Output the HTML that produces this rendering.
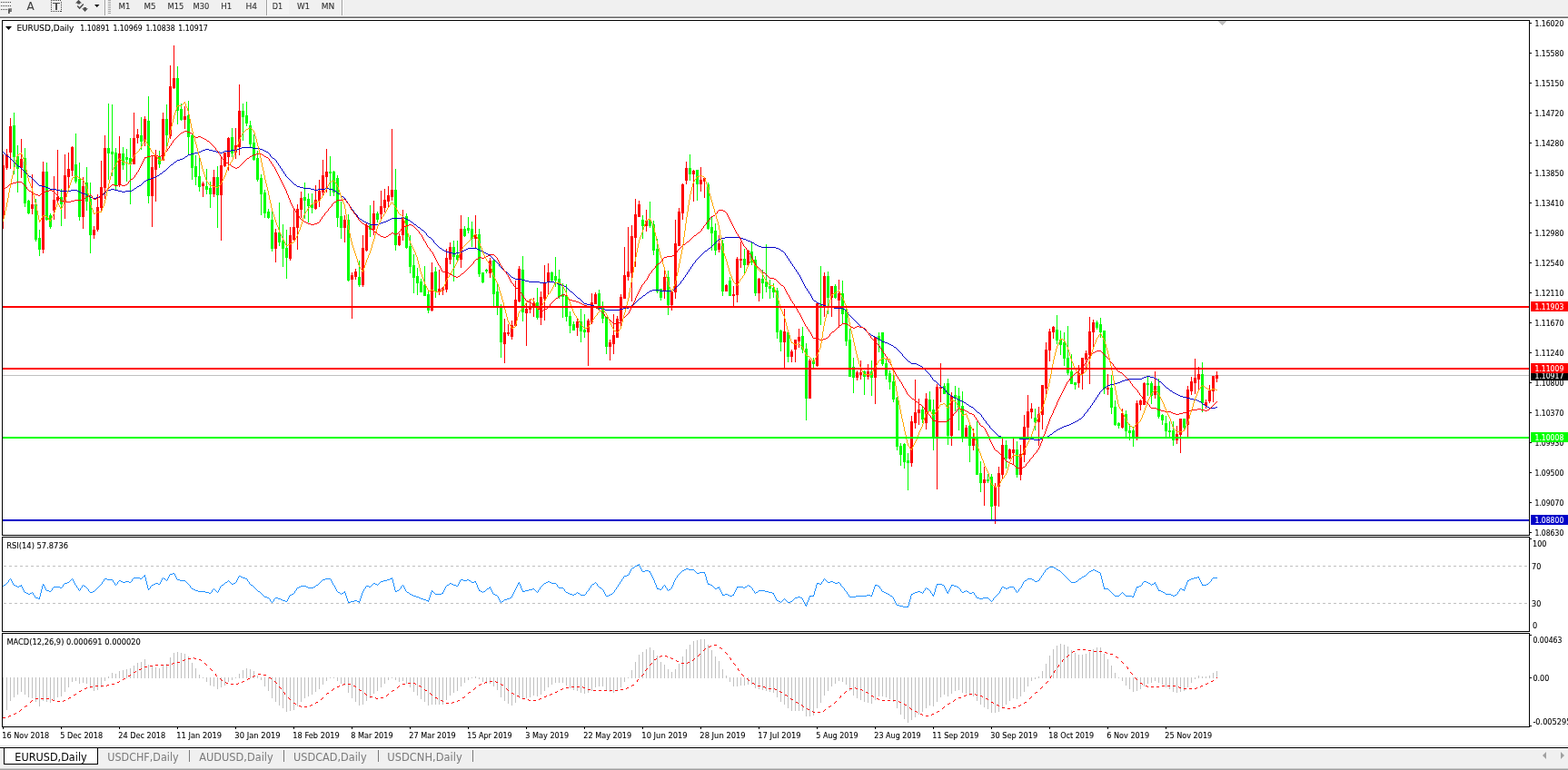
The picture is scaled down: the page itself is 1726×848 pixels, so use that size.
<!DOCTYPE html>
<html><head><meta charset="utf-8"><title>EURUSD,Daily</title>
<style>html,body{margin:0;padding:0;background:#fff;}body{width:1726px;height:848px;overflow:hidden;}
svg{display:block;font-family:"DejaVu Sans","Liberation Sans",sans-serif;}</style></head>
<body><svg width="1726" height="848" viewBox="0 0 1726 848">
<rect x="0" y="0" width="1726" height="17" fill="#f0f0f0"/>
<rect x="0" y="17" width="1726" height="1" fill="#f8f8f8"/>
<rect x="0" y="18" width="1726" height="1" fill="#a0a0a0"/>
<rect x="0" y="19" width="1726" height="1" fill="#6a6a6a"/>
<rect x="1" y="2" width="1" height="1" fill="#404040"/>
<rect x="3" y="2" width="1" height="1" fill="#404040"/>
<rect x="5" y="2" width="1" height="1" fill="#404040"/>
<rect x="7" y="2" width="1" height="1" fill="#404040"/>
<rect x="9" y="2" width="1" height="1" fill="#404040"/>
<rect x="11" y="2" width="1" height="1" fill="#404040"/>
<rect x="1" y="6" width="1" height="1" fill="#404040"/>
<rect x="3" y="6" width="1" height="1" fill="#404040"/>
<rect x="5" y="6" width="1" height="1" fill="#404040"/>
<rect x="7" y="6" width="1" height="1" fill="#404040"/>
<rect x="9" y="6" width="1" height="1" fill="#404040"/>
<rect x="11" y="6" width="1" height="1" fill="#404040"/>
<rect x="1" y="10" width="1" height="1" fill="#404040"/>
<rect x="3" y="10" width="1" height="1" fill="#404040"/>
<rect x="5" y="10" width="1" height="1" fill="#404040"/>
<rect x="7" y="10" width="1" height="1" fill="#404040"/>
<text x="8.6" y="15.2" font-size="7.5" fill="#404040" stroke="#404040" stroke-width="0.1" font-weight="bold">F</text>
<text x="29.6" y="11" font-size="12" fill="#404040" stroke="#404040" stroke-width="0.1" font-weight="normal">A</text>
<rect x="56" y="0" width="1" height="1" fill="#404040"/>
<rect x="56" y="12" width="1" height="1" fill="#404040"/>
<rect x="58" y="0" width="1" height="1" fill="#404040"/>
<rect x="58" y="12" width="1" height="1" fill="#404040"/>
<rect x="60" y="0" width="1" height="1" fill="#404040"/>
<rect x="60" y="12" width="1" height="1" fill="#404040"/>
<rect x="62" y="0" width="1" height="1" fill="#404040"/>
<rect x="62" y="12" width="1" height="1" fill="#404040"/>
<rect x="64" y="0" width="1" height="1" fill="#404040"/>
<rect x="64" y="12" width="1" height="1" fill="#404040"/>
<rect x="66" y="0" width="1" height="1" fill="#404040"/>
<rect x="66" y="12" width="1" height="1" fill="#404040"/>
<rect x="56" y="2" width="1" height="1" fill="#404040"/>
<rect x="67" y="2" width="1" height="1" fill="#404040"/>
<rect x="56" y="4" width="1" height="1" fill="#404040"/>
<rect x="67" y="4" width="1" height="1" fill="#404040"/>
<rect x="56" y="6" width="1" height="1" fill="#404040"/>
<rect x="67" y="6" width="1" height="1" fill="#404040"/>
<rect x="56" y="8" width="1" height="1" fill="#404040"/>
<rect x="67" y="8" width="1" height="1" fill="#404040"/>
<rect x="56" y="10" width="1" height="1" fill="#404040"/>
<rect x="67" y="10" width="1" height="1" fill="#404040"/>
<rect x="56" y="12" width="1" height="1" fill="#404040"/>
<rect x="67" y="12" width="1" height="1" fill="#404040"/>
<rect x="58" y="3" width="8" height="1" fill="#505050"/>
<rect x="61" y="3" width="2" height="8" fill="#505050"/>
<path d="M83,3.6 L86.5,-0.2 L90,3.6 L88.1,3.6 L88.1,4.6 L85.3,4.6 L85.3,3.6 Z" fill="#505050"/>
<path d="M90.2,9.2 L92.2,9.2 L92.2,8.1 L94.9,8.1 L94.9,9.2 L96.9,9.2 L93.55,12.9 Z" fill="#505050"/>
<path d="M85.2,6.6 L87.6,9.1 L91.8,4.4" stroke="#505050" stroke-width="1.5" fill="none"/>
<path d="M104,5 L109.5,5 L106.75,8 Z" fill="#000"/>
<rect x="115" y="0" width="1" height="17" fill="#a0a0a0"/>
<rect x="116" y="0" width="1" height="17" fill="#ffffff"/>
<rect x="119" y="0" width="3" height="1" fill="#a8a8a8"/>
<rect x="119" y="2" width="3" height="1" fill="#a8a8a8"/>
<rect x="119" y="4" width="3" height="1" fill="#a8a8a8"/>
<rect x="119" y="6" width="3" height="1" fill="#a8a8a8"/>
<rect x="119" y="8" width="3" height="1" fill="#a8a8a8"/>
<rect x="119" y="10" width="3" height="1" fill="#a8a8a8"/>
<rect x="119" y="12" width="3" height="1" fill="#a8a8a8"/>
<rect x="119" y="14" width="3" height="1" fill="#a8a8a8"/>
<rect x="293" y="0" width="1" height="17" fill="#a0a0a0"/>
<rect x="294" y="0" width="1" height="17" fill="#ffffff"/>
<rect x="295" y="0" width="23" height="16" fill="#f4f4f4"/>
<rect x="376" y="0" width="1" height="17" fill="#a0a0a0"/>
<rect x="377" y="0" width="1" height="17" fill="#ffffff"/>
<text x="130.5" y="10" font-size="9" fill="#333" stroke="#333" stroke-width="0.1" textLength="13" lengthAdjust="spacingAndGlyphs">M1</text>
<text x="158.5" y="10" font-size="9" fill="#333" stroke="#333" stroke-width="0.1" textLength="13" lengthAdjust="spacingAndGlyphs">M5</text>
<text x="184.5" y="10" font-size="9" fill="#333" stroke="#333" stroke-width="0.1" textLength="17.8" lengthAdjust="spacingAndGlyphs">M15</text>
<text x="212.5" y="10" font-size="9" fill="#333" stroke="#333" stroke-width="0.1" textLength="17.8" lengthAdjust="spacingAndGlyphs">M30</text>
<text x="243.3" y="10" font-size="9" fill="#333" stroke="#333" stroke-width="0.1" textLength="12" lengthAdjust="spacingAndGlyphs">H1</text>
<text x="270.5" y="10" font-size="9" fill="#333" stroke="#333" stroke-width="0.1" textLength="12.6" lengthAdjust="spacingAndGlyphs">H4</text>
<text x="299.7" y="10" font-size="9" fill="#333" stroke="#333" stroke-width="0.1" textLength="11.4" lengthAdjust="spacingAndGlyphs">D1</text>
<text x="326.9" y="10" font-size="9" fill="#333" stroke="#333" stroke-width="0.1" textLength="14.2" lengthAdjust="spacingAndGlyphs">W1</text>
<text x="353.7" y="10" font-size="9" fill="#333" stroke="#333" stroke-width="0.1" textLength="14.6" lengthAdjust="spacingAndGlyphs">MN</text>
<rect x="0" y="20" width="1726" height="802" fill="#ffffff"/>
<rect x="2.5" y="22.5" width="1681" height="567" fill="none" stroke="#000" stroke-width="1"/>
<rect x="2.5" y="591.5" width="1681" height="104" fill="none" stroke="#000" stroke-width="1"/>
<rect x="2.5" y="697.5" width="1681" height="103" fill="none" stroke="#000" stroke-width="1"/>
<rect x="1684" y="25" width="2" height="1" fill="#000"/>
<text x="1689.5" y="29" font-size="9" fill="#000" stroke="#000" stroke-width="0.1" textLength="31.8" lengthAdjust="spacingAndGlyphs">1.16020</text>
<rect x="1684" y="58" width="2" height="1" fill="#000"/>
<text x="1689.5" y="62" font-size="9" fill="#000" stroke="#000" stroke-width="0.1" textLength="31.8" lengthAdjust="spacingAndGlyphs">1.15580</text>
<rect x="1684" y="91" width="2" height="1" fill="#000"/>
<text x="1689.5" y="95" font-size="9" fill="#000" stroke="#000" stroke-width="0.1" textLength="31.8" lengthAdjust="spacingAndGlyphs">1.15150</text>
<rect x="1684" y="124" width="2" height="1" fill="#000"/>
<text x="1689.5" y="128" font-size="9" fill="#000" stroke="#000" stroke-width="0.1" textLength="31.8" lengthAdjust="spacingAndGlyphs">1.14720</text>
<rect x="1684" y="157" width="2" height="1" fill="#000"/>
<text x="1689.5" y="161" font-size="9" fill="#000" stroke="#000" stroke-width="0.1" textLength="31.8" lengthAdjust="spacingAndGlyphs">1.14280</text>
<rect x="1684" y="190" width="2" height="1" fill="#000"/>
<text x="1689.5" y="194" font-size="9" fill="#000" stroke="#000" stroke-width="0.1" textLength="31.8" lengthAdjust="spacingAndGlyphs">1.13850</text>
<rect x="1684" y="223" width="2" height="1" fill="#000"/>
<text x="1689.5" y="227" font-size="9" fill="#000" stroke="#000" stroke-width="0.1" textLength="31.8" lengthAdjust="spacingAndGlyphs">1.13410</text>
<rect x="1684" y="256" width="2" height="1" fill="#000"/>
<text x="1689.5" y="260" font-size="9" fill="#000" stroke="#000" stroke-width="0.1" textLength="31.8" lengthAdjust="spacingAndGlyphs">1.12980</text>
<rect x="1684" y="289" width="2" height="1" fill="#000"/>
<text x="1689.5" y="293" font-size="9" fill="#000" stroke="#000" stroke-width="0.1" textLength="31.8" lengthAdjust="spacingAndGlyphs">1.12540</text>
<rect x="1684" y="322" width="2" height="1" fill="#000"/>
<text x="1689.5" y="326" font-size="9" fill="#000" stroke="#000" stroke-width="0.1" textLength="31.8" lengthAdjust="spacingAndGlyphs">1.12110</text>
<rect x="1684" y="355" width="2" height="1" fill="#000"/>
<text x="1689.5" y="359" font-size="9" fill="#000" stroke="#000" stroke-width="0.1" textLength="31.8" lengthAdjust="spacingAndGlyphs">1.11670</text>
<rect x="1684" y="388" width="2" height="1" fill="#000"/>
<text x="1689.5" y="392" font-size="9" fill="#000" stroke="#000" stroke-width="0.1" textLength="31.8" lengthAdjust="spacingAndGlyphs">1.11240</text>
<rect x="1684" y="421" width="2" height="1" fill="#000"/>
<text x="1689.5" y="425" font-size="9" fill="#000" stroke="#000" stroke-width="0.1" textLength="31.8" lengthAdjust="spacingAndGlyphs">1.10800</text>
<rect x="1684" y="454" width="2" height="1" fill="#000"/>
<text x="1689.5" y="458" font-size="9" fill="#000" stroke="#000" stroke-width="0.1" textLength="31.8" lengthAdjust="spacingAndGlyphs">1.10370</text>
<rect x="1684" y="487" width="2" height="1" fill="#000"/>
<text x="1689.5" y="491" font-size="9" fill="#000" stroke="#000" stroke-width="0.1" textLength="31.8" lengthAdjust="spacingAndGlyphs">1.09930</text>
<rect x="1684" y="520" width="2" height="1" fill="#000"/>
<text x="1689.5" y="524" font-size="9" fill="#000" stroke="#000" stroke-width="0.1" textLength="31.8" lengthAdjust="spacingAndGlyphs">1.09500</text>
<rect x="1684" y="553" width="2" height="1" fill="#000"/>
<text x="1689.5" y="557" font-size="9" fill="#000" stroke="#000" stroke-width="0.1" textLength="31.8" lengthAdjust="spacingAndGlyphs">1.09070</text>
<rect x="1684" y="586" width="2" height="1" fill="#000"/>
<text x="1689.5" y="590" font-size="9" fill="#000" stroke="#000" stroke-width="0.1" textLength="31.8" lengthAdjust="spacingAndGlyphs">1.08630</text>
<rect x="0" y="822" width="1726" height="26" fill="#f0f0f0"/>
<rect x="0" y="821" width="1726" height="1" fill="#e0e0e0"/>
<rect x="0" y="823" width="1726" height="1" fill="#000"/>
<rect x="0" y="846" width="1726" height="1" fill="#c8c8c8"/>
<rect x="0" y="847" width="1726" height="1" fill="#a0a0a0"/>
<defs><clipPath id="cm"><rect x="3" y="23" width="1680" height="566"/></clipPath><clipPath id="cr"><rect x="3" y="592" width="1680" height="103"/></clipPath><clipPath id="cd"><rect x="3" y="698" width="1680" height="102"/></clipPath></defs>
<g clip-path="url(#cm)" shape-rendering="crispEdges">
<rect x="3" y="413" width="1680" height="1" fill="#c0c0c0"/>
<rect x="3" y="170" width="1" height="82" fill="#ff0000"/>
<rect x="2" y="182" width="3" height="57" fill="#ff0000"/>
<rect x="7" y="164" width="1" height="23" fill="#ff0000"/>
<rect x="6" y="170" width="3" height="15" fill="#ff0000"/>
<rect x="11" y="130" width="1" height="56" fill="#ff0000"/>
<rect x="10" y="139" width="3" height="29" fill="#ff0000"/>
<rect x="15" y="124" width="1" height="68" fill="#00ff00"/>
<rect x="14" y="138" width="3" height="35" fill="#00ff00"/>
<rect x="19" y="160" width="1" height="52" fill="#00ff00"/>
<rect x="18" y="172" width="3" height="14" fill="#00ff00"/>
<rect x="23" y="153" width="1" height="43" fill="#ff0000"/>
<rect x="22" y="175" width="3" height="10" fill="#ff0000"/>
<rect x="27" y="163" width="1" height="65" fill="#00ff00"/>
<rect x="26" y="174" width="3" height="50" fill="#00ff00"/>
<rect x="31" y="220" width="1" height="16" fill="#00ff00"/>
<rect x="30" y="221" width="3" height="14" fill="#00ff00"/>
<rect x="35" y="192" width="1" height="44" fill="#ff0000"/>
<rect x="34" y="225" width="3" height="5" fill="#ff0000"/>
<rect x="39" y="219" width="1" height="47" fill="#00ff00"/>
<rect x="38" y="225" width="3" height="39" fill="#00ff00"/>
<rect x="43" y="253" width="1" height="29" fill="#00ff00"/>
<rect x="42" y="262" width="3" height="13" fill="#00ff00"/>
<rect x="47" y="178" width="1" height="101" fill="#ff0000"/>
<rect x="46" y="189" width="3" height="86" fill="#ff0000"/>
<rect x="51" y="179" width="1" height="64" fill="#00ff00"/>
<rect x="50" y="189" width="3" height="53" fill="#00ff00"/>
<rect x="55" y="235" width="1" height="17" fill="#00ff00"/>
<rect x="54" y="237" width="3" height="13" fill="#00ff00"/>
<rect x="59" y="194" width="1" height="48" fill="#ff0000"/>
<rect x="58" y="220" width="3" height="12" fill="#ff0000"/>
<rect x="63" y="165" width="1" height="58" fill="#ff0000"/>
<rect x="62" y="217" width="3" height="4" fill="#ff0000"/>
<rect x="67" y="208" width="1" height="41" fill="#00ff00"/>
<rect x="66" y="217" width="3" height="8" fill="#00ff00"/>
<rect x="71" y="170" width="1" height="71" fill="#ff0000"/>
<rect x="70" y="193" width="3" height="30" fill="#ff0000"/>
<rect x="75" y="168" width="1" height="41" fill="#ff0000"/>
<rect x="74" y="186" width="3" height="9" fill="#ff0000"/>
<rect x="79" y="161" width="1" height="33" fill="#ff0000"/>
<rect x="78" y="162" width="3" height="26" fill="#ff0000"/>
<rect x="83" y="147" width="1" height="55" fill="#00ff00"/>
<rect x="82" y="181" width="3" height="19" fill="#00ff00"/>
<rect x="87" y="179" width="1" height="64" fill="#00ff00"/>
<rect x="86" y="197" width="3" height="42" fill="#00ff00"/>
<rect x="91" y="195" width="1" height="57" fill="#ff0000"/>
<rect x="90" y="205" width="3" height="34" fill="#ff0000"/>
<rect x="95" y="184" width="1" height="48" fill="#00ff00"/>
<rect x="94" y="201" width="3" height="21" fill="#00ff00"/>
<rect x="99" y="201" width="1" height="78" fill="#00ff00"/>
<rect x="98" y="219" width="3" height="40" fill="#00ff00"/>
<rect x="103" y="249" width="1" height="14" fill="#ff0000"/>
<rect x="102" y="253" width="3" height="6" fill="#ff0000"/>
<rect x="107" y="214" width="1" height="41" fill="#ff0000"/>
<rect x="106" y="228" width="3" height="25" fill="#ff0000"/>
<rect x="111" y="177" width="1" height="56" fill="#ff0000"/>
<rect x="110" y="206" width="3" height="23" fill="#ff0000"/>
<rect x="115" y="149" width="1" height="70" fill="#ff0000"/>
<rect x="114" y="163" width="3" height="44" fill="#ff0000"/>
<rect x="119" y="114" width="1" height="84" fill="#00ff00"/>
<rect x="118" y="163" width="3" height="6" fill="#00ff00"/>
<rect x="123" y="115" width="1" height="79" fill="#00ff00"/>
<rect x="122" y="167" width="3" height="3" fill="#00ff00"/>
<rect x="127" y="163" width="1" height="47" fill="#00ff00"/>
<rect x="126" y="168" width="3" height="36" fill="#00ff00"/>
<rect x="131" y="150" width="1" height="56" fill="#ff0000"/>
<rect x="130" y="169" width="3" height="35" fill="#ff0000"/>
<rect x="135" y="162" width="1" height="25" fill="#00ff00"/>
<rect x="134" y="169" width="3" height="13" fill="#00ff00"/>
<rect x="139" y="164" width="1" height="36" fill="#00ff00"/>
<rect x="138" y="173" width="3" height="3" fill="#00ff00"/>
<rect x="143" y="152" width="1" height="73" fill="#00ff00"/>
<rect x="142" y="174" width="3" height="7" fill="#00ff00"/>
<rect x="147" y="124" width="1" height="57" fill="#ff0000"/>
<rect x="146" y="152" width="3" height="29" fill="#ff0000"/>
<rect x="151" y="142" width="1" height="16" fill="#ff0000"/>
<rect x="150" y="148" width="3" height="4" fill="#ff0000"/>
<rect x="155" y="129" width="1" height="36" fill="#00ff00"/>
<rect x="154" y="149" width="3" height="7" fill="#00ff00"/>
<rect x="159" y="128" width="1" height="33" fill="#ff0000"/>
<rect x="158" y="131" width="3" height="24" fill="#ff0000"/>
<rect x="163" y="106" width="1" height="118" fill="#00ff00"/>
<rect x="162" y="133" width="3" height="83" fill="#00ff00"/>
<rect x="167" y="172" width="1" height="78" fill="#ff0000"/>
<rect x="166" y="184" width="3" height="32" fill="#ff0000"/>
<rect x="171" y="165" width="1" height="57" fill="#ff0000"/>
<rect x="170" y="171" width="3" height="16" fill="#ff0000"/>
<rect x="175" y="166" width="1" height="19" fill="#00ff00"/>
<rect x="174" y="172" width="3" height="9" fill="#00ff00"/>
<rect x="179" y="124" width="1" height="53" fill="#ff0000"/>
<rect x="178" y="131" width="3" height="46" fill="#ff0000"/>
<rect x="183" y="115" width="1" height="47" fill="#00ff00"/>
<rect x="182" y="131" width="3" height="18" fill="#00ff00"/>
<rect x="187" y="72" width="1" height="81" fill="#ff0000"/>
<rect x="186" y="95" width="3" height="55" fill="#ff0000"/>
<rect x="191" y="50" width="1" height="48" fill="#ff0000"/>
<rect x="190" y="86" width="3" height="11" fill="#ff0000"/>
<rect x="195" y="73" width="1" height="64" fill="#00ff00"/>
<rect x="194" y="86" width="3" height="36" fill="#00ff00"/>
<rect x="199" y="114" width="1" height="19" fill="#00ff00"/>
<rect x="198" y="120" width="3" height="12" fill="#00ff00"/>
<rect x="203" y="117" width="1" height="25" fill="#ff0000"/>
<rect x="202" y="128" width="3" height="4" fill="#ff0000"/>
<rect x="207" y="111" width="1" height="60" fill="#00ff00"/>
<rect x="206" y="127" width="3" height="24" fill="#00ff00"/>
<rect x="211" y="148" width="1" height="50" fill="#00ff00"/>
<rect x="210" y="149" width="3" height="36" fill="#00ff00"/>
<rect x="215" y="171" width="1" height="33" fill="#00ff00"/>
<rect x="214" y="183" width="3" height="12" fill="#00ff00"/>
<rect x="219" y="174" width="1" height="37" fill="#00ff00"/>
<rect x="218" y="194" width="3" height="12" fill="#00ff00"/>
<rect x="223" y="200" width="1" height="17" fill="#ff0000"/>
<rect x="222" y="202" width="3" height="3" fill="#ff0000"/>
<rect x="227" y="186" width="1" height="28" fill="#00ff00"/>
<rect x="226" y="205" width="3" height="4" fill="#00ff00"/>
<rect x="231" y="200" width="1" height="29" fill="#00ff00"/>
<rect x="230" y="207" width="3" height="7" fill="#00ff00"/>
<rect x="235" y="187" width="1" height="30" fill="#ff0000"/>
<rect x="234" y="195" width="3" height="19" fill="#ff0000"/>
<rect x="239" y="183" width="1" height="68" fill="#00ff00"/>
<rect x="238" y="195" width="3" height="20" fill="#00ff00"/>
<rect x="243" y="173" width="1" height="92" fill="#ff0000"/>
<rect x="242" y="182" width="3" height="33" fill="#ff0000"/>
<rect x="247" y="168" width="1" height="16" fill="#ff0000"/>
<rect x="246" y="168" width="3" height="15" fill="#ff0000"/>
<rect x="251" y="151" width="1" height="37" fill="#ff0000"/>
<rect x="250" y="152" width="3" height="21" fill="#ff0000"/>
<rect x="255" y="141" width="1" height="32" fill="#00ff00"/>
<rect x="254" y="151" width="3" height="18" fill="#00ff00"/>
<rect x="259" y="141" width="1" height="34" fill="#ff0000"/>
<rect x="258" y="160" width="3" height="8" fill="#ff0000"/>
<rect x="263" y="93" width="1" height="78" fill="#ff0000"/>
<rect x="262" y="122" width="3" height="40" fill="#ff0000"/>
<rect x="267" y="114" width="1" height="41" fill="#00ff00"/>
<rect x="266" y="122" width="3" height="7" fill="#00ff00"/>
<rect x="271" y="112" width="1" height="27" fill="#00ff00"/>
<rect x="270" y="127" width="3" height="9" fill="#00ff00"/>
<rect x="275" y="133" width="1" height="29" fill="#00ff00"/>
<rect x="274" y="138" width="3" height="21" fill="#00ff00"/>
<rect x="279" y="148" width="1" height="29" fill="#00ff00"/>
<rect x="278" y="157" width="3" height="19" fill="#00ff00"/>
<rect x="283" y="166" width="1" height="34" fill="#00ff00"/>
<rect x="282" y="174" width="3" height="24" fill="#00ff00"/>
<rect x="287" y="192" width="1" height="45" fill="#00ff00"/>
<rect x="286" y="196" width="3" height="18" fill="#00ff00"/>
<rect x="291" y="209" width="1" height="31" fill="#00ff00"/>
<rect x="290" y="212" width="3" height="23" fill="#00ff00"/>
<rect x="295" y="230" width="1" height="11" fill="#00ff00"/>
<rect x="294" y="233" width="3" height="7" fill="#00ff00"/>
<rect x="299" y="233" width="1" height="44" fill="#00ff00"/>
<rect x="298" y="242" width="3" height="32" fill="#00ff00"/>
<rect x="303" y="252" width="1" height="37" fill="#ff0000"/>
<rect x="302" y="256" width="3" height="18" fill="#ff0000"/>
<rect x="307" y="223" width="1" height="48" fill="#00ff00"/>
<rect x="306" y="256" width="3" height="11" fill="#00ff00"/>
<rect x="311" y="247" width="1" height="47" fill="#00ff00"/>
<rect x="310" y="265" width="3" height="9" fill="#00ff00"/>
<rect x="315" y="253" width="1" height="54" fill="#00ff00"/>
<rect x="314" y="273" width="3" height="11" fill="#00ff00"/>
<rect x="319" y="250" width="1" height="37" fill="#ff0000"/>
<rect x="318" y="259" width="3" height="26" fill="#ff0000"/>
<rect x="323" y="230" width="1" height="35" fill="#ff0000"/>
<rect x="322" y="250" width="3" height="14" fill="#ff0000"/>
<rect x="327" y="225" width="1" height="50" fill="#ff0000"/>
<rect x="326" y="230" width="3" height="21" fill="#ff0000"/>
<rect x="331" y="211" width="1" height="29" fill="#ff0000"/>
<rect x="330" y="218" width="3" height="13" fill="#ff0000"/>
<rect x="335" y="201" width="1" height="40" fill="#00ff00"/>
<rect x="334" y="217" width="3" height="4" fill="#00ff00"/>
<rect x="339" y="213" width="1" height="32" fill="#00ff00"/>
<rect x="338" y="219" width="3" height="8" fill="#00ff00"/>
<rect x="343" y="213" width="1" height="22" fill="#00ff00"/>
<rect x="342" y="225" width="3" height="4" fill="#00ff00"/>
<rect x="347" y="204" width="1" height="27" fill="#ff0000"/>
<rect x="346" y="220" width="3" height="10" fill="#ff0000"/>
<rect x="351" y="198" width="1" height="30" fill="#ff0000"/>
<rect x="350" y="210" width="3" height="11" fill="#ff0000"/>
<rect x="355" y="176" width="1" height="40" fill="#ff0000"/>
<rect x="354" y="193" width="3" height="19" fill="#ff0000"/>
<rect x="359" y="164" width="1" height="48" fill="#ff0000"/>
<rect x="358" y="189" width="3" height="6" fill="#ff0000"/>
<rect x="363" y="172" width="1" height="44" fill="#00ff00"/>
<rect x="362" y="189" width="3" height="2" fill="#00ff00"/>
<rect x="367" y="188" width="1" height="28" fill="#00ff00"/>
<rect x="366" y="189" width="3" height="23" fill="#00ff00"/>
<rect x="371" y="193" width="1" height="57" fill="#00ff00"/>
<rect x="370" y="196" width="3" height="44" fill="#00ff00"/>
<rect x="375" y="222" width="1" height="41" fill="#00ff00"/>
<rect x="374" y="238" width="3" height="13" fill="#00ff00"/>
<rect x="379" y="237" width="1" height="30" fill="#ff0000"/>
<rect x="378" y="242" width="3" height="9" fill="#ff0000"/>
<rect x="383" y="236" width="1" height="74" fill="#00ff00"/>
<rect x="382" y="242" width="3" height="67" fill="#00ff00"/>
<rect x="387" y="300" width="1" height="51" fill="#ff0000"/>
<rect x="386" y="303" width="3" height="5" fill="#ff0000"/>
<rect x="391" y="296" width="1" height="12" fill="#ff0000"/>
<rect x="390" y="299" width="3" height="6" fill="#ff0000"/>
<rect x="395" y="287" width="1" height="29" fill="#00ff00"/>
<rect x="394" y="305" width="3" height="9" fill="#00ff00"/>
<rect x="399" y="259" width="1" height="57" fill="#ff0000"/>
<rect x="398" y="273" width="3" height="41" fill="#ff0000"/>
<rect x="403" y="245" width="1" height="32" fill="#ff0000"/>
<rect x="402" y="248" width="3" height="28" fill="#ff0000"/>
<rect x="407" y="226" width="1" height="35" fill="#00ff00"/>
<rect x="406" y="248" width="3" height="5" fill="#00ff00"/>
<rect x="411" y="221" width="1" height="38" fill="#ff0000"/>
<rect x="410" y="235" width="3" height="18" fill="#ff0000"/>
<rect x="415" y="233" width="1" height="12" fill="#00ff00"/>
<rect x="414" y="235" width="3" height="7" fill="#00ff00"/>
<rect x="419" y="210" width="1" height="31" fill="#ff0000"/>
<rect x="418" y="227" width="3" height="9" fill="#ff0000"/>
<rect x="423" y="208" width="1" height="26" fill="#ff0000"/>
<rect x="422" y="220" width="3" height="9" fill="#ff0000"/>
<rect x="427" y="205" width="1" height="23" fill="#ff0000"/>
<rect x="426" y="215" width="3" height="7" fill="#ff0000"/>
<rect x="431" y="142" width="1" height="79" fill="#ff0000"/>
<rect x="430" y="209" width="3" height="8" fill="#ff0000"/>
<rect x="435" y="186" width="1" height="90" fill="#00ff00"/>
<rect x="434" y="209" width="3" height="61" fill="#00ff00"/>
<rect x="439" y="257" width="1" height="14" fill="#ff0000"/>
<rect x="438" y="260" width="3" height="10" fill="#ff0000"/>
<rect x="443" y="231" width="1" height="34" fill="#ff0000"/>
<rect x="442" y="240" width="3" height="19" fill="#ff0000"/>
<rect x="447" y="235" width="1" height="39" fill="#00ff00"/>
<rect x="446" y="238" width="3" height="35" fill="#00ff00"/>
<rect x="451" y="259" width="1" height="42" fill="#00ff00"/>
<rect x="450" y="271" width="3" height="23" fill="#00ff00"/>
<rect x="455" y="280" width="1" height="43" fill="#00ff00"/>
<rect x="454" y="292" width="3" height="14" fill="#00ff00"/>
<rect x="459" y="295" width="1" height="30" fill="#00ff00"/>
<rect x="458" y="304" width="3" height="8" fill="#00ff00"/>
<rect x="463" y="307" width="1" height="15" fill="#00ff00"/>
<rect x="462" y="310" width="3" height="12" fill="#00ff00"/>
<rect x="467" y="293" width="1" height="33" fill="#00ff00"/>
<rect x="466" y="314" width="3" height="12" fill="#00ff00"/>
<rect x="471" y="321" width="1" height="24" fill="#00ff00"/>
<rect x="470" y="324" width="3" height="18" fill="#00ff00"/>
<rect x="475" y="289" width="1" height="54" fill="#ff0000"/>
<rect x="474" y="300" width="3" height="42" fill="#ff0000"/>
<rect x="479" y="294" width="1" height="34" fill="#00ff00"/>
<rect x="478" y="299" width="3" height="22" fill="#00ff00"/>
<rect x="483" y="297" width="1" height="28" fill="#ff0000"/>
<rect x="482" y="318" width="3" height="3" fill="#ff0000"/>
<rect x="487" y="316" width="1" height="9" fill="#ff0000"/>
<rect x="486" y="317" width="3" height="3" fill="#ff0000"/>
<rect x="491" y="274" width="1" height="48" fill="#ff0000"/>
<rect x="490" y="284" width="3" height="35" fill="#ff0000"/>
<rect x="495" y="267" width="1" height="24" fill="#ff0000"/>
<rect x="494" y="272" width="3" height="14" fill="#ff0000"/>
<rect x="499" y="265" width="1" height="45" fill="#00ff00"/>
<rect x="498" y="272" width="3" height="11" fill="#00ff00"/>
<rect x="503" y="265" width="1" height="23" fill="#00ff00"/>
<rect x="502" y="281" width="3" height="5" fill="#00ff00"/>
<rect x="507" y="237" width="1" height="58" fill="#ff0000"/>
<rect x="506" y="252" width="3" height="34" fill="#ff0000"/>
<rect x="511" y="249" width="1" height="12" fill="#00ff00"/>
<rect x="510" y="252" width="3" height="8" fill="#00ff00"/>
<rect x="515" y="239" width="1" height="18" fill="#00ff00"/>
<rect x="514" y="251" width="3" height="3" fill="#00ff00"/>
<rect x="519" y="244" width="1" height="28" fill="#00ff00"/>
<rect x="518" y="252" width="3" height="11" fill="#00ff00"/>
<rect x="523" y="237" width="1" height="36" fill="#ff0000"/>
<rect x="522" y="258" width="3" height="5" fill="#ff0000"/>
<rect x="527" y="252" width="1" height="53" fill="#00ff00"/>
<rect x="526" y="258" width="3" height="44" fill="#00ff00"/>
<rect x="531" y="300" width="1" height="12" fill="#00ff00"/>
<rect x="530" y="300" width="3" height="11" fill="#00ff00"/>
<rect x="535" y="296" width="1" height="5" fill="#00ff00"/>
<rect x="534" y="297" width="3" height="2" fill="#00ff00"/>
<rect x="539" y="284" width="1" height="22" fill="#ff0000"/>
<rect x="538" y="287" width="3" height="14" fill="#ff0000"/>
<rect x="543" y="285" width="1" height="53" fill="#00ff00"/>
<rect x="542" y="287" width="3" height="37" fill="#00ff00"/>
<rect x="547" y="312" width="1" height="35" fill="#00ff00"/>
<rect x="546" y="321" width="3" height="17" fill="#00ff00"/>
<rect x="551" y="335" width="1" height="59" fill="#00ff00"/>
<rect x="550" y="337" width="3" height="40" fill="#00ff00"/>
<rect x="555" y="351" width="1" height="49" fill="#ff0000"/>
<rect x="554" y="366" width="3" height="13" fill="#ff0000"/>
<rect x="559" y="357" width="1" height="13" fill="#ff0000"/>
<rect x="558" y="366" width="3" height="2" fill="#ff0000"/>
<rect x="563" y="353" width="1" height="21" fill="#ff0000"/>
<rect x="562" y="358" width="3" height="13" fill="#ff0000"/>
<rect x="567" y="309" width="1" height="51" fill="#ff0000"/>
<rect x="566" y="330" width="3" height="29" fill="#ff0000"/>
<rect x="571" y="293" width="1" height="40" fill="#ff0000"/>
<rect x="570" y="296" width="3" height="36" fill="#ff0000"/>
<rect x="575" y="282" width="1" height="72" fill="#00ff00"/>
<rect x="574" y="297" width="3" height="47" fill="#00ff00"/>
<rect x="579" y="333" width="1" height="48" fill="#ff0000"/>
<rect x="578" y="340" width="3" height="5" fill="#ff0000"/>
<rect x="583" y="330" width="1" height="15" fill="#ff0000"/>
<rect x="582" y="337" width="3" height="4" fill="#ff0000"/>
<rect x="587" y="328" width="1" height="21" fill="#ff0000"/>
<rect x="586" y="334" width="3" height="5" fill="#ff0000"/>
<rect x="591" y="317" width="1" height="35" fill="#00ff00"/>
<rect x="590" y="333" width="3" height="17" fill="#00ff00"/>
<rect x="595" y="321" width="1" height="37" fill="#ff0000"/>
<rect x="594" y="327" width="3" height="23" fill="#ff0000"/>
<rect x="599" y="292" width="1" height="61" fill="#ff0000"/>
<rect x="598" y="311" width="3" height="18" fill="#ff0000"/>
<rect x="603" y="290" width="1" height="34" fill="#ff0000"/>
<rect x="602" y="300" width="3" height="11" fill="#ff0000"/>
<rect x="607" y="299" width="1" height="12" fill="#00ff00"/>
<rect x="606" y="300" width="3" height="9" fill="#00ff00"/>
<rect x="611" y="283" width="1" height="33" fill="#00ff00"/>
<rect x="610" y="304" width="3" height="5" fill="#00ff00"/>
<rect x="615" y="297" width="1" height="32" fill="#00ff00"/>
<rect x="614" y="307" width="3" height="20" fill="#00ff00"/>
<rect x="619" y="312" width="1" height="38" fill="#00ff00"/>
<rect x="618" y="324" width="3" height="3" fill="#00ff00"/>
<rect x="623" y="313" width="1" height="41" fill="#00ff00"/>
<rect x="622" y="325" width="3" height="24" fill="#00ff00"/>
<rect x="627" y="343" width="1" height="24" fill="#00ff00"/>
<rect x="626" y="348" width="3" height="11" fill="#00ff00"/>
<rect x="631" y="354" width="1" height="10" fill="#00ff00"/>
<rect x="630" y="357" width="3" height="7" fill="#00ff00"/>
<rect x="635" y="351" width="1" height="19" fill="#ff0000"/>
<rect x="634" y="354" width="3" height="7" fill="#ff0000"/>
<rect x="639" y="340" width="1" height="37" fill="#00ff00"/>
<rect x="638" y="354" width="3" height="11" fill="#00ff00"/>
<rect x="643" y="346" width="1" height="26" fill="#00ff00"/>
<rect x="642" y="363" width="3" height="3" fill="#00ff00"/>
<rect x="647" y="351" width="1" height="52" fill="#ff0000"/>
<rect x="646" y="353" width="3" height="13" fill="#ff0000"/>
<rect x="651" y="323" width="1" height="34" fill="#ff0000"/>
<rect x="650" y="333" width="3" height="22" fill="#ff0000"/>
<rect x="655" y="322" width="1" height="13" fill="#ff0000"/>
<rect x="654" y="324" width="3" height="11" fill="#ff0000"/>
<rect x="659" y="319" width="1" height="22" fill="#00ff00"/>
<rect x="658" y="323" width="3" height="17" fill="#00ff00"/>
<rect x="663" y="332" width="1" height="24" fill="#00ff00"/>
<rect x="662" y="339" width="3" height="12" fill="#00ff00"/>
<rect x="667" y="349" width="1" height="41" fill="#00ff00"/>
<rect x="666" y="349" width="3" height="33" fill="#00ff00"/>
<rect x="671" y="374" width="1" height="23" fill="#ff0000"/>
<rect x="670" y="377" width="3" height="5" fill="#ff0000"/>
<rect x="675" y="346" width="1" height="44" fill="#ff0000"/>
<rect x="674" y="369" width="3" height="10" fill="#ff0000"/>
<rect x="679" y="348" width="1" height="24" fill="#ff0000"/>
<rect x="678" y="351" width="3" height="21" fill="#ff0000"/>
<rect x="683" y="324" width="1" height="37" fill="#ff0000"/>
<rect x="682" y="327" width="3" height="27" fill="#ff0000"/>
<rect x="687" y="272" width="1" height="57" fill="#ff0000"/>
<rect x="686" y="303" width="3" height="26" fill="#ff0000"/>
<rect x="691" y="250" width="1" height="59" fill="#ff0000"/>
<rect x="690" y="299" width="3" height="6" fill="#ff0000"/>
<rect x="695" y="248" width="1" height="84" fill="#ff0000"/>
<rect x="694" y="260" width="3" height="41" fill="#ff0000"/>
<rect x="699" y="219" width="1" height="75" fill="#ff0000"/>
<rect x="698" y="236" width="3" height="26" fill="#ff0000"/>
<rect x="703" y="221" width="1" height="18" fill="#ff0000"/>
<rect x="702" y="225" width="3" height="14" fill="#ff0000"/>
<rect x="707" y="237" width="1" height="26" fill="#00ff00"/>
<rect x="706" y="242" width="3" height="7" fill="#00ff00"/>
<rect x="711" y="231" width="1" height="24" fill="#ff0000"/>
<rect x="710" y="243" width="3" height="6" fill="#ff0000"/>
<rect x="715" y="222" width="1" height="29" fill="#00ff00"/>
<rect x="714" y="242" width="3" height="7" fill="#00ff00"/>
<rect x="719" y="243" width="1" height="38" fill="#00ff00"/>
<rect x="718" y="247" width="3" height="29" fill="#00ff00"/>
<rect x="723" y="263" width="1" height="60" fill="#00ff00"/>
<rect x="722" y="274" width="3" height="47" fill="#00ff00"/>
<rect x="727" y="318" width="1" height="13" fill="#00ff00"/>
<rect x="726" y="318" width="3" height="10" fill="#00ff00"/>
<rect x="731" y="297" width="1" height="32" fill="#ff0000"/>
<rect x="730" y="305" width="3" height="16" fill="#ff0000"/>
<rect x="735" y="298" width="1" height="49" fill="#00ff00"/>
<rect x="734" y="305" width="3" height="31" fill="#00ff00"/>
<rect x="739" y="320" width="1" height="22" fill="#ff0000"/>
<rect x="738" y="321" width="3" height="15" fill="#ff0000"/>
<rect x="743" y="242" width="1" height="87" fill="#ff0000"/>
<rect x="742" y="268" width="3" height="54" fill="#ff0000"/>
<rect x="747" y="229" width="1" height="42" fill="#ff0000"/>
<rect x="746" y="233" width="3" height="38" fill="#ff0000"/>
<rect x="751" y="202" width="1" height="40" fill="#ff0000"/>
<rect x="750" y="203" width="3" height="32" fill="#ff0000"/>
<rect x="755" y="178" width="1" height="25" fill="#ff0000"/>
<rect x="754" y="185" width="3" height="14" fill="#ff0000"/>
<rect x="759" y="170" width="1" height="29" fill="#00ff00"/>
<rect x="758" y="185" width="3" height="7" fill="#00ff00"/>
<rect x="763" y="187" width="1" height="35" fill="#ff0000"/>
<rect x="762" y="188" width="3" height="4" fill="#ff0000"/>
<rect x="767" y="187" width="1" height="34" fill="#00ff00"/>
<rect x="766" y="187" width="3" height="16" fill="#00ff00"/>
<rect x="771" y="184" width="1" height="27" fill="#ff0000"/>
<rect x="770" y="198" width="3" height="5" fill="#ff0000"/>
<rect x="775" y="196" width="1" height="22" fill="#ff0000"/>
<rect x="774" y="196" width="3" height="4" fill="#ff0000"/>
<rect x="779" y="201" width="1" height="52" fill="#00ff00"/>
<rect x="778" y="203" width="3" height="49" fill="#00ff00"/>
<rect x="783" y="239" width="1" height="37" fill="#00ff00"/>
<rect x="782" y="250" width="3" height="7" fill="#00ff00"/>
<rect x="787" y="246" width="1" height="35" fill="#00ff00"/>
<rect x="786" y="254" width="3" height="22" fill="#00ff00"/>
<rect x="791" y="259" width="1" height="19" fill="#ff0000"/>
<rect x="790" y="268" width="3" height="7" fill="#ff0000"/>
<rect x="795" y="264" width="1" height="62" fill="#00ff00"/>
<rect x="794" y="268" width="3" height="53" fill="#00ff00"/>
<rect x="799" y="313" width="1" height="8" fill="#ff0000"/>
<rect x="798" y="314" width="3" height="7" fill="#ff0000"/>
<rect x="803" y="305" width="1" height="21" fill="#00ff00"/>
<rect x="802" y="309" width="3" height="17" fill="#00ff00"/>
<rect x="807" y="315" width="1" height="23" fill="#ff0000"/>
<rect x="806" y="324" width="3" height="2" fill="#ff0000"/>
<rect x="811" y="283" width="1" height="50" fill="#ff0000"/>
<rect x="810" y="285" width="3" height="40" fill="#ff0000"/>
<rect x="815" y="266" width="1" height="29" fill="#ff0000"/>
<rect x="814" y="285" width="3" height="2" fill="#ff0000"/>
<rect x="819" y="274" width="1" height="28" fill="#00ff00"/>
<rect x="818" y="285" width="3" height="7" fill="#00ff00"/>
<rect x="823" y="275" width="1" height="18" fill="#ff0000"/>
<rect x="822" y="276" width="3" height="16" fill="#ff0000"/>
<rect x="827" y="267" width="1" height="25" fill="#00ff00"/>
<rect x="826" y="277" width="3" height="12" fill="#00ff00"/>
<rect x="831" y="282" width="1" height="44" fill="#00ff00"/>
<rect x="830" y="286" width="3" height="37" fill="#00ff00"/>
<rect x="835" y="306" width="1" height="26" fill="#ff0000"/>
<rect x="834" y="307" width="3" height="16" fill="#ff0000"/>
<rect x="839" y="297" width="1" height="32" fill="#00ff00"/>
<rect x="838" y="307" width="3" height="5" fill="#00ff00"/>
<rect x="843" y="269" width="1" height="53" fill="#00ff00"/>
<rect x="842" y="310" width="3" height="6" fill="#00ff00"/>
<rect x="847" y="308" width="1" height="21" fill="#00ff00"/>
<rect x="846" y="315" width="3" height="3" fill="#00ff00"/>
<rect x="851" y="312" width="1" height="16" fill="#00ff00"/>
<rect x="850" y="317" width="3" height="5" fill="#00ff00"/>
<rect x="855" y="317" width="1" height="56" fill="#00ff00"/>
<rect x="854" y="320" width="3" height="46" fill="#00ff00"/>
<rect x="859" y="363" width="1" height="24" fill="#00ff00"/>
<rect x="858" y="364" width="3" height="13" fill="#00ff00"/>
<rect x="863" y="340" width="1" height="66" fill="#ff0000"/>
<rect x="862" y="365" width="3" height="12" fill="#ff0000"/>
<rect x="867" y="366" width="1" height="33" fill="#00ff00"/>
<rect x="866" y="366" width="3" height="27" fill="#00ff00"/>
<rect x="871" y="385" width="1" height="14" fill="#ff0000"/>
<rect x="870" y="387" width="3" height="6" fill="#ff0000"/>
<rect x="875" y="374" width="1" height="25" fill="#ff0000"/>
<rect x="874" y="374" width="3" height="11" fill="#ff0000"/>
<rect x="879" y="362" width="1" height="21" fill="#ff0000"/>
<rect x="878" y="371" width="3" height="5" fill="#ff0000"/>
<rect x="883" y="360" width="1" height="29" fill="#00ff00"/>
<rect x="882" y="370" width="3" height="15" fill="#00ff00"/>
<rect x="887" y="378" width="1" height="85" fill="#00ff00"/>
<rect x="886" y="384" width="3" height="55" fill="#00ff00"/>
<rect x="891" y="395" width="1" height="44" fill="#ff0000"/>
<rect x="890" y="397" width="3" height="42" fill="#ff0000"/>
<rect x="895" y="394" width="1" height="12" fill="#00ff00"/>
<rect x="894" y="397" width="3" height="4" fill="#00ff00"/>
<rect x="899" y="333" width="1" height="71" fill="#ff0000"/>
<rect x="898" y="334" width="3" height="69" fill="#ff0000"/>
<rect x="903" y="293" width="1" height="65" fill="#00ff00"/>
<rect x="902" y="336" width="3" height="3" fill="#00ff00"/>
<rect x="907" y="300" width="1" height="49" fill="#ff0000"/>
<rect x="906" y="304" width="3" height="32" fill="#ff0000"/>
<rect x="911" y="299" width="1" height="47" fill="#00ff00"/>
<rect x="910" y="304" width="3" height="24" fill="#00ff00"/>
<rect x="915" y="315" width="1" height="34" fill="#ff0000"/>
<rect x="914" y="315" width="3" height="13" fill="#ff0000"/>
<rect x="919" y="313" width="1" height="16" fill="#00ff00"/>
<rect x="918" y="315" width="3" height="13" fill="#00ff00"/>
<rect x="923" y="308" width="1" height="53" fill="#ff0000"/>
<rect x="922" y="323" width="3" height="8" fill="#ff0000"/>
<rect x="927" y="309" width="1" height="48" fill="#00ff00"/>
<rect x="926" y="323" width="3" height="23" fill="#00ff00"/>
<rect x="931" y="340" width="1" height="41" fill="#00ff00"/>
<rect x="930" y="341" width="3" height="35" fill="#00ff00"/>
<rect x="935" y="362" width="1" height="53" fill="#00ff00"/>
<rect x="934" y="374" width="3" height="41" fill="#00ff00"/>
<rect x="939" y="394" width="1" height="39" fill="#00ff00"/>
<rect x="938" y="404" width="3" height="12" fill="#00ff00"/>
<rect x="943" y="408" width="1" height="11" fill="#ff0000"/>
<rect x="942" y="410" width="3" height="6" fill="#ff0000"/>
<rect x="947" y="397" width="1" height="21" fill="#ff0000"/>
<rect x="946" y="410" width="3" height="3" fill="#ff0000"/>
<rect x="951" y="408" width="1" height="27" fill="#00ff00"/>
<rect x="950" y="409" width="3" height="6" fill="#00ff00"/>
<rect x="955" y="401" width="1" height="17" fill="#ff0000"/>
<rect x="954" y="409" width="3" height="6" fill="#ff0000"/>
<rect x="959" y="397" width="1" height="39" fill="#00ff00"/>
<rect x="958" y="409" width="3" height="7" fill="#00ff00"/>
<rect x="963" y="371" width="1" height="74" fill="#ff0000"/>
<rect x="962" y="371" width="3" height="45" fill="#ff0000"/>
<rect x="967" y="366" width="1" height="22" fill="#00ff00"/>
<rect x="966" y="370" width="3" height="5" fill="#00ff00"/>
<rect x="971" y="366" width="1" height="37" fill="#00ff00"/>
<rect x="970" y="366" width="3" height="35" fill="#00ff00"/>
<rect x="975" y="395" width="1" height="23" fill="#00ff00"/>
<rect x="974" y="400" width="3" height="14" fill="#00ff00"/>
<rect x="979" y="408" width="1" height="21" fill="#00ff00"/>
<rect x="978" y="411" width="3" height="10" fill="#00ff00"/>
<rect x="983" y="409" width="1" height="34" fill="#00ff00"/>
<rect x="982" y="420" width="3" height="20" fill="#00ff00"/>
<rect x="987" y="437" width="1" height="59" fill="#00ff00"/>
<rect x="986" y="438" width="3" height="54" fill="#00ff00"/>
<rect x="991" y="488" width="1" height="25" fill="#00ff00"/>
<rect x="990" y="491" width="3" height="10" fill="#00ff00"/>
<rect x="995" y="488" width="1" height="28" fill="#00ff00"/>
<rect x="994" y="489" width="3" height="20" fill="#00ff00"/>
<rect x="999" y="499" width="1" height="41" fill="#00ff00"/>
<rect x="998" y="507" width="3" height="3" fill="#00ff00"/>
<rect x="1003" y="458" width="1" height="56" fill="#ff0000"/>
<rect x="1002" y="464" width="3" height="46" fill="#ff0000"/>
<rect x="1007" y="418" width="1" height="54" fill="#ff0000"/>
<rect x="1006" y="454" width="3" height="12" fill="#ff0000"/>
<rect x="1011" y="439" width="1" height="29" fill="#ff0000"/>
<rect x="1010" y="451" width="3" height="4" fill="#ff0000"/>
<rect x="1015" y="447" width="1" height="19" fill="#00ff00"/>
<rect x="1014" y="451" width="3" height="11" fill="#00ff00"/>
<rect x="1019" y="433" width="1" height="40" fill="#ff0000"/>
<rect x="1018" y="439" width="3" height="27" fill="#ff0000"/>
<rect x="1023" y="431" width="1" height="22" fill="#00ff00"/>
<rect x="1022" y="440" width="3" height="13" fill="#00ff00"/>
<rect x="1027" y="440" width="1" height="56" fill="#00ff00"/>
<rect x="1026" y="451" width="3" height="32" fill="#00ff00"/>
<rect x="1031" y="423" width="1" height="116" fill="#ff0000"/>
<rect x="1030" y="426" width="3" height="56" fill="#ff0000"/>
<rect x="1035" y="400" width="1" height="43" fill="#ff0000"/>
<rect x="1034" y="426" width="3" height="2" fill="#ff0000"/>
<rect x="1039" y="422" width="1" height="12" fill="#00ff00"/>
<rect x="1038" y="425" width="3" height="9" fill="#00ff00"/>
<rect x="1043" y="417" width="1" height="73" fill="#00ff00"/>
<rect x="1042" y="422" width="3" height="58" fill="#00ff00"/>
<rect x="1047" y="432" width="1" height="59" fill="#ff0000"/>
<rect x="1046" y="436" width="3" height="44" fill="#ff0000"/>
<rect x="1051" y="425" width="1" height="28" fill="#00ff00"/>
<rect x="1050" y="435" width="3" height="4" fill="#00ff00"/>
<rect x="1055" y="427" width="1" height="47" fill="#00ff00"/>
<rect x="1054" y="436" width="3" height="13" fill="#00ff00"/>
<rect x="1059" y="431" width="1" height="56" fill="#00ff00"/>
<rect x="1058" y="447" width="3" height="36" fill="#00ff00"/>
<rect x="1063" y="468" width="1" height="15" fill="#ff0000"/>
<rect x="1062" y="471" width="3" height="11" fill="#ff0000"/>
<rect x="1067" y="467" width="1" height="42" fill="#00ff00"/>
<rect x="1066" y="469" width="3" height="22" fill="#00ff00"/>
<rect x="1071" y="472" width="1" height="24" fill="#ff0000"/>
<rect x="1070" y="483" width="3" height="8" fill="#ff0000"/>
<rect x="1075" y="464" width="1" height="59" fill="#00ff00"/>
<rect x="1074" y="482" width="3" height="41" fill="#00ff00"/>
<rect x="1079" y="508" width="1" height="34" fill="#00ff00"/>
<rect x="1078" y="521" width="3" height="11" fill="#00ff00"/>
<rect x="1083" y="514" width="1" height="43" fill="#ff0000"/>
<rect x="1082" y="528" width="3" height="4" fill="#ff0000"/>
<rect x="1087" y="522" width="1" height="10" fill="#00ff00"/>
<rect x="1086" y="528" width="3" height="2" fill="#00ff00"/>
<rect x="1091" y="522" width="1" height="50" fill="#00ff00"/>
<rect x="1090" y="525" width="3" height="33" fill="#00ff00"/>
<rect x="1095" y="532" width="1" height="45" fill="#ff0000"/>
<rect x="1094" y="536" width="3" height="21" fill="#ff0000"/>
<rect x="1099" y="514" width="1" height="44" fill="#ff0000"/>
<rect x="1098" y="521" width="3" height="15" fill="#ff0000"/>
<rect x="1103" y="483" width="1" height="44" fill="#ff0000"/>
<rect x="1102" y="490" width="3" height="33" fill="#ff0000"/>
<rect x="1107" y="485" width="1" height="31" fill="#00ff00"/>
<rect x="1106" y="490" width="3" height="15" fill="#00ff00"/>
<rect x="1111" y="494" width="1" height="12" fill="#ff0000"/>
<rect x="1110" y="495" width="3" height="10" fill="#ff0000"/>
<rect x="1115" y="483" width="1" height="29" fill="#ff0000"/>
<rect x="1114" y="495" width="3" height="4" fill="#ff0000"/>
<rect x="1119" y="486" width="1" height="40" fill="#00ff00"/>
<rect x="1118" y="495" width="3" height="28" fill="#00ff00"/>
<rect x="1123" y="490" width="1" height="39" fill="#ff0000"/>
<rect x="1122" y="500" width="3" height="23" fill="#ff0000"/>
<rect x="1127" y="457" width="1" height="52" fill="#ff0000"/>
<rect x="1126" y="470" width="3" height="31" fill="#ff0000"/>
<rect x="1131" y="435" width="1" height="47" fill="#ff0000"/>
<rect x="1130" y="453" width="3" height="18" fill="#ff0000"/>
<rect x="1135" y="444" width="1" height="17" fill="#ff0000"/>
<rect x="1134" y="450" width="3" height="4" fill="#ff0000"/>
<rect x="1139" y="450" width="1" height="24" fill="#00ff00"/>
<rect x="1138" y="460" width="3" height="5" fill="#00ff00"/>
<rect x="1143" y="448" width="1" height="43" fill="#ff0000"/>
<rect x="1142" y="456" width="3" height="9" fill="#ff0000"/>
<rect x="1147" y="424" width="1" height="49" fill="#ff0000"/>
<rect x="1146" y="424" width="3" height="33" fill="#ff0000"/>
<rect x="1151" y="377" width="1" height="57" fill="#ff0000"/>
<rect x="1150" y="385" width="3" height="43" fill="#ff0000"/>
<rect x="1155" y="362" width="1" height="36" fill="#ff0000"/>
<rect x="1154" y="365" width="3" height="21" fill="#ff0000"/>
<rect x="1159" y="359" width="1" height="14" fill="#ff0000"/>
<rect x="1158" y="360" width="3" height="6" fill="#ff0000"/>
<rect x="1163" y="347" width="1" height="32" fill="#00ff00"/>
<rect x="1162" y="363" width="3" height="12" fill="#00ff00"/>
<rect x="1167" y="364" width="1" height="27" fill="#00ff00"/>
<rect x="1166" y="374" width="3" height="6" fill="#00ff00"/>
<rect x="1171" y="366" width="1" height="37" fill="#00ff00"/>
<rect x="1170" y="377" width="3" height="18" fill="#00ff00"/>
<rect x="1175" y="359" width="1" height="54" fill="#00ff00"/>
<rect x="1174" y="394" width="3" height="17" fill="#00ff00"/>
<rect x="1179" y="390" width="1" height="33" fill="#00ff00"/>
<rect x="1178" y="409" width="3" height="14" fill="#00ff00"/>
<rect x="1183" y="421" width="1" height="8" fill="#00ff00"/>
<rect x="1182" y="421" width="3" height="3" fill="#00ff00"/>
<rect x="1187" y="402" width="1" height="25" fill="#ff0000"/>
<rect x="1186" y="411" width="3" height="11" fill="#ff0000"/>
<rect x="1191" y="394" width="1" height="35" fill="#ff0000"/>
<rect x="1190" y="394" width="3" height="18" fill="#ff0000"/>
<rect x="1195" y="386" width="1" height="19" fill="#ff0000"/>
<rect x="1194" y="389" width="3" height="7" fill="#ff0000"/>
<rect x="1199" y="349" width="1" height="74" fill="#ff0000"/>
<rect x="1198" y="365" width="3" height="26" fill="#ff0000"/>
<rect x="1203" y="352" width="1" height="30" fill="#ff0000"/>
<rect x="1202" y="355" width="3" height="11" fill="#ff0000"/>
<rect x="1207" y="353" width="1" height="10" fill="#00ff00"/>
<rect x="1206" y="355" width="3" height="6" fill="#00ff00"/>
<rect x="1211" y="350" width="1" height="22" fill="#00ff00"/>
<rect x="1210" y="357" width="3" height="9" fill="#00ff00"/>
<rect x="1215" y="364" width="1" height="70" fill="#00ff00"/>
<rect x="1214" y="364" width="3" height="64" fill="#00ff00"/>
<rect x="1219" y="412" width="1" height="23" fill="#ff0000"/>
<rect x="1218" y="427" width="3" height="2" fill="#ff0000"/>
<rect x="1223" y="413" width="1" height="43" fill="#00ff00"/>
<rect x="1222" y="427" width="3" height="22" fill="#00ff00"/>
<rect x="1227" y="441" width="1" height="28" fill="#00ff00"/>
<rect x="1226" y="448" width="3" height="20" fill="#00ff00"/>
<rect x="1231" y="465" width="1" height="7" fill="#00ff00"/>
<rect x="1230" y="466" width="3" height="3" fill="#00ff00"/>
<rect x="1235" y="450" width="1" height="22" fill="#ff0000"/>
<rect x="1234" y="455" width="3" height="16" fill="#ff0000"/>
<rect x="1239" y="452" width="1" height="30" fill="#00ff00"/>
<rect x="1238" y="456" width="3" height="19" fill="#00ff00"/>
<rect x="1243" y="467" width="1" height="18" fill="#00ff00"/>
<rect x="1242" y="474" width="3" height="3" fill="#00ff00"/>
<rect x="1247" y="470" width="1" height="22" fill="#00ff00"/>
<rect x="1246" y="474" width="3" height="8" fill="#00ff00"/>
<rect x="1251" y="441" width="1" height="44" fill="#ff0000"/>
<rect x="1250" y="444" width="3" height="38" fill="#ff0000"/>
<rect x="1255" y="440" width="1" height="12" fill="#ff0000"/>
<rect x="1254" y="441" width="3" height="5" fill="#ff0000"/>
<rect x="1259" y="421" width="1" height="25" fill="#ff0000"/>
<rect x="1258" y="422" width="3" height="24" fill="#ff0000"/>
<rect x="1263" y="414" width="1" height="22" fill="#00ff00"/>
<rect x="1262" y="422" width="3" height="2" fill="#00ff00"/>
<rect x="1267" y="420" width="1" height="25" fill="#00ff00"/>
<rect x="1266" y="422" width="3" height="14" fill="#00ff00"/>
<rect x="1271" y="409" width="1" height="30" fill="#ff0000"/>
<rect x="1270" y="425" width="3" height="10" fill="#ff0000"/>
<rect x="1275" y="417" width="1" height="44" fill="#00ff00"/>
<rect x="1274" y="425" width="3" height="34" fill="#00ff00"/>
<rect x="1279" y="456" width="1" height="12" fill="#00ff00"/>
<rect x="1278" y="457" width="3" height="6" fill="#00ff00"/>
<rect x="1283" y="458" width="1" height="24" fill="#00ff00"/>
<rect x="1282" y="466" width="3" height="9" fill="#00ff00"/>
<rect x="1287" y="464" width="1" height="17" fill="#00ff00"/>
<rect x="1286" y="474" width="3" height="2" fill="#00ff00"/>
<rect x="1291" y="464" width="1" height="27" fill="#00ff00"/>
<rect x="1290" y="474" width="3" height="11" fill="#00ff00"/>
<rect x="1295" y="469" width="1" height="20" fill="#ff0000"/>
<rect x="1294" y="478" width="3" height="7" fill="#ff0000"/>
<rect x="1299" y="461" width="1" height="38" fill="#ff0000"/>
<rect x="1298" y="461" width="3" height="18" fill="#ff0000"/>
<rect x="1303" y="461" width="1" height="12" fill="#00ff00"/>
<rect x="1302" y="461" width="3" height="10" fill="#00ff00"/>
<rect x="1307" y="425" width="1" height="57" fill="#ff0000"/>
<rect x="1306" y="429" width="3" height="39" fill="#ff0000"/>
<rect x="1311" y="415" width="1" height="20" fill="#ff0000"/>
<rect x="1310" y="420" width="3" height="11" fill="#ff0000"/>
<rect x="1315" y="395" width="1" height="39" fill="#ff0000"/>
<rect x="1314" y="416" width="3" height="6" fill="#ff0000"/>
<rect x="1319" y="404" width="1" height="27" fill="#ff0000"/>
<rect x="1318" y="412" width="3" height="6" fill="#ff0000"/>
<rect x="1323" y="399" width="1" height="55" fill="#00ff00"/>
<rect x="1322" y="412" width="3" height="32" fill="#00ff00"/>
<rect x="1327" y="440" width="1" height="10" fill="#ff0000"/>
<rect x="1326" y="443" width="3" height="4" fill="#ff0000"/>
<rect x="1331" y="424" width="1" height="20" fill="#ff0000"/>
<rect x="1330" y="430" width="3" height="12" fill="#ff0000"/>
<rect x="1335" y="414" width="1" height="29" fill="#ff0000"/>
<rect x="1334" y="414" width="3" height="17" fill="#ff0000"/>
<rect x="1339" y="409" width="1" height="12" fill="#ff0000"/>
<rect x="1338" y="413" width="3" height="4" fill="#ff0000"/>
<path d="M297.5 170V172M304.5 177V179M306.5 180V182M308.5 183V185M310.5 186V188M312.5 189V191M314.5 192V194M380.5 219V221M382.5 222V224M384.5 225V227M386.5 228V230M389.5 232V234M393.5 237V239M469.5 257V259M477.5 265V267M549.5 291V293M749.5 310V312M752.5 306V308M754.5 303V305M756.5 300V302M758.5 297V299M760.5 294V296M762.5 291V293M765.5 287V289M864.5 279V281M866.5 282V284M868.5 285V287M870.5 288V290M872.5 291V293M874.5 294V296M876.5 297V299M878.5 300V302M880.5 303V305M881.5 305V307M882.5 307V309M883.5 309V311M884.5 311V313M885.5 313V315M886.5 315V317M888.5 318V320M890.5 321V323M892.5 324V326M893.5 326V328M894.5 328V330M933.5 344V346M993.5 390V392M1024.5 413V415M1026.5 416V418M1041.5 430V432M1080.5 457V459M1082.5 460V462M1085.5 464V466M1089.5 469V471M1193.5 456V458M1197.5 451V453M1200.5 447V449M1202.5 444V446M1204.5 441V443M1206.5 438V440M1208.5 435V437M1210.5 432V434M266 162.5H278M263 163.5H266M278 163.5H286M226 164.5H230M261 164.5H263M286 164.5H289M223 165.5H226M230 165.5H234M254 165.5H261M289 165.5H291M221 166.5H223M234 166.5H238M247 166.5H254M291 166.5H293M3 167.5H4M218 167.5H221M238 167.5H242M245 167.5H247M293 167.5H295M4 168.5H5M214 168.5H218M242 168.5H245M295 168.5H296M5 169.5H6M210 169.5H214M296 169.5H297M6 170.5H7M207 170.5H210M7 171.5H8M206 171.5H207M8 172.5H10M204 172.5H206M298 172.5H299M10 173.5H11M203 173.5H204M299 173.5H300M11 174.5H12M201 174.5H203M300 174.5H302M12 175.5H13M198 175.5H201M302 175.5H303M13 176.5H14M195 176.5H198M303 176.5H304M14 177.5H15M194 177.5H195M15 178.5H16M192 178.5H194M16 179.5H17M191 179.5H192M305 179.5H306M17 180.5H18M190 180.5H191M18 181.5H19M188 181.5H190M19 182.5H20M187 182.5H188M307 182.5H308M20 183.5H22M186 183.5H187M22 184.5H23M185 184.5H186M23 185.5H24M184 185.5H185M309 185.5H310M24 186.5H25M183 186.5H184M25 187.5H26M182 187.5H183M26 188.5H27M180 188.5H182M311 188.5H312M27 189.5H28M179 189.5H180M28 190.5H29M178 190.5H179M29 191.5H30M176 191.5H178M313 191.5H314M30 192.5H31M175 192.5H176M31 193.5H32M173 193.5H175M32 194.5H34M171 194.5H173M315 194.5H316M34 195.5H35M169 195.5H171M316 195.5H317M35 196.5H36M166 196.5H169M317 196.5H318M36 197.5H37M163 197.5H166M318 197.5H319M37 198.5H38M161 198.5H163M319 198.5H320M38 199.5H39M159 199.5H161M320 199.5H321M39 200.5H40M158 200.5H159M321 200.5H322M40 201.5H41M157 201.5H158M322 201.5H323M41 202.5H42M156 202.5H157M323 202.5H324M42 203.5H43M155 203.5H156M324 203.5H326M43 204.5H46M153 204.5H155M326 204.5H327M46 205.5H50M151 205.5H153M327 205.5H330M50 206.5H53M150 206.5H151M330 206.5H334M53 207.5H55M148 207.5H150M334 207.5H342M358 207.5H362M55 208.5H62M122 208.5H126M147 208.5H148M342 208.5H346M350 208.5H358M362 208.5H366M62 209.5H66M78 209.5H85M119 209.5H122M126 209.5H130M145 209.5H147M346 209.5H350M366 209.5H368M66 210.5H78M85 210.5H87M118 210.5H119M130 210.5H134M138 210.5H145M368 210.5H370M87 211.5H89M116 211.5H118M134 211.5H138M370 211.5H371M89 212.5H91M115 212.5H116M371 212.5H372M91 213.5H94M114 213.5H115M372 213.5H374M94 214.5H96M112 214.5H114M374 214.5H375M96 215.5H98M111 215.5H112M375 215.5H376M98 216.5H99M109 216.5H111M376 216.5H378M99 217.5H102M106 217.5H109M378 217.5H379M102 218.5H106M379 218.5H380M381 221.5H382M383 224.5H384M385 227.5H386M387 230.5H388M388 231.5H389M390 234.5H391M391 235.5H392M392 236.5H393M394 239.5H395M442 239.5H445M395 240.5H396M431 240.5H442M445 240.5H447M396 241.5H398M429 241.5H431M447 241.5H449M398 242.5H399M427 242.5H429M449 242.5H451M399 243.5H401M425 243.5H427M451 243.5H452M401 244.5H403M422 244.5H425M452 244.5H454M403 245.5H405M419 245.5H422M454 245.5H455M405 246.5H407M417 246.5H419M455 246.5H456M407 247.5H417M456 247.5H458M458 248.5H459M459 249.5H460M460 250.5H462M462 251.5H463M463 252.5H464M464 253.5H466M466 254.5H467M467 255.5H468M468 256.5H469M470 259.5H471M471 260.5H472M472 261.5H474M798 261.5H814M474 262.5H475M794 262.5H798M814 262.5H818M475 263.5H476M791 263.5H794M818 263.5H821M476 264.5H477M790 264.5H791M821 264.5H823M789 265.5H790M823 265.5H826M788 266.5H789M826 266.5H828M478 267.5H479M787 267.5H788M828 267.5H830M479 268.5H480M786 268.5H787M830 268.5H831M480 269.5H481M785 269.5H786M831 269.5H833M481 270.5H482M784 270.5H785M833 270.5H835M482 271.5H483M783 271.5H784M835 271.5H838M483 272.5H484M782 272.5H783M838 272.5H854M484 273.5H486M515 273.5H525M780 273.5H782M854 273.5H857M486 274.5H487M513 274.5H515M525 274.5H527M779 274.5H780M857 274.5H859M487 275.5H489M511 275.5H513M527 275.5H529M778 275.5H779M859 275.5H860M489 276.5H491M509 276.5H511M529 276.5H531M776 276.5H778M860 276.5H862M491 277.5H494M506 277.5H509M531 277.5H533M775 277.5H776M862 277.5H863M494 278.5H498M502 278.5H506M533 278.5H535M774 278.5H775M863 278.5H864M498 279.5H502M535 279.5H537M773 279.5H774M537 280.5H539M772 280.5H773M539 281.5H540M771 281.5H772M865 281.5H866M540 282.5H541M770 282.5H771M541 283.5H542M769 283.5H770M542 284.5H543M768 284.5H769M867 284.5H868M543 285.5H544M767 285.5H768M544 286.5H545M766 286.5H767M545 287.5H546M869 287.5H870M546 288.5H547M547 289.5H548M764 289.5H765M548 290.5H549M763 290.5H764M871 290.5H872M550 293.5H551M761 293.5H762M873 293.5H874M551 294.5H552M552 295.5H553M553 296.5H554M759 296.5H760M875 296.5H876M554 297.5H555M555 298.5H556M556 299.5H558M757 299.5H758M877 299.5H878M558 300.5H559M559 301.5H560M560 302.5H561M755 302.5H756M879 302.5H880M561 303.5H562M562 304.5H563M563 305.5H565M753 305.5H754M565 306.5H567M567 307.5H574M574 308.5H578M751 308.5H752M578 309.5H582M750 309.5H751M582 310.5H594M602 310.5H610M594 311.5H602M610 311.5H613M613 312.5H615M748 312.5H749M615 313.5H618M747 313.5H748M618 314.5H621M746 314.5H747M621 315.5H623M745 315.5H746M623 316.5H624M744 316.5H745M624 317.5H625M743 317.5H744M887 317.5H888M625 318.5H626M742 318.5H743M626 319.5H627M718 319.5H726M740 319.5H742M627 320.5H628M715 320.5H718M726 320.5H740M889 320.5H890M628 321.5H630M714 321.5H715M630 322.5H631M712 322.5H714M631 323.5H632M711 323.5H712M891 323.5H892M632 324.5H633M710 324.5H711M633 325.5H634M708 325.5H710M634 326.5H635M707 326.5H708M635 327.5H636M706 327.5H707M636 328.5H638M704 328.5H706M638 329.5H639M703 329.5H704M639 330.5H640M702 330.5H703M895 330.5H896M640 331.5H641M701 331.5H702M896 331.5H898M641 332.5H642M700 332.5H701M898 332.5H899M642 333.5H643M699 333.5H700M899 333.5H901M643 334.5H646M698 334.5H699M901 334.5H903M646 335.5H650M696 335.5H698M903 335.5H906M650 336.5H654M695 336.5H696M906 336.5H909M654 337.5H657M694 337.5H695M909 337.5H911M657 338.5H659M692 338.5H694M911 338.5H918M659 339.5H662M686 339.5H692M918 339.5H928M662 340.5H666M682 340.5H686M928 340.5H930M666 341.5H682M930 341.5H931M931 342.5H932M932 343.5H933M934 346.5H935M935 347.5H936M936 348.5H937M937 349.5H938M938 350.5H939M939 351.5H940M940 352.5H941M941 353.5H942M942 354.5H943M943 355.5H944M944 356.5H945M945 357.5H946M946 358.5H947M947 359.5H948M948 360.5H950M950 361.5H951M951 362.5H952M952 363.5H953M953 364.5H954M954 365.5H955M955 366.5H956M956 367.5H958M958 368.5H959M959 369.5H961M961 370.5H963M963 371.5H965M965 372.5H967M967 373.5H968M968 374.5H970M970 375.5H971M971 376.5H974M974 377.5H977M977 378.5H979M979 379.5H981M981 380.5H983M983 381.5H984M984 382.5H986M986 383.5H987M987 384.5H988M988 385.5H989M989 386.5H990M990 387.5H991M991 388.5H992M992 389.5H993M994 392.5H995M995 393.5H996M996 394.5H997M997 395.5H998M998 396.5H999M999 397.5H1000M1000 398.5H1002M1002 399.5H1003M1003 400.5H1009M1009 401.5H1011M1011 402.5H1013M1013 403.5H1015M1015 404.5H1016M1016 405.5H1017M1017 406.5H1018M1018 407.5H1019M1019 408.5H1020M1020 409.5H1021M1021 410.5H1022M1022 411.5H1023M1023 412.5H1024M1262 414.5H1266M1025 415.5H1026M1259 415.5H1262M1266 415.5H1270M1257 416.5H1259M1270 416.5H1272M1242 417.5H1257M1272 417.5H1274M1027 418.5H1028M1238 418.5H1242M1274 418.5H1275M1028 419.5H1030M1235 419.5H1238M1275 419.5H1276M1030 420.5H1031M1233 420.5H1235M1276 420.5H1278M1031 421.5H1032M1230 421.5H1233M1278 421.5H1279M1032 422.5H1033M1226 422.5H1230M1279 422.5H1280M1033 423.5H1034M1222 423.5H1226M1280 423.5H1281M1034 424.5H1035M1219 424.5H1222M1281 424.5H1282M1035 425.5H1036M1218 425.5H1219M1282 425.5H1283M1036 426.5H1038M1216 426.5H1218M1283 426.5H1284M1038 427.5H1039M1215 427.5H1216M1284 427.5H1286M1039 428.5H1040M1214 428.5H1215M1286 428.5H1287M1040 429.5H1041M1213 429.5H1214M1287 429.5H1288M1212 430.5H1213M1288 430.5H1290M1211 431.5H1212M1290 431.5H1291M1042 432.5H1043M1291 432.5H1293M1043 433.5H1044M1293 433.5H1295M1044 434.5H1046M1209 434.5H1210M1295 434.5H1297M1046 435.5H1047M1297 435.5H1299M1047 436.5H1049M1299 436.5H1302M1049 437.5H1051M1207 437.5H1208M1302 437.5H1306M1051 438.5H1053M1306 438.5H1310M1053 439.5H1055M1310 439.5H1314M1055 440.5H1057M1205 440.5H1206M1314 440.5H1318M1057 441.5H1059M1318 441.5H1320M1059 442.5H1061M1320 442.5H1322M1061 443.5H1063M1203 443.5H1204M1322 443.5H1323M1063 444.5H1064M1323 444.5H1324M1064 445.5H1066M1324 445.5H1326M1066 446.5H1067M1201 446.5H1202M1326 446.5H1327M1067 447.5H1069M1327 447.5H1329M1069 448.5H1071M1329 448.5H1331M1338 448.5H1340M1071 449.5H1072M1199 449.5H1200M1331 449.5H1338M1072 450.5H1073M1198 450.5H1199M1073 451.5H1074M1074 452.5H1075M1075 453.5H1076M1196 453.5H1197M1076 454.5H1078M1195 454.5H1196M1078 455.5H1079M1194 455.5H1195M1079 456.5H1080M1192 458.5H1193M1081 459.5H1082M1191 459.5H1192M1190 460.5H1191M1188 461.5H1190M1083 462.5H1084M1187 462.5H1188M1084 463.5H1085M1185 463.5H1187M1183 464.5H1185M1181 465.5H1183M1086 466.5H1087M1179 466.5H1181M1087 467.5H1088M1177 467.5H1179M1088 468.5H1089M1174 468.5H1177M1171 469.5H1174M1169 470.5H1171M1090 471.5H1091M1167 471.5H1169M1091 472.5H1092M1165 472.5H1167M1092 473.5H1093M1163 473.5H1165M1093 474.5H1094M1162 474.5H1163M1094 475.5H1095M1160 475.5H1162M1095 476.5H1096M1159 476.5H1160M1096 477.5H1097M1158 477.5H1159M1097 478.5H1098M1156 478.5H1158M1098 479.5H1099M1155 479.5H1156M1099 480.5H1102M1153 480.5H1155M1102 481.5H1106M1114 481.5H1118M1150 481.5H1153M1106 482.5H1114M1118 482.5H1122M1147 482.5H1150M1122 483.5H1138M1145 483.5H1147M1138 484.5H1145" fill="none" stroke="#0000c8" stroke-width="1"/>
<path d="M29.5 206V208M64.5 216V218M66.5 219V221M101.5 216V218M141.5 200V202M148.5 193V195M150.5 190V192M152.5 187V189M153.5 185V187M154.5 183V185M155.5 181V183M156.5 179V181M157.5 177V179M158.5 175V177M159.5 173V175M184.5 164V166M186.5 161V163M188.5 158V160M190.5 155V157M237.5 163V165M240.5 167V169M242.5 170V172M244.5 173V175M246.5 176V178M296.5 175V177M298.5 178V180M300.5 181V183M302.5 184V186M303.5 186V188M304.5 188V190M305.5 190V192M306.5 192V194M307.5 194V196M308.5 196V198M309.5 198V200M310.5 200V202M311.5 202V204M312.5 204V206M313.5 206V208M314.5 208V210M315.5 210V213M316.5 213V215M317.5 215V218M318.5 218V220M319.5 220V223M320.5 223V225M321.5 225V227M322.5 227V229M324.5 230V232M325.5 232V234M326.5 234V236M329.5 238V240M352.5 242V244M354.5 239V241M357.5 235V237M361.5 230V232M365.5 225V227M381.5 221V223M384.5 225V227M385.5 227V229M386.5 229V231M389.5 233V235M392.5 237V239M394.5 240V242M441.5 252V254M461.5 255V257M464.5 259V261M465.5 261V263M466.5 263V265M468.5 266V268M469.5 268V270M470.5 270V272M473.5 274V276M476.5 278V280M477.5 280V282M478.5 282V284M479.5 284V286M480.5 286V288M481.5 288V290M482.5 290V292M484.5 293V295M485.5 295V297M486.5 297V299M521.5 288V290M547.5 284V286M548.5 286V288M549.5 288V290M550.5 290V292M552.5 293V295M554.5 296V298M557.5 300V302M559.5 303V305M560.5 305V307M561.5 307V309M562.5 309V311M565.5 313V315M572.5 320V322M574.5 323V325M576.5 326V328M578.5 329V331M605.5 335V337M625.5 327V329M665.5 346V348M685.5 351V353M692.5 343V345M693.5 341V343M694.5 339V341M695.5 337V339M696.5 335V337M697.5 333V335M698.5 331V333M699.5 328V331M700.5 326V328M701.5 324V326M702.5 322V324M703.5 320V322M704.5 318V320M705.5 316V318M706.5 314V316M709.5 310V312M712.5 306V308M713.5 304V306M714.5 302V304M717.5 298V300M721.5 293V295M729.5 285V287M745.5 276V278M772.5 252V254M774.5 249V251M777.5 245V247M781.5 240V242M789.5 233V235M800.5 235V237M801.5 237V239M802.5 239V241M803.5 241V243M804.5 243V245M805.5 245V247M806.5 247V249M807.5 249V251M808.5 251V253M809.5 253V255M810.5 255V257M812.5 258V260M814.5 261V263M815.5 263V265M816.5 265V267M817.5 267V269M818.5 269V271M821.5 273V275M824.5 277V279M826.5 280V282M827.5 282V284M828.5 284V286M829.5 286V288M830.5 288V290M831.5 290V292M863.5 316V318M864.5 318V320M865.5 320V322M866.5 322V324M868.5 325V327M869.5 327V329M870.5 329V331M872.5 332V334M874.5 335V337M876.5 338V340M877.5 340V342M878.5 342V344M880.5 345V347M881.5 347V349M882.5 349V351M883.5 351V353M884.5 353V355M885.5 355V357M886.5 357V359M888.5 360V362M890.5 363V365M892.5 366V368M893.5 368V370M894.5 370V372M913.5 368V370M953.5 363V365M956.5 367V369M958.5 370V372M968.5 381V383M970.5 384V386M972.5 387V389M974.5 390V392M976.5 393V395M977.5 395V397M978.5 397V399M980.5 400V402M981.5 402V404M982.5 404V406M983.5 406V408M984.5 408V410M985.5 410V412M986.5 412V414M988.5 415V417M990.5 418V420M992.5 421V423M993.5 423V425M994.5 425V427M996.5 428V430M997.5 430V432M998.5 432V434M1017.5 449V451M1021.5 454V456M1024.5 458V460M1026.5 461V463M1049.5 456V458M1053.5 451V453M1072.5 457V459M1074.5 460V462M1076.5 463V465M1078.5 466V468M1084.5 472V474M1085.5 474V476M1086.5 476V478M1087.5 478V480M1088.5 480V482M1089.5 482V485M1090.5 485V487M1091.5 487V489M1092.5 489V491M1093.5 491V493M1094.5 493V495M1105.5 504V506M1129.5 511V513M1133.5 506V508M1137.5 501V503M1141.5 496V498M1143.5 493V495M1144.5 491V493M1145.5 488V491M1146.5 486V488M1147.5 483V486M1148.5 480V483M1149.5 478V480M1150.5 475V478M1151.5 472V475M1152.5 469V472M1153.5 467V469M1154.5 464V467M1155.5 461V464M1156.5 459V461M1157.5 457V459M1158.5 455V457M1159.5 452V455M1160.5 450V452M1161.5 448V450M1162.5 446V448M1163.5 443V446M1164.5 441V443M1165.5 439V441M1166.5 437V439M1167.5 435V437M1168.5 433V435M1169.5 431V433M1170.5 429V431M1171.5 427V429M1172.5 425V427M1173.5 423V425M1174.5 421V423M1177.5 417V419M1193.5 401V403M1196.5 397V399M1197.5 395V397M1198.5 393V395M1221.5 396V398M1225.5 401V403M1229.5 406V408M1244.5 420V422M1246.5 423V425M1252.5 430V432M1254.5 433V435M1257.5 437V439M1265.5 446V448M203 144.5H206M201 145.5H203M206 145.5H209M199 146.5H201M209 146.5H211M198 147.5H199M211 147.5H212M197 148.5H198M212 148.5H213M196 149.5H197M213 149.5H214M195 150.5H196M214 150.5H215M218 150.5H221M194 151.5H195M215 151.5H218M221 151.5H223M193 152.5H194M223 152.5H225M192 153.5H193M225 153.5H227M191 154.5H192M227 154.5H228M228 155.5H230M230 156.5H231M189 157.5H190M231 157.5H232M232 158.5H233M233 159.5H234M187 160.5H188M234 160.5H235M235 161.5H236M236 162.5H237M185 163.5H186M238 165.5H239M183 166.5H184M239 166.5H240M182 167.5H183M181 168.5H182M180 169.5H181M241 169.5H242M282 169.5H288M179 170.5H180M279 170.5H282M288 170.5H290M166 171.5H174M177 171.5H179M277 171.5H279M290 171.5H291M162 172.5H166M174 172.5H177M243 172.5H244M275 172.5H277M291 172.5H293M160 173.5H162M274 173.5H275M293 173.5H295M272 174.5H274M295 174.5H296M245 175.5H246M271 175.5H272M270 176.5H271M269 177.5H270M297 177.5H298M247 178.5H249M268 178.5H269M249 179.5H251M267 179.5H268M251 180.5H252M266 180.5H267M299 180.5H300M252 181.5H254M265 181.5H266M254 182.5H255M264 182.5H265M255 183.5H257M263 183.5H264M301 183.5H302M257 184.5H259M261 184.5H263M259 185.5H261M151 189.5H152M149 192.5H150M147 195.5H148M146 196.5H147M144 197.5H146M143 198.5H144M142 199.5H143M18 200.5H24M14 201.5H18M24 201.5H25M11 202.5H14M25 202.5H26M140 202.5H141M10 203.5H11M26 203.5H27M123 203.5H126M130 203.5H134M138 203.5H140M9 204.5H10M27 204.5H28M122 204.5H123M126 204.5H130M134 204.5H138M8 205.5H9M28 205.5H29M121 205.5H122M6 206.5H8M120 206.5H121M3 207.5H6M119 207.5H120M30 208.5H31M118 208.5H119M31 209.5H32M54 209.5H57M117 209.5H118M32 210.5H34M50 210.5H54M57 210.5H59M116 210.5H117M34 211.5H35M47 211.5H50M59 211.5H60M115 211.5H116M35 212.5H37M46 212.5H47M60 212.5H61M114 212.5H115M37 213.5H39M45 213.5H46M61 213.5H62M113 213.5H114M39 214.5H42M44 214.5H45M62 214.5H63M99 214.5H100M112 214.5H113M42 215.5H44M63 215.5H64M97 215.5H99M100 215.5H101M111 215.5H112M95 216.5H97M110 216.5H111M94 217.5H95M108 217.5H110M65 218.5H66M92 218.5H94M102 218.5H103M106 218.5H108M90 219.5H92M103 219.5H106M378 219.5H380M82 220.5H90M371 220.5H378M380 220.5H381M67 221.5H70M78 221.5H82M370 221.5H371M70 222.5H78M368 222.5H370M367 223.5H368M382 223.5H383M366 224.5H367M383 224.5H384M364 227.5H365M363 228.5H364M323 229.5H324M362 229.5H363M387 231.5H388M791 231.5H796M360 232.5H361M388 232.5H389M790 232.5H791M796 232.5H798M359 233.5H360M798 233.5H799M358 234.5H359M799 234.5H800M390 235.5H391M788 235.5H789M327 236.5H328M391 236.5H392M787 236.5H788M328 237.5H329M356 237.5H357M785 237.5H787M355 238.5H356M783 238.5H785M393 239.5H394M782 239.5H783M330 240.5H331M331 241.5H332M353 241.5H354M332 242.5H334M395 242.5H396M780 242.5H781M334 243.5H335M396 243.5H397M779 243.5H780M335 244.5H337M351 244.5H352M397 244.5H398M778 244.5H779M337 245.5H339M349 245.5H351M398 245.5H399M339 246.5H342M346 246.5H349M399 246.5H401M342 247.5H346M401 247.5H403M450 247.5H453M776 247.5H777M403 248.5H404M447 248.5H450M453 248.5H455M775 248.5H776M404 249.5H406M445 249.5H447M455 249.5H456M406 250.5H407M443 250.5H445M456 250.5H457M407 251.5H408M442 251.5H443M457 251.5H458M773 251.5H774M408 252.5H410M458 252.5H459M410 253.5H411M459 253.5H460M411 254.5H412M440 254.5H441M460 254.5H461M771 254.5H772M412 255.5H414M439 255.5H440M770 255.5H771M414 256.5H415M431 256.5H433M438 256.5H439M768 256.5H770M415 257.5H416M430 257.5H431M433 257.5H435M436 257.5H438M462 257.5H463M767 257.5H768M811 257.5H812M416 258.5H418M428 258.5H430M435 258.5H436M463 258.5H464M766 258.5H767M418 259.5H419M427 259.5H428M764 259.5H766M419 260.5H422M425 260.5H427M763 260.5H764M813 260.5H814M422 261.5H425M762 261.5H763M761 262.5H762M760 263.5H761M759 264.5H760M467 265.5H468M758 265.5H759M756 266.5H758M755 267.5H756M754 268.5H755M752 269.5H754M751 270.5H752M750 271.5H751M819 271.5H820M471 272.5H472M749 272.5H750M820 272.5H821M472 273.5H473M748 273.5H749M747 274.5H748M746 275.5H747M822 275.5H823M474 276.5H475M823 276.5H824M475 277.5H476M744 278.5H745M743 279.5H744M825 279.5H826M539 280.5H544M742 280.5H743M537 281.5H539M544 281.5H545M740 281.5H742M535 282.5H537M545 282.5H546M734 282.5H740M527 283.5H530M533 283.5H535M546 283.5H547M731 283.5H734M526 284.5H527M530 284.5H533M730 284.5H731M524 285.5H526M523 286.5H524M522 287.5H523M728 287.5H729M727 288.5H728M726 289.5H727M520 290.5H521M724 290.5H726M519 291.5H520M723 291.5H724M483 292.5H484M518 292.5H519M551 292.5H552M722 292.5H723M832 292.5H833M517 293.5H518M833 293.5H834M516 294.5H517M834 294.5H835M515 295.5H516M553 295.5H554M720 295.5H721M835 295.5H836M514 296.5H515M719 296.5H720M836 296.5H837M513 297.5H514M718 297.5H719M837 297.5H838M512 298.5H513M555 298.5H556M838 298.5H839M487 299.5H490M511 299.5H512M556 299.5H557M839 299.5H840M490 300.5H494M510 300.5H511M716 300.5H717M840 300.5H842M494 301.5H496M508 301.5H510M715 301.5H716M842 301.5H843M496 302.5H498M507 302.5H508M558 302.5H559M843 302.5H844M498 303.5H499M506 303.5H507M844 303.5H845M499 304.5H502M504 304.5H506M845 304.5H846M502 305.5H504M846 305.5H847M847 306.5H852M852 307.5H854M711 308.5H712M854 308.5H855M710 309.5H711M855 309.5H856M856 310.5H857M563 311.5H564M857 311.5H858M564 312.5H565M708 312.5H709M858 312.5H859M707 313.5H708M859 313.5H860M860 314.5H862M566 315.5H567M862 315.5H863M567 316.5H568M568 317.5H570M570 318.5H571M571 319.5H572M573 322.5H574M619 324.5H622M867 324.5H868M575 325.5H576M617 325.5H619M622 325.5H624M615 326.5H617M624 326.5H625M614 327.5H615M577 328.5H578M612 328.5H614M611 329.5H612M626 329.5H627M610 330.5H611M627 330.5H630M579 331.5H581M609 331.5H610M630 331.5H634M871 331.5H872M581 332.5H583M608 332.5H609M634 332.5H637M583 333.5H585M607 333.5H608M637 333.5H639M585 334.5H587M606 334.5H607M639 334.5H641M873 334.5H874M587 335.5H588M641 335.5H643M588 336.5H589M643 336.5H646M589 337.5H590M604 337.5H605M646 337.5H654M875 337.5H876M590 338.5H591M603 338.5H604M654 338.5H656M591 339.5H592M602 339.5H603M656 339.5H658M592 340.5H594M600 340.5H602M658 340.5H659M594 341.5H595M598 341.5H600M659 341.5H660M595 342.5H598M660 342.5H662M662 343.5H663M663 344.5H664M879 344.5H880M664 345.5H665M691 345.5H692M690 346.5H691M689 347.5H690M666 348.5H667M688 348.5H689M667 349.5H668M687 349.5H688M668 350.5H670M686 350.5H687M670 351.5H671M671 352.5H672M672 353.5H673M684 353.5H685M673 354.5H674M683 354.5H684M674 355.5H675M681 355.5H683M675 356.5H681M927 356.5H932M926 357.5H927M932 357.5H934M924 358.5H926M934 358.5H935M887 359.5H888M923 359.5H924M935 359.5H937M943 359.5H946M922 360.5H923M937 360.5H939M941 360.5H943M946 360.5H950M921 361.5H922M939 361.5H941M950 361.5H952M889 362.5H890M920 362.5H921M952 362.5H953M919 363.5H920M918 364.5H919M891 365.5H892M916 365.5H918M954 365.5H955M915 366.5H916M955 366.5H956M914 367.5H915M957 369.5H958M912 370.5H913M911 371.5H912M895 372.5H898M909 372.5H911M959 372.5H960M898 373.5H902M906 373.5H909M960 373.5H961M902 374.5H906M961 374.5H962M962 375.5H963M963 376.5H964M964 377.5H965M965 378.5H966M966 379.5H967M967 380.5H968M969 383.5H970M971 386.5H972M1207 386.5H1212M1205 387.5H1207M1212 387.5H1213M1203 388.5H1205M1213 388.5H1214M973 389.5H974M1202 389.5H1203M1214 389.5H1215M1201 390.5H1202M1215 390.5H1216M1200 391.5H1201M1216 391.5H1217M975 392.5H976M1199 392.5H1200M1217 392.5H1218M1218 393.5H1219M1219 394.5H1220M1220 395.5H1221M1222 398.5H1223M979 399.5H980M1195 399.5H1196M1223 399.5H1224M1194 400.5H1195M1224 400.5H1225M1192 403.5H1193M1226 403.5H1227M1191 404.5H1192M1227 404.5H1228M1190 405.5H1191M1228 405.5H1229M1189 406.5H1190M1188 407.5H1189M1187 408.5H1188M1230 408.5H1231M1186 409.5H1187M1231 409.5H1233M1184 410.5H1186M1233 410.5H1235M1183 411.5H1184M1235 411.5H1236M1182 412.5H1183M1236 412.5H1237M1181 413.5H1182M1237 413.5H1238M987 414.5H988M1180 414.5H1181M1238 414.5H1239M1179 415.5H1180M1239 415.5H1240M1178 416.5H1179M1240 416.5H1241M989 417.5H990M1241 417.5H1242M1242 418.5H1243M1176 419.5H1177M1243 419.5H1244M991 420.5H992M1175 420.5H1176M1245 422.5H1246M1247 425.5H1248M1248 426.5H1249M995 427.5H996M1249 427.5H1250M1250 428.5H1251M1251 429.5H1252M1253 432.5H1254M999 434.5H1000M1000 435.5H1001M1255 435.5H1256M1001 436.5H1002M1256 436.5H1257M1002 437.5H1003M1003 438.5H1004M1004 439.5H1006M1258 439.5H1259M1006 440.5H1007M1259 440.5H1260M1007 441.5H1008M1260 441.5H1261M1008 442.5H1010M1261 442.5H1262M1339 442.5H1340M1010 443.5H1011M1262 443.5H1263M1338 443.5H1339M1011 444.5H1012M1263 444.5H1264M1337 444.5H1338M1012 445.5H1014M1264 445.5H1265M1336 445.5H1337M1014 446.5H1015M1335 446.5H1336M1015 447.5H1016M1334 447.5H1335M1016 448.5H1017M1266 448.5H1267M1333 448.5H1334M1055 449.5H1057M1267 449.5H1273M1332 449.5H1333M1054 450.5H1055M1057 450.5H1059M1273 450.5H1275M1318 450.5H1322M1331 450.5H1332M1018 451.5H1019M1059 451.5H1062M1275 451.5H1278M1311 451.5H1318M1322 451.5H1326M1329 451.5H1331M1019 452.5H1020M1062 452.5H1064M1278 452.5H1282M1309 452.5H1311M1326 452.5H1329M1020 453.5H1021M1052 453.5H1053M1064 453.5H1066M1282 453.5H1289M1306 453.5H1309M1051 454.5H1052M1066 454.5H1067M1289 454.5H1291M1302 454.5H1306M1050 455.5H1051M1067 455.5H1070M1291 455.5H1294M1298 455.5H1302M1022 456.5H1023M1070 456.5H1072M1294 456.5H1298M1023 457.5H1024M1048 458.5H1049M1047 459.5H1048M1073 459.5H1074M1025 460.5H1026M1046 460.5H1047M1045 461.5H1046M1044 462.5H1045M1075 462.5H1076M1027 463.5H1030M1042 463.5H1044M1030 464.5H1042M1077 465.5H1078M1079 468.5H1080M1080 469.5H1082M1082 470.5H1083M1083 471.5H1084M1095 495.5H1096M1142 495.5H1143M1096 496.5H1098M1098 497.5H1099M1099 498.5H1100M1140 498.5H1141M1100 499.5H1101M1139 499.5H1140M1101 500.5H1102M1138 500.5H1139M1102 501.5H1103M1103 502.5H1104M1104 503.5H1105M1136 503.5H1137M1135 504.5H1136M1134 505.5H1135M1106 506.5H1107M1107 507.5H1108M1108 508.5H1110M1132 508.5H1133M1110 509.5H1111M1131 509.5H1132M1111 510.5H1114M1130 510.5H1131M1114 511.5H1116M1116 512.5H1117M1117 513.5H1118M1128 513.5H1129M1118 514.5H1119M1126 514.5H1128M1119 515.5H1126" fill="none" stroke="#ff0000" stroke-width="1"/>
<path d="M3.5 241V244M4.5 237V241M5.5 232V237M6.5 228V232M7.5 223V228M8.5 218V223M9.5 212V218M10.5 207V212M11.5 202V207M12.5 197V202M13.5 193V197M14.5 188V193M15.5 184V188M16.5 180V184M17.5 176V180M18.5 172V176M19.5 170V172M23.5 168V170M24.5 170V173M25.5 173V175M26.5 175V178M27.5 178V182M28.5 182V187M29.5 187V191M30.5 191V196M31.5 196V200M32.5 200V202M33.5 202V205M34.5 205V207M35.5 207V211M36.5 211V215M37.5 215V219M38.5 219V223M39.5 223V227M40.5 227V232M41.5 232V237M42.5 237V242M43.5 242V245M44.5 242V244M45.5 240V242M46.5 238V240M53.5 240V242M55.5 242V244M56.5 240V242M57.5 238V240M58.5 236V238M59.5 234V236M60.5 231V234M61.5 228V231M62.5 225V228M63.5 223V225M64.5 224V226M65.5 226V228M66.5 228V230M67.5 229V231M68.5 227V229M69.5 225V227M70.5 223V225M71.5 220V223M72.5 217V220M73.5 213V217M74.5 210V213M75.5 207V210M76.5 204V207M77.5 201V204M78.5 198V201M79.5 196V198M92.5 199V201M93.5 201V203M94.5 203V205M95.5 205V208M96.5 208V213M97.5 213V217M98.5 217V222M99.5 222V226M100.5 226V229M101.5 229V231M102.5 231V234M103.5 234V236M111.5 232V234M112.5 229V232M113.5 227V229M114.5 224V227M115.5 220V224M116.5 216V220M117.5 211V216M118.5 207V211M119.5 202V207M120.5 198V202M121.5 194V198M122.5 190V194M123.5 187V190M125.5 184V186M127.5 181V183M128.5 179V181M129.5 177V179M130.5 175V177M143.5 180V182M144.5 178V180M145.5 175V178M146.5 173V175M147.5 171V173M153.5 164V166M155.5 161V163M156.5 159V161M157.5 157V159M158.5 155V157M159.5 153V155M160.5 154V156M161.5 156V158M162.5 158V160M164.5 161V163M165.5 163V165M166.5 165V167M173.5 173V175M179.5 175V177M180.5 172V175M181.5 168V172M182.5 165V168M183.5 161V165M184.5 157V161M185.5 152V157M186.5 148V152M187.5 143V148M188.5 139V143M189.5 135V139M190.5 131V135M191.5 127V131M192.5 124V127M193.5 121V124M194.5 118V121M195.5 116V118M203.5 112V114M204.5 114V117M205.5 117V119M206.5 119V122M207.5 122V126M208.5 126V131M209.5 131V136M210.5 136V141M211.5 141V145M212.5 145V149M213.5 149V152M214.5 152V156M215.5 156V159M216.5 159V163M217.5 163V167M218.5 167V171M219.5 171V174M220.5 174V178M221.5 178V182M222.5 182V186M223.5 186V189M224.5 189V192M225.5 192V195M226.5 195V198M227.5 198V200M229.5 201V203M243.5 201V203M244.5 199V201M245.5 197V199M246.5 195V197M247.5 193V195M248.5 190V193M249.5 187V190M250.5 184V187M251.5 182V184M253.5 179V181M255.5 176V178M256.5 173V176M257.5 171V173M258.5 168V171M259.5 165V168M260.5 162V165M261.5 159V162M262.5 156V159M263.5 153V156M264.5 151V153M265.5 149V151M266.5 147V149M279.5 144V146M280.5 146V150M281.5 150V153M282.5 153V157M283.5 157V161M284.5 161V165M285.5 165V170M286.5 170V174M287.5 174V179M288.5 179V184M289.5 184V188M290.5 188V193M291.5 193V198M292.5 198V202M293.5 202V206M294.5 206V210M295.5 210V215M296.5 215V220M297.5 220V224M298.5 224V229M299.5 229V233M300.5 233V236M301.5 236V239M302.5 239V242M303.5 242V245M304.5 245V248M305.5 248V250M306.5 250V253M307.5 253V256M308.5 256V258M309.5 258V260M310.5 260V262M311.5 262V264M312.5 264V266M313.5 266V268M314.5 268V270M324.5 264V266M325.5 262V264M326.5 260V262M327.5 258V260M328.5 255V258M329.5 253V255M330.5 250V253M331.5 247V250M332.5 244V247M333.5 240V244M334.5 237V240M335.5 235V237M336.5 233V235M338.5 230V232M341.5 226V228M352.5 219V221M354.5 216V218M356.5 213V215M357.5 211V213M358.5 209V211M359.5 207V209M360.5 205V207M361.5 203V205M362.5 201V203M368.5 199V201M370.5 202V204M371.5 204V206M372.5 206V209M373.5 209V212M374.5 212V215M375.5 215V218M376.5 218V220M377.5 220V223M378.5 223V225M379.5 225V230M380.5 230V236M381.5 236V242M382.5 242V248M383.5 248V253M384.5 253V257M385.5 257V262M386.5 262V266M387.5 266V270M388.5 270V273M389.5 273V276M390.5 276V279M391.5 279V282M392.5 282V285M393.5 285V289M394.5 289V292M395.5 292V294M396.5 294V296M398.5 297V299M399.5 298V300M400.5 295V298M401.5 292V295M402.5 289V292M403.5 286V289M404.5 284V286M405.5 281V284M406.5 279V281M407.5 276V279M408.5 273V276M409.5 269V273M410.5 266V269M411.5 263V266M412.5 259V263M413.5 256V259M414.5 252V256M415.5 249V252M416.5 247V249M417.5 245V247M418.5 243V245M419.5 241V243M420.5 239V241M422.5 236V238M424.5 233V235M425.5 231V233M426.5 229V231M428.5 226V228M430.5 223V225M432.5 223V225M434.5 226V228M436.5 229V231M437.5 231V233M438.5 233V235M443.5 238V240M444.5 240V243M445.5 243V246M446.5 246V249M447.5 249V253M448.5 253V257M449.5 257V261M450.5 261V265M451.5 265V268M452.5 268V270M453.5 270V272M454.5 272V274M455.5 274V276M456.5 276V278M457.5 278V281M458.5 281V283M459.5 283V287M460.5 287V291M461.5 291V295M462.5 295V299M463.5 299V302M464.5 302V305M465.5 305V307M466.5 307V310M467.5 310V313M468.5 313V315M469.5 315V317M470.5 317V319M471.5 319V321M487.5 318V320M488.5 315V318M489.5 313V315M490.5 310V313M491.5 308V310M492.5 306V308M494.5 303V305M496.5 300V302M497.5 298V300M498.5 296V298M500.5 293V295M501.5 291V293M502.5 289V291M503.5 287V289M504.5 284V287M505.5 280V284M506.5 277V280M507.5 275V277M509.5 272V274M521.5 259V261M523.5 257V259M524.5 259V261M525.5 261V263M526.5 263V265M527.5 265V268M528.5 268V271M529.5 271V273M530.5 273V276M531.5 276V279M532.5 279V281M533.5 281V283M534.5 283V285M535.5 285V287M537.5 288V290M539.5 291V293M540.5 293V296M541.5 296V300M542.5 300V303M543.5 303V305M544.5 305V307M545.5 307V309M546.5 309V311M547.5 311V313M548.5 313V316M549.5 316V320M550.5 320V323M551.5 323V326M552.5 326V330M553.5 330V333M554.5 333V337M555.5 337V341M556.5 341V345M557.5 345V349M558.5 349V353M559.5 353V355M560.5 355V357M561.5 357V359M562.5 359V361M567.5 357V360M568.5 353V357M569.5 349V353M570.5 345V349M571.5 343V345M576.5 337V339M578.5 334V336M587.5 330V332M588.5 332V334M589.5 334V337M590.5 337V339M591.5 339V341M597.5 334V336M599.5 331V333M600.5 329V331M601.5 327V329M602.5 325V327M605.5 321V323M607.5 318V320M608.5 316V318M609.5 314V316M610.5 312V314M619.5 314V316M620.5 316V318M621.5 318V320M622.5 320V322M623.5 322V325M624.5 325V327M625.5 327V330M626.5 330V332M627.5 332V335M628.5 335V338M629.5 338V340M630.5 340V343M631.5 343V345M632.5 345V347M634.5 348V350M636.5 351V353M637.5 353V355M638.5 355V357M648.5 358V360M650.5 355V357M652.5 352V354M654.5 349V351M657.5 345V347M665.5 342V344M667.5 345V347M668.5 347V349M669.5 349V351M670.5 351V353M671.5 353V356M672.5 356V358M673.5 358V360M674.5 360V362M675.5 362V364M681.5 363V365M683.5 359V362M684.5 355V359M685.5 351V355M686.5 347V351M687.5 344V347M688.5 340V344M689.5 336V340M690.5 332V336M691.5 328V332M692.5 322V328M693.5 317V322M694.5 311V317M695.5 306V311M696.5 300V306M697.5 294V300M698.5 288V294M699.5 283V288M700.5 278V283M701.5 273V278M702.5 268V273M703.5 264V268M704.5 261V264M705.5 259V261M706.5 256V259M707.5 253V256M708.5 250V253M709.5 247V250M710.5 244V247M711.5 242V244M715.5 240V242M716.5 242V244M717.5 244V246M718.5 246V248M719.5 248V251M720.5 251V256M721.5 256V260M722.5 260V265M723.5 265V269M724.5 269V273M725.5 273V277M726.5 277V281M727.5 281V284M728.5 284V287M729.5 287V291M730.5 291V294M731.5 294V298M732.5 298V302M733.5 302V306M734.5 306V310M735.5 310V314M736.5 314V316M737.5 316V318M738.5 318V320M739.5 320V322M740.5 318V320M741.5 315V318M742.5 313V315M743.5 309V313M744.5 304V309M745.5 300V304M746.5 295V300M747.5 290V295M748.5 285V290M749.5 280V285M750.5 275V280M751.5 269V275M752.5 261V269M753.5 254V261M754.5 246V254M755.5 239V246M756.5 233V239M757.5 226V233M758.5 220V226M759.5 214V220M760.5 210V214M761.5 206V210M762.5 202V206M763.5 200V202M764.5 198V200M766.5 195V197M775.5 195V197M776.5 197V200M777.5 200V203M778.5 203V206M779.5 206V209M780.5 209V213M781.5 213V216M782.5 216V220M783.5 220V223M784.5 223V227M785.5 227V230M786.5 230V234M787.5 234V237M788.5 237V241M789.5 241V244M790.5 244V248M791.5 248V253M792.5 253V259M793.5 259V265M794.5 265V271M795.5 271V276M796.5 276V279M797.5 279V282M798.5 282V285M799.5 285V288M800.5 288V292M801.5 292V295M802.5 295V299M803.5 299V302M804.5 302V304M805.5 304V307M806.5 307V309M807.5 309V311M812.5 312V314M813.5 310V312M814.5 308V310M817.5 304V306M819.5 301V303M820.5 299V301M821.5 296V299M822.5 294V296M823.5 292V294M824.5 290V292M825.5 288V290M826.5 286V288M828.5 286V288M829.5 288V290M830.5 290V292M833.5 294V296M839.5 301V303M840.5 303V305M841.5 305V307M842.5 307V309M845.5 311V313M851.5 314V316M852.5 316V319M853.5 319V322M854.5 322V325M855.5 325V328M856.5 328V331M857.5 331V335M858.5 335V338M859.5 338V341M860.5 341V343M861.5 343V346M862.5 346V348M863.5 348V351M864.5 351V355M865.5 355V359M866.5 359V363M867.5 363V366M868.5 366V369M869.5 369V373M870.5 373V376M871.5 376V378M883.5 382V384M884.5 384V386M885.5 386V388M886.5 388V390M887.5 390V392M893.5 395V397M896.5 396V398M897.5 394V396M898.5 392V394M899.5 390V392M900.5 388V390M901.5 385V388M902.5 383V385M903.5 378V383M904.5 372V378M905.5 365V372M906.5 359V365M907.5 354V359M908.5 350V354M909.5 346V350M910.5 342V346M911.5 338V342M912.5 334V338M913.5 330V334M914.5 326V330M915.5 324V326M923.5 319V321M924.5 321V323M925.5 323V325M926.5 325V327M927.5 327V329M928.5 329V331M929.5 331V334M930.5 334V336M931.5 336V340M932.5 340V345M933.5 345V350M934.5 350V355M935.5 355V360M936.5 360V364M937.5 364V368M938.5 368V372M939.5 372V377M940.5 377V381M941.5 381V386M942.5 386V390M943.5 390V394M944.5 394V397M945.5 397V401M946.5 401V404M947.5 404V406M948.5 406V408M949.5 408V410M950.5 410V412M959.5 411V413M960.5 409V411M961.5 407V409M962.5 405V407M964.5 402V404M965.5 400V402M966.5 398V400M979.5 395V397M980.5 397V401M981.5 401V404M982.5 404V408M983.5 408V413M984.5 413V419M985.5 419V425M986.5 425V431M987.5 431V436M988.5 436V441M989.5 441V446M990.5 446V451M991.5 451V456M992.5 456V461M993.5 461V465M994.5 465V470M995.5 470V475M996.5 475V479M997.5 479V484M998.5 484V488M999.5 488V491M1001.5 492V494M1003.5 494V496M1004.5 492V494M1005.5 490V492M1006.5 488V490M1007.5 486V488M1008.5 484V486M1009.5 481V484M1010.5 479V481M1011.5 476V479M1012.5 474V476M1013.5 472V474M1014.5 470V472M1015.5 467V470M1016.5 463V467M1017.5 460V463M1018.5 456V460M1019.5 454V456M1025.5 454V456M1029.5 454V456M1032.5 450V452M1033.5 448V450M1034.5 446V448M1041.5 446V448M1043.5 448V450M1044.5 446V448M1045.5 444V446M1046.5 442V444M1047.5 440V442M1053.5 444V446M1055.5 447V449M1056.5 449V451M1057.5 451V454M1058.5 454V456M1059.5 456V458M1063.5 455V457M1064.5 457V460M1065.5 460V462M1066.5 462V465M1067.5 465V468M1068.5 468V470M1069.5 470V472M1070.5 472V474M1071.5 474V477M1072.5 477V481M1073.5 481V485M1074.5 485V489M1075.5 489V492M1076.5 492V494M1077.5 494V497M1078.5 497V499M1079.5 499V502M1080.5 502V505M1081.5 505V507M1082.5 507V510M1083.5 510V513M1084.5 513V515M1085.5 515V517M1086.5 517V519M1087.5 519V521M1088.5 521V525M1089.5 525V528M1090.5 528V532M1091.5 532V534M1100.5 532V534M1101.5 530V532M1102.5 528V530M1105.5 524V526M1107.5 521V523M1108.5 518V521M1109.5 514V518M1110.5 511V514M1111.5 508V511M1112.5 506V508M1113.5 504V506M1114.5 502V504M1124.5 501V503M1125.5 499V501M1126.5 497V499M1127.5 495V497M1128.5 493V495M1129.5 491V493M1130.5 489V491M1131.5 487V489M1132.5 485V487M1133.5 483V485M1134.5 481V483M1135.5 478V481M1136.5 475V478M1137.5 472V475M1138.5 469V472M1139.5 466V469M1140.5 464V466M1141.5 462V464M1142.5 460V462M1143.5 457V460M1144.5 455V457M1145.5 453V455M1146.5 451V453M1147.5 448V451M1148.5 445V448M1149.5 441V445M1150.5 438V441M1151.5 434V438M1152.5 430V434M1153.5 426V430M1154.5 422V426M1155.5 417V422M1156.5 412V417M1157.5 406V412M1158.5 401V406M1159.5 396V401M1160.5 392V396M1161.5 388V392M1162.5 384V388M1163.5 381V384M1164.5 379V381M1165.5 377V379M1166.5 375V377M1167.5 373V375M1171.5 374V376M1172.5 376V378M1173.5 378V380M1174.5 380V382M1175.5 382V385M1176.5 385V388M1177.5 388V392M1178.5 392V395M1179.5 395V398M1180.5 398V400M1181.5 400V403M1182.5 403V405M1183.5 405V407M1184.5 407V409M1186.5 410V412M1195.5 407V409M1196.5 404V407M1197.5 401V404M1198.5 398V401M1199.5 395V398M1200.5 392V395M1201.5 388V392M1202.5 385V388M1203.5 382V385M1204.5 379V382M1205.5 377V379M1206.5 374V377M1207.5 372V374M1209.5 369V371M1212.5 368V370M1213.5 370V372M1214.5 372V374M1215.5 374V376M1216.5 376V379M1217.5 379V383M1218.5 383V386M1219.5 386V390M1220.5 390V394M1221.5 394V399M1222.5 399V403M1223.5 403V408M1224.5 408V414M1225.5 414V419M1226.5 419V425M1227.5 425V430M1228.5 430V435M1229.5 435V440M1230.5 440V445M1231.5 445V448M1232.5 448V450M1234.5 451V453M1235.5 453V455M1236.5 455V457M1237.5 457V459M1238.5 459V461M1239.5 461V463M1240.5 463V465M1242.5 466V468M1249.5 468V470M1255.5 462V464M1256.5 460V462M1257.5 457V460M1258.5 455V457M1259.5 452V455M1260.5 449V452M1261.5 447V449M1262.5 444V447M1263.5 441V444M1264.5 439V441M1265.5 437V439M1266.5 435V437M1267.5 433V435M1275.5 433V435M1276.5 435V437M1277.5 437V439M1278.5 439V441M1279.5 441V443M1280.5 443V445M1281.5 445V448M1282.5 448V450M1283.5 450V453M1284.5 453V455M1285.5 455V457M1286.5 457V459M1287.5 459V461M1288.5 461V464M1289.5 464V467M1290.5 467V470M1291.5 470V472M1303.5 473V475M1304.5 471V473M1305.5 469V471M1306.5 467V469M1307.5 464V467M1308.5 461V464M1309.5 457V461M1310.5 454V457M1311.5 451V454M1312.5 448V451M1313.5 444V448M1314.5 441V444M1315.5 438V441M1316.5 436V438M1317.5 433V436M1318.5 431V433M1319.5 429V431M1321.5 426V428M202 113.5H203M201 114.5H202M200 115.5H201M196 116.5H200M275 140.5H276M273 141.5H275M276 141.5H277M271 142.5H273M277 142.5H278M270 143.5H271M278 143.5H279M269 144.5H270M268 145.5H269M267 146.5H268M163 160.5H164M154 163.5H155M152 166.5H153M151 167.5H152M167 167.5H168M150 168.5H151M168 168.5H169M21 169.5H23M149 169.5H150M169 169.5H170M20 170.5H21M148 170.5H149M170 170.5H171M171 171.5H172M172 172.5H173M131 174.5H132M132 175.5H133M174 175.5H175M133 176.5H134M175 176.5H179M134 177.5H135M135 178.5H138M254 178.5H255M138 179.5H141M141 180.5H143M252 181.5H253M126 183.5H127M124 186.5H125M83 193.5H84M770 193.5H773M82 194.5H83M84 194.5H86M767 194.5H770M773 194.5H775M80 195.5H82M86 195.5H87M87 196.5H89M89 197.5H91M765 197.5H766M91 198.5H92M367 198.5H368M365 199.5H367M228 200.5H229M363 200.5H365M369 201.5H370M230 203.5H231M242 203.5H243M231 204.5H234M241 204.5H242M234 205.5H238M240 205.5H241M238 206.5H240M355 215.5H356M353 218.5H354M350 221.5H352M347 222.5H350M431 222.5H432M345 223.5H347M343 224.5H345M342 225.5H343M429 225.5H430M433 225.5H434M340 228.5H341M427 228.5H428M435 228.5H436M339 229.5H340M337 232.5H338M107 233.5H111M105 234.5H107M104 235.5H105M423 235.5H424M439 235.5H440M440 236.5H442M47 237.5H50M442 237.5H443M50 238.5H52M421 238.5H422M52 239.5H53M713 241.5H715M54 242.5H55M712 242.5H713M522 258.5H523M520 261.5H521M519 262.5H520M518 263.5H519M517 264.5H518M516 265.5H517M323 266.5H324M515 266.5H516M321 267.5H323M514 267.5H515M319 268.5H321M513 268.5H514M317 269.5H319M512 269.5H513M315 270.5H317M511 270.5H512M510 271.5H511M508 274.5H509M827 285.5H828M536 287.5H537M538 290.5H539M831 292.5H832M832 293.5H833M499 295.5H500M397 296.5H398M834 296.5H835M835 297.5H836M836 298.5H837M837 299.5H838M838 300.5H839M495 302.5H496M818 303.5H819M493 305.5H494M816 306.5H817M815 307.5H816M843 309.5H844M844 310.5H845M611 311.5H616M808 311.5H809M616 312.5H618M809 312.5H810M618 313.5H619M810 313.5H811M846 313.5H847M811 314.5H812M847 314.5H851M474 319.5H477M472 320.5H474M477 320.5H479M485 320.5H487M606 320.5H607M922 320.5H923M479 321.5H485M920 321.5H922M919 322.5H920M604 323.5H605M917 323.5H919M603 324.5H604M916 324.5H917M583 329.5H586M582 330.5H583M586 330.5H587M581 331.5H582M580 332.5H581M579 333.5H580M598 333.5H599M577 336.5H578M596 336.5H597M595 337.5H596M594 338.5H595M575 339.5H576M592 339.5H594M574 340.5H575M663 340.5H664M573 341.5H574M662 341.5H663M664 341.5H665M572 342.5H573M660 342.5H662M659 343.5H660M658 344.5H659M666 344.5H667M633 347.5H634M656 347.5H657M655 348.5H656M635 350.5H636M653 351.5H654M651 354.5H652M639 357.5H640M649 357.5H650M640 358.5H641M641 359.5H642M565 360.5H567M642 360.5H643M646 360.5H648M563 361.5H565M643 361.5H646M682 362.5H683M676 364.5H678M678 365.5H679M680 365.5H681M679 366.5H680M1211 367.5H1212M1210 368.5H1211M1208 371.5H1209M1168 373.5H1170M1170 374.5H1171M872 377.5H873M873 378.5H875M878 378.5H880M875 379.5H878M880 379.5H881M881 380.5H882M882 381.5H883M888 391.5H889M889 392.5H891M891 393.5H892M892 394.5H893M971 394.5H974M970 395.5H971M974 395.5H979M968 396.5H970M894 397.5H895M967 397.5H968M895 398.5H896M963 404.5H964M1185 409.5H1186M1194 409.5H1195M1193 410.5H1194M1192 411.5H1193M951 412.5H959M1187 412.5H1192M1323 424.5H1324M1322 425.5H1323M1324 425.5H1326M1326 426.5H1327M1327 427.5H1329M1320 428.5H1321M1329 428.5H1331M1334 428.5H1338M1271 429.5H1272M1331 429.5H1334M1338 429.5H1340M1270 430.5H1271M1272 430.5H1273M1269 431.5H1270M1273 431.5H1274M1268 432.5H1269M1274 432.5H1275M1048 440.5H1049M1049 441.5H1051M1051 442.5H1052M1052 443.5H1053M1038 444.5H1040M1035 445.5H1038M1040 445.5H1041M1054 446.5H1055M1042 448.5H1043M1233 450.5H1234M1023 452.5H1024M1031 452.5H1032M1021 453.5H1023M1024 453.5H1025M1030 453.5H1031M1020 454.5H1021M1026 456.5H1027M1028 456.5H1029M1061 456.5H1063M1027 457.5H1028M1060 457.5H1061M1254 464.5H1255M1241 465.5H1242M1252 465.5H1254M1251 466.5H1252M1250 467.5H1251M1243 468.5H1244M1244 469.5H1246M1246 470.5H1247M1248 470.5H1249M1247 471.5H1248M1292 472.5H1293M1293 473.5H1294M1294 474.5H1295M1302 474.5H1303M1295 475.5H1302M1000 491.5H1001M1002 494.5H1003M1115 501.5H1121M1121 502.5H1123M1123 503.5H1124M1106 523.5H1107M1104 526.5H1105M1103 527.5H1104M1092 534.5H1094M1099 534.5H1100M1094 535.5H1095M1097 535.5H1099M1095 536.5H1097" fill="none" stroke="#ffa500" stroke-width="1"/>
<rect x="3" y="337" width="1680" height="2" fill="#ff0000"/>
<rect x="3" y="405" width="1680" height="2" fill="#ff0000"/>
<rect x="3" y="481" width="1680" height="2" fill="#00ff00"/>
<rect x="3" y="572" width="1680" height="2" fill="#0000c8"/>
<path d="M1341,23 L1350,23 L1345.5,28 Z" fill="#c0c0c0"/>
</g>
<g clip-path="url(#cr)" shape-rendering="crispEdges">
<rect x="4" y="623" width="3" height="1" fill="#c0c0c0"/>
<rect x="10" y="623" width="3" height="1" fill="#c0c0c0"/>
<rect x="16" y="623" width="3" height="1" fill="#c0c0c0"/>
<rect x="22" y="623" width="3" height="1" fill="#c0c0c0"/>
<rect x="28" y="623" width="3" height="1" fill="#c0c0c0"/>
<rect x="34" y="623" width="3" height="1" fill="#c0c0c0"/>
<rect x="40" y="623" width="3" height="1" fill="#c0c0c0"/>
<rect x="46" y="623" width="3" height="1" fill="#c0c0c0"/>
<rect x="52" y="623" width="3" height="1" fill="#c0c0c0"/>
<rect x="58" y="623" width="3" height="1" fill="#c0c0c0"/>
<rect x="64" y="623" width="3" height="1" fill="#c0c0c0"/>
<rect x="70" y="623" width="3" height="1" fill="#c0c0c0"/>
<rect x="76" y="623" width="3" height="1" fill="#c0c0c0"/>
<rect x="82" y="623" width="3" height="1" fill="#c0c0c0"/>
<rect x="88" y="623" width="3" height="1" fill="#c0c0c0"/>
<rect x="94" y="623" width="3" height="1" fill="#c0c0c0"/>
<rect x="100" y="623" width="3" height="1" fill="#c0c0c0"/>
<rect x="106" y="623" width="3" height="1" fill="#c0c0c0"/>
<rect x="112" y="623" width="3" height="1" fill="#c0c0c0"/>
<rect x="118" y="623" width="3" height="1" fill="#c0c0c0"/>
<rect x="124" y="623" width="3" height="1" fill="#c0c0c0"/>
<rect x="130" y="623" width="3" height="1" fill="#c0c0c0"/>
<rect x="136" y="623" width="3" height="1" fill="#c0c0c0"/>
<rect x="142" y="623" width="3" height="1" fill="#c0c0c0"/>
<rect x="148" y="623" width="3" height="1" fill="#c0c0c0"/>
<rect x="154" y="623" width="3" height="1" fill="#c0c0c0"/>
<rect x="160" y="623" width="3" height="1" fill="#c0c0c0"/>
<rect x="166" y="623" width="3" height="1" fill="#c0c0c0"/>
<rect x="172" y="623" width="3" height="1" fill="#c0c0c0"/>
<rect x="178" y="623" width="3" height="1" fill="#c0c0c0"/>
<rect x="184" y="623" width="3" height="1" fill="#c0c0c0"/>
<rect x="190" y="623" width="3" height="1" fill="#c0c0c0"/>
<rect x="196" y="623" width="3" height="1" fill="#c0c0c0"/>
<rect x="202" y="623" width="3" height="1" fill="#c0c0c0"/>
<rect x="208" y="623" width="3" height="1" fill="#c0c0c0"/>
<rect x="214" y="623" width="3" height="1" fill="#c0c0c0"/>
<rect x="220" y="623" width="3" height="1" fill="#c0c0c0"/>
<rect x="226" y="623" width="3" height="1" fill="#c0c0c0"/>
<rect x="232" y="623" width="3" height="1" fill="#c0c0c0"/>
<rect x="238" y="623" width="3" height="1" fill="#c0c0c0"/>
<rect x="244" y="623" width="3" height="1" fill="#c0c0c0"/>
<rect x="250" y="623" width="3" height="1" fill="#c0c0c0"/>
<rect x="256" y="623" width="3" height="1" fill="#c0c0c0"/>
<rect x="262" y="623" width="3" height="1" fill="#c0c0c0"/>
<rect x="268" y="623" width="3" height="1" fill="#c0c0c0"/>
<rect x="274" y="623" width="3" height="1" fill="#c0c0c0"/>
<rect x="280" y="623" width="3" height="1" fill="#c0c0c0"/>
<rect x="286" y="623" width="3" height="1" fill="#c0c0c0"/>
<rect x="292" y="623" width="3" height="1" fill="#c0c0c0"/>
<rect x="298" y="623" width="3" height="1" fill="#c0c0c0"/>
<rect x="304" y="623" width="3" height="1" fill="#c0c0c0"/>
<rect x="310" y="623" width="3" height="1" fill="#c0c0c0"/>
<rect x="316" y="623" width="3" height="1" fill="#c0c0c0"/>
<rect x="322" y="623" width="3" height="1" fill="#c0c0c0"/>
<rect x="328" y="623" width="3" height="1" fill="#c0c0c0"/>
<rect x="334" y="623" width="3" height="1" fill="#c0c0c0"/>
<rect x="340" y="623" width="3" height="1" fill="#c0c0c0"/>
<rect x="346" y="623" width="3" height="1" fill="#c0c0c0"/>
<rect x="352" y="623" width="3" height="1" fill="#c0c0c0"/>
<rect x="358" y="623" width="3" height="1" fill="#c0c0c0"/>
<rect x="364" y="623" width="3" height="1" fill="#c0c0c0"/>
<rect x="370" y="623" width="3" height="1" fill="#c0c0c0"/>
<rect x="376" y="623" width="3" height="1" fill="#c0c0c0"/>
<rect x="382" y="623" width="3" height="1" fill="#c0c0c0"/>
<rect x="388" y="623" width="3" height="1" fill="#c0c0c0"/>
<rect x="394" y="623" width="3" height="1" fill="#c0c0c0"/>
<rect x="400" y="623" width="3" height="1" fill="#c0c0c0"/>
<rect x="406" y="623" width="3" height="1" fill="#c0c0c0"/>
<rect x="412" y="623" width="3" height="1" fill="#c0c0c0"/>
<rect x="418" y="623" width="3" height="1" fill="#c0c0c0"/>
<rect x="424" y="623" width="3" height="1" fill="#c0c0c0"/>
<rect x="430" y="623" width="3" height="1" fill="#c0c0c0"/>
<rect x="436" y="623" width="3" height="1" fill="#c0c0c0"/>
<rect x="442" y="623" width="3" height="1" fill="#c0c0c0"/>
<rect x="448" y="623" width="3" height="1" fill="#c0c0c0"/>
<rect x="454" y="623" width="3" height="1" fill="#c0c0c0"/>
<rect x="460" y="623" width="3" height="1" fill="#c0c0c0"/>
<rect x="466" y="623" width="3" height="1" fill="#c0c0c0"/>
<rect x="472" y="623" width="3" height="1" fill="#c0c0c0"/>
<rect x="478" y="623" width="3" height="1" fill="#c0c0c0"/>
<rect x="484" y="623" width="3" height="1" fill="#c0c0c0"/>
<rect x="490" y="623" width="3" height="1" fill="#c0c0c0"/>
<rect x="496" y="623" width="3" height="1" fill="#c0c0c0"/>
<rect x="502" y="623" width="3" height="1" fill="#c0c0c0"/>
<rect x="508" y="623" width="3" height="1" fill="#c0c0c0"/>
<rect x="514" y="623" width="3" height="1" fill="#c0c0c0"/>
<rect x="520" y="623" width="3" height="1" fill="#c0c0c0"/>
<rect x="526" y="623" width="3" height="1" fill="#c0c0c0"/>
<rect x="532" y="623" width="3" height="1" fill="#c0c0c0"/>
<rect x="538" y="623" width="3" height="1" fill="#c0c0c0"/>
<rect x="544" y="623" width="3" height="1" fill="#c0c0c0"/>
<rect x="550" y="623" width="3" height="1" fill="#c0c0c0"/>
<rect x="556" y="623" width="3" height="1" fill="#c0c0c0"/>
<rect x="562" y="623" width="3" height="1" fill="#c0c0c0"/>
<rect x="568" y="623" width="3" height="1" fill="#c0c0c0"/>
<rect x="574" y="623" width="3" height="1" fill="#c0c0c0"/>
<rect x="580" y="623" width="3" height="1" fill="#c0c0c0"/>
<rect x="586" y="623" width="3" height="1" fill="#c0c0c0"/>
<rect x="592" y="623" width="3" height="1" fill="#c0c0c0"/>
<rect x="598" y="623" width="3" height="1" fill="#c0c0c0"/>
<rect x="604" y="623" width="3" height="1" fill="#c0c0c0"/>
<rect x="610" y="623" width="3" height="1" fill="#c0c0c0"/>
<rect x="616" y="623" width="3" height="1" fill="#c0c0c0"/>
<rect x="622" y="623" width="3" height="1" fill="#c0c0c0"/>
<rect x="628" y="623" width="3" height="1" fill="#c0c0c0"/>
<rect x="634" y="623" width="3" height="1" fill="#c0c0c0"/>
<rect x="640" y="623" width="3" height="1" fill="#c0c0c0"/>
<rect x="646" y="623" width="3" height="1" fill="#c0c0c0"/>
<rect x="652" y="623" width="3" height="1" fill="#c0c0c0"/>
<rect x="658" y="623" width="3" height="1" fill="#c0c0c0"/>
<rect x="664" y="623" width="3" height="1" fill="#c0c0c0"/>
<rect x="670" y="623" width="3" height="1" fill="#c0c0c0"/>
<rect x="676" y="623" width="3" height="1" fill="#c0c0c0"/>
<rect x="682" y="623" width="3" height="1" fill="#c0c0c0"/>
<rect x="688" y="623" width="3" height="1" fill="#c0c0c0"/>
<rect x="694" y="623" width="3" height="1" fill="#c0c0c0"/>
<rect x="700" y="623" width="3" height="1" fill="#c0c0c0"/>
<rect x="706" y="623" width="3" height="1" fill="#c0c0c0"/>
<rect x="712" y="623" width="3" height="1" fill="#c0c0c0"/>
<rect x="718" y="623" width="3" height="1" fill="#c0c0c0"/>
<rect x="724" y="623" width="3" height="1" fill="#c0c0c0"/>
<rect x="730" y="623" width="3" height="1" fill="#c0c0c0"/>
<rect x="736" y="623" width="3" height="1" fill="#c0c0c0"/>
<rect x="742" y="623" width="3" height="1" fill="#c0c0c0"/>
<rect x="748" y="623" width="3" height="1" fill="#c0c0c0"/>
<rect x="754" y="623" width="3" height="1" fill="#c0c0c0"/>
<rect x="760" y="623" width="3" height="1" fill="#c0c0c0"/>
<rect x="766" y="623" width="3" height="1" fill="#c0c0c0"/>
<rect x="772" y="623" width="3" height="1" fill="#c0c0c0"/>
<rect x="778" y="623" width="3" height="1" fill="#c0c0c0"/>
<rect x="784" y="623" width="3" height="1" fill="#c0c0c0"/>
<rect x="790" y="623" width="3" height="1" fill="#c0c0c0"/>
<rect x="796" y="623" width="3" height="1" fill="#c0c0c0"/>
<rect x="802" y="623" width="3" height="1" fill="#c0c0c0"/>
<rect x="808" y="623" width="3" height="1" fill="#c0c0c0"/>
<rect x="814" y="623" width="3" height="1" fill="#c0c0c0"/>
<rect x="820" y="623" width="3" height="1" fill="#c0c0c0"/>
<rect x="826" y="623" width="3" height="1" fill="#c0c0c0"/>
<rect x="832" y="623" width="3" height="1" fill="#c0c0c0"/>
<rect x="838" y="623" width="3" height="1" fill="#c0c0c0"/>
<rect x="844" y="623" width="3" height="1" fill="#c0c0c0"/>
<rect x="850" y="623" width="3" height="1" fill="#c0c0c0"/>
<rect x="856" y="623" width="3" height="1" fill="#c0c0c0"/>
<rect x="862" y="623" width="3" height="1" fill="#c0c0c0"/>
<rect x="868" y="623" width="3" height="1" fill="#c0c0c0"/>
<rect x="874" y="623" width="3" height="1" fill="#c0c0c0"/>
<rect x="880" y="623" width="3" height="1" fill="#c0c0c0"/>
<rect x="886" y="623" width="3" height="1" fill="#c0c0c0"/>
<rect x="892" y="623" width="3" height="1" fill="#c0c0c0"/>
<rect x="898" y="623" width="3" height="1" fill="#c0c0c0"/>
<rect x="904" y="623" width="3" height="1" fill="#c0c0c0"/>
<rect x="910" y="623" width="3" height="1" fill="#c0c0c0"/>
<rect x="916" y="623" width="3" height="1" fill="#c0c0c0"/>
<rect x="922" y="623" width="3" height="1" fill="#c0c0c0"/>
<rect x="928" y="623" width="3" height="1" fill="#c0c0c0"/>
<rect x="934" y="623" width="3" height="1" fill="#c0c0c0"/>
<rect x="940" y="623" width="3" height="1" fill="#c0c0c0"/>
<rect x="946" y="623" width="3" height="1" fill="#c0c0c0"/>
<rect x="952" y="623" width="3" height="1" fill="#c0c0c0"/>
<rect x="958" y="623" width="3" height="1" fill="#c0c0c0"/>
<rect x="964" y="623" width="3" height="1" fill="#c0c0c0"/>
<rect x="970" y="623" width="3" height="1" fill="#c0c0c0"/>
<rect x="976" y="623" width="3" height="1" fill="#c0c0c0"/>
<rect x="982" y="623" width="3" height="1" fill="#c0c0c0"/>
<rect x="988" y="623" width="3" height="1" fill="#c0c0c0"/>
<rect x="994" y="623" width="3" height="1" fill="#c0c0c0"/>
<rect x="1000" y="623" width="3" height="1" fill="#c0c0c0"/>
<rect x="1006" y="623" width="3" height="1" fill="#c0c0c0"/>
<rect x="1012" y="623" width="3" height="1" fill="#c0c0c0"/>
<rect x="1018" y="623" width="3" height="1" fill="#c0c0c0"/>
<rect x="1024" y="623" width="3" height="1" fill="#c0c0c0"/>
<rect x="1030" y="623" width="3" height="1" fill="#c0c0c0"/>
<rect x="1036" y="623" width="3" height="1" fill="#c0c0c0"/>
<rect x="1042" y="623" width="3" height="1" fill="#c0c0c0"/>
<rect x="1048" y="623" width="3" height="1" fill="#c0c0c0"/>
<rect x="1054" y="623" width="3" height="1" fill="#c0c0c0"/>
<rect x="1060" y="623" width="3" height="1" fill="#c0c0c0"/>
<rect x="1066" y="623" width="3" height="1" fill="#c0c0c0"/>
<rect x="1072" y="623" width="3" height="1" fill="#c0c0c0"/>
<rect x="1078" y="623" width="3" height="1" fill="#c0c0c0"/>
<rect x="1084" y="623" width="3" height="1" fill="#c0c0c0"/>
<rect x="1090" y="623" width="3" height="1" fill="#c0c0c0"/>
<rect x="1096" y="623" width="3" height="1" fill="#c0c0c0"/>
<rect x="1102" y="623" width="3" height="1" fill="#c0c0c0"/>
<rect x="1108" y="623" width="3" height="1" fill="#c0c0c0"/>
<rect x="1114" y="623" width="3" height="1" fill="#c0c0c0"/>
<rect x="1120" y="623" width="3" height="1" fill="#c0c0c0"/>
<rect x="1126" y="623" width="3" height="1" fill="#c0c0c0"/>
<rect x="1132" y="623" width="3" height="1" fill="#c0c0c0"/>
<rect x="1138" y="623" width="3" height="1" fill="#c0c0c0"/>
<rect x="1144" y="623" width="3" height="1" fill="#c0c0c0"/>
<rect x="1150" y="623" width="3" height="1" fill="#c0c0c0"/>
<rect x="1156" y="623" width="3" height="1" fill="#c0c0c0"/>
<rect x="1162" y="623" width="3" height="1" fill="#c0c0c0"/>
<rect x="1168" y="623" width="3" height="1" fill="#c0c0c0"/>
<rect x="1174" y="623" width="3" height="1" fill="#c0c0c0"/>
<rect x="1180" y="623" width="3" height="1" fill="#c0c0c0"/>
<rect x="1186" y="623" width="3" height="1" fill="#c0c0c0"/>
<rect x="1192" y="623" width="3" height="1" fill="#c0c0c0"/>
<rect x="1198" y="623" width="3" height="1" fill="#c0c0c0"/>
<rect x="1204" y="623" width="3" height="1" fill="#c0c0c0"/>
<rect x="1210" y="623" width="3" height="1" fill="#c0c0c0"/>
<rect x="1216" y="623" width="3" height="1" fill="#c0c0c0"/>
<rect x="1222" y="623" width="3" height="1" fill="#c0c0c0"/>
<rect x="1228" y="623" width="3" height="1" fill="#c0c0c0"/>
<rect x="1234" y="623" width="3" height="1" fill="#c0c0c0"/>
<rect x="1240" y="623" width="3" height="1" fill="#c0c0c0"/>
<rect x="1246" y="623" width="3" height="1" fill="#c0c0c0"/>
<rect x="1252" y="623" width="3" height="1" fill="#c0c0c0"/>
<rect x="1258" y="623" width="3" height="1" fill="#c0c0c0"/>
<rect x="1264" y="623" width="3" height="1" fill="#c0c0c0"/>
<rect x="1270" y="623" width="3" height="1" fill="#c0c0c0"/>
<rect x="1276" y="623" width="3" height="1" fill="#c0c0c0"/>
<rect x="1282" y="623" width="3" height="1" fill="#c0c0c0"/>
<rect x="1288" y="623" width="3" height="1" fill="#c0c0c0"/>
<rect x="1294" y="623" width="3" height="1" fill="#c0c0c0"/>
<rect x="1300" y="623" width="3" height="1" fill="#c0c0c0"/>
<rect x="1306" y="623" width="3" height="1" fill="#c0c0c0"/>
<rect x="1312" y="623" width="3" height="1" fill="#c0c0c0"/>
<rect x="1318" y="623" width="3" height="1" fill="#c0c0c0"/>
<rect x="1324" y="623" width="3" height="1" fill="#c0c0c0"/>
<rect x="1330" y="623" width="3" height="1" fill="#c0c0c0"/>
<rect x="1336" y="623" width="3" height="1" fill="#c0c0c0"/>
<rect x="1342" y="623" width="3" height="1" fill="#c0c0c0"/>
<rect x="1348" y="623" width="3" height="1" fill="#c0c0c0"/>
<rect x="1354" y="623" width="3" height="1" fill="#c0c0c0"/>
<rect x="1360" y="623" width="3" height="1" fill="#c0c0c0"/>
<rect x="1366" y="623" width="3" height="1" fill="#c0c0c0"/>
<rect x="1372" y="623" width="3" height="1" fill="#c0c0c0"/>
<rect x="1378" y="623" width="3" height="1" fill="#c0c0c0"/>
<rect x="1384" y="623" width="3" height="1" fill="#c0c0c0"/>
<rect x="1390" y="623" width="3" height="1" fill="#c0c0c0"/>
<rect x="1396" y="623" width="3" height="1" fill="#c0c0c0"/>
<rect x="1402" y="623" width="3" height="1" fill="#c0c0c0"/>
<rect x="1408" y="623" width="3" height="1" fill="#c0c0c0"/>
<rect x="1414" y="623" width="3" height="1" fill="#c0c0c0"/>
<rect x="1420" y="623" width="3" height="1" fill="#c0c0c0"/>
<rect x="1426" y="623" width="3" height="1" fill="#c0c0c0"/>
<rect x="1432" y="623" width="3" height="1" fill="#c0c0c0"/>
<rect x="1438" y="623" width="3" height="1" fill="#c0c0c0"/>
<rect x="1444" y="623" width="3" height="1" fill="#c0c0c0"/>
<rect x="1450" y="623" width="3" height="1" fill="#c0c0c0"/>
<rect x="1456" y="623" width="3" height="1" fill="#c0c0c0"/>
<rect x="1462" y="623" width="3" height="1" fill="#c0c0c0"/>
<rect x="1468" y="623" width="3" height="1" fill="#c0c0c0"/>
<rect x="1474" y="623" width="3" height="1" fill="#c0c0c0"/>
<rect x="1480" y="623" width="3" height="1" fill="#c0c0c0"/>
<rect x="1486" y="623" width="3" height="1" fill="#c0c0c0"/>
<rect x="1492" y="623" width="3" height="1" fill="#c0c0c0"/>
<rect x="1498" y="623" width="3" height="1" fill="#c0c0c0"/>
<rect x="1504" y="623" width="3" height="1" fill="#c0c0c0"/>
<rect x="1510" y="623" width="3" height="1" fill="#c0c0c0"/>
<rect x="1516" y="623" width="3" height="1" fill="#c0c0c0"/>
<rect x="1522" y="623" width="3" height="1" fill="#c0c0c0"/>
<rect x="1528" y="623" width="3" height="1" fill="#c0c0c0"/>
<rect x="1534" y="623" width="3" height="1" fill="#c0c0c0"/>
<rect x="1540" y="623" width="3" height="1" fill="#c0c0c0"/>
<rect x="1546" y="623" width="3" height="1" fill="#c0c0c0"/>
<rect x="1552" y="623" width="3" height="1" fill="#c0c0c0"/>
<rect x="1558" y="623" width="3" height="1" fill="#c0c0c0"/>
<rect x="1564" y="623" width="3" height="1" fill="#c0c0c0"/>
<rect x="1570" y="623" width="3" height="1" fill="#c0c0c0"/>
<rect x="1576" y="623" width="3" height="1" fill="#c0c0c0"/>
<rect x="1582" y="623" width="3" height="1" fill="#c0c0c0"/>
<rect x="1588" y="623" width="3" height="1" fill="#c0c0c0"/>
<rect x="1594" y="623" width="3" height="1" fill="#c0c0c0"/>
<rect x="1600" y="623" width="3" height="1" fill="#c0c0c0"/>
<rect x="1606" y="623" width="3" height="1" fill="#c0c0c0"/>
<rect x="1612" y="623" width="3" height="1" fill="#c0c0c0"/>
<rect x="1618" y="623" width="3" height="1" fill="#c0c0c0"/>
<rect x="1624" y="623" width="3" height="1" fill="#c0c0c0"/>
<rect x="1630" y="623" width="3" height="1" fill="#c0c0c0"/>
<rect x="1636" y="623" width="3" height="1" fill="#c0c0c0"/>
<rect x="1642" y="623" width="3" height="1" fill="#c0c0c0"/>
<rect x="1648" y="623" width="3" height="1" fill="#c0c0c0"/>
<rect x="1654" y="623" width="3" height="1" fill="#c0c0c0"/>
<rect x="1660" y="623" width="3" height="1" fill="#c0c0c0"/>
<rect x="1666" y="623" width="3" height="1" fill="#c0c0c0"/>
<rect x="1672" y="623" width="3" height="1" fill="#c0c0c0"/>
<rect x="1678" y="623" width="3" height="1" fill="#c0c0c0"/>
<rect x="4" y="664" width="3" height="1" fill="#c0c0c0"/>
<rect x="10" y="664" width="3" height="1" fill="#c0c0c0"/>
<rect x="16" y="664" width="3" height="1" fill="#c0c0c0"/>
<rect x="22" y="664" width="3" height="1" fill="#c0c0c0"/>
<rect x="28" y="664" width="3" height="1" fill="#c0c0c0"/>
<rect x="34" y="664" width="3" height="1" fill="#c0c0c0"/>
<rect x="40" y="664" width="3" height="1" fill="#c0c0c0"/>
<rect x="46" y="664" width="3" height="1" fill="#c0c0c0"/>
<rect x="52" y="664" width="3" height="1" fill="#c0c0c0"/>
<rect x="58" y="664" width="3" height="1" fill="#c0c0c0"/>
<rect x="64" y="664" width="3" height="1" fill="#c0c0c0"/>
<rect x="70" y="664" width="3" height="1" fill="#c0c0c0"/>
<rect x="76" y="664" width="3" height="1" fill="#c0c0c0"/>
<rect x="82" y="664" width="3" height="1" fill="#c0c0c0"/>
<rect x="88" y="664" width="3" height="1" fill="#c0c0c0"/>
<rect x="94" y="664" width="3" height="1" fill="#c0c0c0"/>
<rect x="100" y="664" width="3" height="1" fill="#c0c0c0"/>
<rect x="106" y="664" width="3" height="1" fill="#c0c0c0"/>
<rect x="112" y="664" width="3" height="1" fill="#c0c0c0"/>
<rect x="118" y="664" width="3" height="1" fill="#c0c0c0"/>
<rect x="124" y="664" width="3" height="1" fill="#c0c0c0"/>
<rect x="130" y="664" width="3" height="1" fill="#c0c0c0"/>
<rect x="136" y="664" width="3" height="1" fill="#c0c0c0"/>
<rect x="142" y="664" width="3" height="1" fill="#c0c0c0"/>
<rect x="148" y="664" width="3" height="1" fill="#c0c0c0"/>
<rect x="154" y="664" width="3" height="1" fill="#c0c0c0"/>
<rect x="160" y="664" width="3" height="1" fill="#c0c0c0"/>
<rect x="166" y="664" width="3" height="1" fill="#c0c0c0"/>
<rect x="172" y="664" width="3" height="1" fill="#c0c0c0"/>
<rect x="178" y="664" width="3" height="1" fill="#c0c0c0"/>
<rect x="184" y="664" width="3" height="1" fill="#c0c0c0"/>
<rect x="190" y="664" width="3" height="1" fill="#c0c0c0"/>
<rect x="196" y="664" width="3" height="1" fill="#c0c0c0"/>
<rect x="202" y="664" width="3" height="1" fill="#c0c0c0"/>
<rect x="208" y="664" width="3" height="1" fill="#c0c0c0"/>
<rect x="214" y="664" width="3" height="1" fill="#c0c0c0"/>
<rect x="220" y="664" width="3" height="1" fill="#c0c0c0"/>
<rect x="226" y="664" width="3" height="1" fill="#c0c0c0"/>
<rect x="232" y="664" width="3" height="1" fill="#c0c0c0"/>
<rect x="238" y="664" width="3" height="1" fill="#c0c0c0"/>
<rect x="244" y="664" width="3" height="1" fill="#c0c0c0"/>
<rect x="250" y="664" width="3" height="1" fill="#c0c0c0"/>
<rect x="256" y="664" width="3" height="1" fill="#c0c0c0"/>
<rect x="262" y="664" width="3" height="1" fill="#c0c0c0"/>
<rect x="268" y="664" width="3" height="1" fill="#c0c0c0"/>
<rect x="274" y="664" width="3" height="1" fill="#c0c0c0"/>
<rect x="280" y="664" width="3" height="1" fill="#c0c0c0"/>
<rect x="286" y="664" width="3" height="1" fill="#c0c0c0"/>
<rect x="292" y="664" width="3" height="1" fill="#c0c0c0"/>
<rect x="298" y="664" width="3" height="1" fill="#c0c0c0"/>
<rect x="304" y="664" width="3" height="1" fill="#c0c0c0"/>
<rect x="310" y="664" width="3" height="1" fill="#c0c0c0"/>
<rect x="316" y="664" width="3" height="1" fill="#c0c0c0"/>
<rect x="322" y="664" width="3" height="1" fill="#c0c0c0"/>
<rect x="328" y="664" width="3" height="1" fill="#c0c0c0"/>
<rect x="334" y="664" width="3" height="1" fill="#c0c0c0"/>
<rect x="340" y="664" width="3" height="1" fill="#c0c0c0"/>
<rect x="346" y="664" width="3" height="1" fill="#c0c0c0"/>
<rect x="352" y="664" width="3" height="1" fill="#c0c0c0"/>
<rect x="358" y="664" width="3" height="1" fill="#c0c0c0"/>
<rect x="364" y="664" width="3" height="1" fill="#c0c0c0"/>
<rect x="370" y="664" width="3" height="1" fill="#c0c0c0"/>
<rect x="376" y="664" width="3" height="1" fill="#c0c0c0"/>
<rect x="382" y="664" width="3" height="1" fill="#c0c0c0"/>
<rect x="388" y="664" width="3" height="1" fill="#c0c0c0"/>
<rect x="394" y="664" width="3" height="1" fill="#c0c0c0"/>
<rect x="400" y="664" width="3" height="1" fill="#c0c0c0"/>
<rect x="406" y="664" width="3" height="1" fill="#c0c0c0"/>
<rect x="412" y="664" width="3" height="1" fill="#c0c0c0"/>
<rect x="418" y="664" width="3" height="1" fill="#c0c0c0"/>
<rect x="424" y="664" width="3" height="1" fill="#c0c0c0"/>
<rect x="430" y="664" width="3" height="1" fill="#c0c0c0"/>
<rect x="436" y="664" width="3" height="1" fill="#c0c0c0"/>
<rect x="442" y="664" width="3" height="1" fill="#c0c0c0"/>
<rect x="448" y="664" width="3" height="1" fill="#c0c0c0"/>
<rect x="454" y="664" width="3" height="1" fill="#c0c0c0"/>
<rect x="460" y="664" width="3" height="1" fill="#c0c0c0"/>
<rect x="466" y="664" width="3" height="1" fill="#c0c0c0"/>
<rect x="472" y="664" width="3" height="1" fill="#c0c0c0"/>
<rect x="478" y="664" width="3" height="1" fill="#c0c0c0"/>
<rect x="484" y="664" width="3" height="1" fill="#c0c0c0"/>
<rect x="490" y="664" width="3" height="1" fill="#c0c0c0"/>
<rect x="496" y="664" width="3" height="1" fill="#c0c0c0"/>
<rect x="502" y="664" width="3" height="1" fill="#c0c0c0"/>
<rect x="508" y="664" width="3" height="1" fill="#c0c0c0"/>
<rect x="514" y="664" width="3" height="1" fill="#c0c0c0"/>
<rect x="520" y="664" width="3" height="1" fill="#c0c0c0"/>
<rect x="526" y="664" width="3" height="1" fill="#c0c0c0"/>
<rect x="532" y="664" width="3" height="1" fill="#c0c0c0"/>
<rect x="538" y="664" width="3" height="1" fill="#c0c0c0"/>
<rect x="544" y="664" width="3" height="1" fill="#c0c0c0"/>
<rect x="550" y="664" width="3" height="1" fill="#c0c0c0"/>
<rect x="556" y="664" width="3" height="1" fill="#c0c0c0"/>
<rect x="562" y="664" width="3" height="1" fill="#c0c0c0"/>
<rect x="568" y="664" width="3" height="1" fill="#c0c0c0"/>
<rect x="574" y="664" width="3" height="1" fill="#c0c0c0"/>
<rect x="580" y="664" width="3" height="1" fill="#c0c0c0"/>
<rect x="586" y="664" width="3" height="1" fill="#c0c0c0"/>
<rect x="592" y="664" width="3" height="1" fill="#c0c0c0"/>
<rect x="598" y="664" width="3" height="1" fill="#c0c0c0"/>
<rect x="604" y="664" width="3" height="1" fill="#c0c0c0"/>
<rect x="610" y="664" width="3" height="1" fill="#c0c0c0"/>
<rect x="616" y="664" width="3" height="1" fill="#c0c0c0"/>
<rect x="622" y="664" width="3" height="1" fill="#c0c0c0"/>
<rect x="628" y="664" width="3" height="1" fill="#c0c0c0"/>
<rect x="634" y="664" width="3" height="1" fill="#c0c0c0"/>
<rect x="640" y="664" width="3" height="1" fill="#c0c0c0"/>
<rect x="646" y="664" width="3" height="1" fill="#c0c0c0"/>
<rect x="652" y="664" width="3" height="1" fill="#c0c0c0"/>
<rect x="658" y="664" width="3" height="1" fill="#c0c0c0"/>
<rect x="664" y="664" width="3" height="1" fill="#c0c0c0"/>
<rect x="670" y="664" width="3" height="1" fill="#c0c0c0"/>
<rect x="676" y="664" width="3" height="1" fill="#c0c0c0"/>
<rect x="682" y="664" width="3" height="1" fill="#c0c0c0"/>
<rect x="688" y="664" width="3" height="1" fill="#c0c0c0"/>
<rect x="694" y="664" width="3" height="1" fill="#c0c0c0"/>
<rect x="700" y="664" width="3" height="1" fill="#c0c0c0"/>
<rect x="706" y="664" width="3" height="1" fill="#c0c0c0"/>
<rect x="712" y="664" width="3" height="1" fill="#c0c0c0"/>
<rect x="718" y="664" width="3" height="1" fill="#c0c0c0"/>
<rect x="724" y="664" width="3" height="1" fill="#c0c0c0"/>
<rect x="730" y="664" width="3" height="1" fill="#c0c0c0"/>
<rect x="736" y="664" width="3" height="1" fill="#c0c0c0"/>
<rect x="742" y="664" width="3" height="1" fill="#c0c0c0"/>
<rect x="748" y="664" width="3" height="1" fill="#c0c0c0"/>
<rect x="754" y="664" width="3" height="1" fill="#c0c0c0"/>
<rect x="760" y="664" width="3" height="1" fill="#c0c0c0"/>
<rect x="766" y="664" width="3" height="1" fill="#c0c0c0"/>
<rect x="772" y="664" width="3" height="1" fill="#c0c0c0"/>
<rect x="778" y="664" width="3" height="1" fill="#c0c0c0"/>
<rect x="784" y="664" width="3" height="1" fill="#c0c0c0"/>
<rect x="790" y="664" width="3" height="1" fill="#c0c0c0"/>
<rect x="796" y="664" width="3" height="1" fill="#c0c0c0"/>
<rect x="802" y="664" width="3" height="1" fill="#c0c0c0"/>
<rect x="808" y="664" width="3" height="1" fill="#c0c0c0"/>
<rect x="814" y="664" width="3" height="1" fill="#c0c0c0"/>
<rect x="820" y="664" width="3" height="1" fill="#c0c0c0"/>
<rect x="826" y="664" width="3" height="1" fill="#c0c0c0"/>
<rect x="832" y="664" width="3" height="1" fill="#c0c0c0"/>
<rect x="838" y="664" width="3" height="1" fill="#c0c0c0"/>
<rect x="844" y="664" width="3" height="1" fill="#c0c0c0"/>
<rect x="850" y="664" width="3" height="1" fill="#c0c0c0"/>
<rect x="856" y="664" width="3" height="1" fill="#c0c0c0"/>
<rect x="862" y="664" width="3" height="1" fill="#c0c0c0"/>
<rect x="868" y="664" width="3" height="1" fill="#c0c0c0"/>
<rect x="874" y="664" width="3" height="1" fill="#c0c0c0"/>
<rect x="880" y="664" width="3" height="1" fill="#c0c0c0"/>
<rect x="886" y="664" width="3" height="1" fill="#c0c0c0"/>
<rect x="892" y="664" width="3" height="1" fill="#c0c0c0"/>
<rect x="898" y="664" width="3" height="1" fill="#c0c0c0"/>
<rect x="904" y="664" width="3" height="1" fill="#c0c0c0"/>
<rect x="910" y="664" width="3" height="1" fill="#c0c0c0"/>
<rect x="916" y="664" width="3" height="1" fill="#c0c0c0"/>
<rect x="922" y="664" width="3" height="1" fill="#c0c0c0"/>
<rect x="928" y="664" width="3" height="1" fill="#c0c0c0"/>
<rect x="934" y="664" width="3" height="1" fill="#c0c0c0"/>
<rect x="940" y="664" width="3" height="1" fill="#c0c0c0"/>
<rect x="946" y="664" width="3" height="1" fill="#c0c0c0"/>
<rect x="952" y="664" width="3" height="1" fill="#c0c0c0"/>
<rect x="958" y="664" width="3" height="1" fill="#c0c0c0"/>
<rect x="964" y="664" width="3" height="1" fill="#c0c0c0"/>
<rect x="970" y="664" width="3" height="1" fill="#c0c0c0"/>
<rect x="976" y="664" width="3" height="1" fill="#c0c0c0"/>
<rect x="982" y="664" width="3" height="1" fill="#c0c0c0"/>
<rect x="988" y="664" width="3" height="1" fill="#c0c0c0"/>
<rect x="994" y="664" width="3" height="1" fill="#c0c0c0"/>
<rect x="1000" y="664" width="3" height="1" fill="#c0c0c0"/>
<rect x="1006" y="664" width="3" height="1" fill="#c0c0c0"/>
<rect x="1012" y="664" width="3" height="1" fill="#c0c0c0"/>
<rect x="1018" y="664" width="3" height="1" fill="#c0c0c0"/>
<rect x="1024" y="664" width="3" height="1" fill="#c0c0c0"/>
<rect x="1030" y="664" width="3" height="1" fill="#c0c0c0"/>
<rect x="1036" y="664" width="3" height="1" fill="#c0c0c0"/>
<rect x="1042" y="664" width="3" height="1" fill="#c0c0c0"/>
<rect x="1048" y="664" width="3" height="1" fill="#c0c0c0"/>
<rect x="1054" y="664" width="3" height="1" fill="#c0c0c0"/>
<rect x="1060" y="664" width="3" height="1" fill="#c0c0c0"/>
<rect x="1066" y="664" width="3" height="1" fill="#c0c0c0"/>
<rect x="1072" y="664" width="3" height="1" fill="#c0c0c0"/>
<rect x="1078" y="664" width="3" height="1" fill="#c0c0c0"/>
<rect x="1084" y="664" width="3" height="1" fill="#c0c0c0"/>
<rect x="1090" y="664" width="3" height="1" fill="#c0c0c0"/>
<rect x="1096" y="664" width="3" height="1" fill="#c0c0c0"/>
<rect x="1102" y="664" width="3" height="1" fill="#c0c0c0"/>
<rect x="1108" y="664" width="3" height="1" fill="#c0c0c0"/>
<rect x="1114" y="664" width="3" height="1" fill="#c0c0c0"/>
<rect x="1120" y="664" width="3" height="1" fill="#c0c0c0"/>
<rect x="1126" y="664" width="3" height="1" fill="#c0c0c0"/>
<rect x="1132" y="664" width="3" height="1" fill="#c0c0c0"/>
<rect x="1138" y="664" width="3" height="1" fill="#c0c0c0"/>
<rect x="1144" y="664" width="3" height="1" fill="#c0c0c0"/>
<rect x="1150" y="664" width="3" height="1" fill="#c0c0c0"/>
<rect x="1156" y="664" width="3" height="1" fill="#c0c0c0"/>
<rect x="1162" y="664" width="3" height="1" fill="#c0c0c0"/>
<rect x="1168" y="664" width="3" height="1" fill="#c0c0c0"/>
<rect x="1174" y="664" width="3" height="1" fill="#c0c0c0"/>
<rect x="1180" y="664" width="3" height="1" fill="#c0c0c0"/>
<rect x="1186" y="664" width="3" height="1" fill="#c0c0c0"/>
<rect x="1192" y="664" width="3" height="1" fill="#c0c0c0"/>
<rect x="1198" y="664" width="3" height="1" fill="#c0c0c0"/>
<rect x="1204" y="664" width="3" height="1" fill="#c0c0c0"/>
<rect x="1210" y="664" width="3" height="1" fill="#c0c0c0"/>
<rect x="1216" y="664" width="3" height="1" fill="#c0c0c0"/>
<rect x="1222" y="664" width="3" height="1" fill="#c0c0c0"/>
<rect x="1228" y="664" width="3" height="1" fill="#c0c0c0"/>
<rect x="1234" y="664" width="3" height="1" fill="#c0c0c0"/>
<rect x="1240" y="664" width="3" height="1" fill="#c0c0c0"/>
<rect x="1246" y="664" width="3" height="1" fill="#c0c0c0"/>
<rect x="1252" y="664" width="3" height="1" fill="#c0c0c0"/>
<rect x="1258" y="664" width="3" height="1" fill="#c0c0c0"/>
<rect x="1264" y="664" width="3" height="1" fill="#c0c0c0"/>
<rect x="1270" y="664" width="3" height="1" fill="#c0c0c0"/>
<rect x="1276" y="664" width="3" height="1" fill="#c0c0c0"/>
<rect x="1282" y="664" width="3" height="1" fill="#c0c0c0"/>
<rect x="1288" y="664" width="3" height="1" fill="#c0c0c0"/>
<rect x="1294" y="664" width="3" height="1" fill="#c0c0c0"/>
<rect x="1300" y="664" width="3" height="1" fill="#c0c0c0"/>
<rect x="1306" y="664" width="3" height="1" fill="#c0c0c0"/>
<rect x="1312" y="664" width="3" height="1" fill="#c0c0c0"/>
<rect x="1318" y="664" width="3" height="1" fill="#c0c0c0"/>
<rect x="1324" y="664" width="3" height="1" fill="#c0c0c0"/>
<rect x="1330" y="664" width="3" height="1" fill="#c0c0c0"/>
<rect x="1336" y="664" width="3" height="1" fill="#c0c0c0"/>
<rect x="1342" y="664" width="3" height="1" fill="#c0c0c0"/>
<rect x="1348" y="664" width="3" height="1" fill="#c0c0c0"/>
<rect x="1354" y="664" width="3" height="1" fill="#c0c0c0"/>
<rect x="1360" y="664" width="3" height="1" fill="#c0c0c0"/>
<rect x="1366" y="664" width="3" height="1" fill="#c0c0c0"/>
<rect x="1372" y="664" width="3" height="1" fill="#c0c0c0"/>
<rect x="1378" y="664" width="3" height="1" fill="#c0c0c0"/>
<rect x="1384" y="664" width="3" height="1" fill="#c0c0c0"/>
<rect x="1390" y="664" width="3" height="1" fill="#c0c0c0"/>
<rect x="1396" y="664" width="3" height="1" fill="#c0c0c0"/>
<rect x="1402" y="664" width="3" height="1" fill="#c0c0c0"/>
<rect x="1408" y="664" width="3" height="1" fill="#c0c0c0"/>
<rect x="1414" y="664" width="3" height="1" fill="#c0c0c0"/>
<rect x="1420" y="664" width="3" height="1" fill="#c0c0c0"/>
<rect x="1426" y="664" width="3" height="1" fill="#c0c0c0"/>
<rect x="1432" y="664" width="3" height="1" fill="#c0c0c0"/>
<rect x="1438" y="664" width="3" height="1" fill="#c0c0c0"/>
<rect x="1444" y="664" width="3" height="1" fill="#c0c0c0"/>
<rect x="1450" y="664" width="3" height="1" fill="#c0c0c0"/>
<rect x="1456" y="664" width="3" height="1" fill="#c0c0c0"/>
<rect x="1462" y="664" width="3" height="1" fill="#c0c0c0"/>
<rect x="1468" y="664" width="3" height="1" fill="#c0c0c0"/>
<rect x="1474" y="664" width="3" height="1" fill="#c0c0c0"/>
<rect x="1480" y="664" width="3" height="1" fill="#c0c0c0"/>
<rect x="1486" y="664" width="3" height="1" fill="#c0c0c0"/>
<rect x="1492" y="664" width="3" height="1" fill="#c0c0c0"/>
<rect x="1498" y="664" width="3" height="1" fill="#c0c0c0"/>
<rect x="1504" y="664" width="3" height="1" fill="#c0c0c0"/>
<rect x="1510" y="664" width="3" height="1" fill="#c0c0c0"/>
<rect x="1516" y="664" width="3" height="1" fill="#c0c0c0"/>
<rect x="1522" y="664" width="3" height="1" fill="#c0c0c0"/>
<rect x="1528" y="664" width="3" height="1" fill="#c0c0c0"/>
<rect x="1534" y="664" width="3" height="1" fill="#c0c0c0"/>
<rect x="1540" y="664" width="3" height="1" fill="#c0c0c0"/>
<rect x="1546" y="664" width="3" height="1" fill="#c0c0c0"/>
<rect x="1552" y="664" width="3" height="1" fill="#c0c0c0"/>
<rect x="1558" y="664" width="3" height="1" fill="#c0c0c0"/>
<rect x="1564" y="664" width="3" height="1" fill="#c0c0c0"/>
<rect x="1570" y="664" width="3" height="1" fill="#c0c0c0"/>
<rect x="1576" y="664" width="3" height="1" fill="#c0c0c0"/>
<rect x="1582" y="664" width="3" height="1" fill="#c0c0c0"/>
<rect x="1588" y="664" width="3" height="1" fill="#c0c0c0"/>
<rect x="1594" y="664" width="3" height="1" fill="#c0c0c0"/>
<rect x="1600" y="664" width="3" height="1" fill="#c0c0c0"/>
<rect x="1606" y="664" width="3" height="1" fill="#c0c0c0"/>
<rect x="1612" y="664" width="3" height="1" fill="#c0c0c0"/>
<rect x="1618" y="664" width="3" height="1" fill="#c0c0c0"/>
<rect x="1624" y="664" width="3" height="1" fill="#c0c0c0"/>
<rect x="1630" y="664" width="3" height="1" fill="#c0c0c0"/>
<rect x="1636" y="664" width="3" height="1" fill="#c0c0c0"/>
<rect x="1642" y="664" width="3" height="1" fill="#c0c0c0"/>
<rect x="1648" y="664" width="3" height="1" fill="#c0c0c0"/>
<rect x="1654" y="664" width="3" height="1" fill="#c0c0c0"/>
<rect x="1660" y="664" width="3" height="1" fill="#c0c0c0"/>
<rect x="1666" y="664" width="3" height="1" fill="#c0c0c0"/>
<rect x="1672" y="664" width="3" height="1" fill="#c0c0c0"/>
<rect x="1678" y="664" width="3" height="1" fill="#c0c0c0"/>
<path d="M9.5 639V641M12.5 638V640M13.5 640V642M14.5 642V644M23.5 644V646M24.5 646V648M25.5 648V650M26.5 650V652M36.5 653V655M38.5 656V658M43.5 657V660M44.5 653V657M45.5 649V653M46.5 645V649M47.5 643V645M48.5 644V646M49.5 646V648M50.5 648V650M57.5 648V650M69.5 644V646M80.5 638V640M81.5 640V642M82.5 642V644M84.5 645V647M86.5 648V650M88.5 648V650M90.5 645V647M97.5 649V651M112.5 641V643M114.5 638V640M124.5 639V641M126.5 642V644M129.5 641V643M145.5 638V640M159.5 633V636M160.5 636V640M161.5 640V644M162.5 644V648M163.5 648V650M165.5 646V648M176.5 641V643M177.5 639V641M178.5 637V639M184.5 637V639M185.5 635V637M186.5 633V635M192.5 632V634M193.5 634V636M194.5 636V638M209.5 645V647M233.5 650V652M240.5 650V652M241.5 648V650M242.5 646V648M260.5 639V641M261.5 637V639M262.5 635V637M272.5 638V640M274.5 641V643M297.5 660V662M301.5 660V662M316.5 660V662M317.5 658V660M318.5 656V658M324.5 651V653M326.5 648V650M364.5 638V640M365.5 640V642M366.5 642V644M368.5 645V647M369.5 647V649M370.5 649V651M379.5 651V653M380.5 653V656M381.5 656V659M382.5 659V662M383.5 662V664M395.5 662V664M396.5 659V662M397.5 656V659M398.5 653V656M399.5 651V653M400.5 649V651M402.5 646V648M431.5 636V638M432.5 638V642M433.5 642V646M434.5 646V650M435.5 650V652M441.5 646V648M444.5 645V647M445.5 647V649M446.5 649V651M471.5 661V663M472.5 658V661M473.5 655V658M474.5 652V655M475.5 650V652M487.5 652V654M488.5 650V652M489.5 648V650M490.5 646V648M504.5 643V645M505.5 641V643M506.5 639V641M523.5 640V642M524.5 642V644M525.5 644V647M526.5 647V649M527.5 649V651M539.5 646V648M540.5 648V650M541.5 650V652M542.5 652V654M548.5 657V659M549.5 659V661M550.5 661V663M563.5 656V658M564.5 654V656M565.5 652V654M566.5 650V652M567.5 648V650M568.5 646V648M569.5 644V646M570.5 642V644M571.5 641V643M572.5 643V645M573.5 645V648M574.5 648V650M575.5 650V652M592.5 650V652M594.5 647V649M613.5 644V646M621.5 649V651M645.5 652V654M648.5 648V650M650.5 645V647M657.5 643V645M664.5 650V652M665.5 652V654M666.5 654V656M676.5 650V652M678.5 647V649M680.5 644V646M682.5 641V643M684.5 638V640M686.5 635V637M692.5 631V633M693.5 629V631M694.5 627V629M703.5 621V623M704.5 623V625M705.5 625V627M706.5 627V629M715.5 629V631M716.5 631V633M717.5 633V635M718.5 635V637M719.5 637V639M720.5 639V642M721.5 642V644M722.5 644V647M723.5 647V649M729.5 646V648M732.5 645V647M734.5 648V650M739.5 646V648M740.5 644V646M741.5 641V644M742.5 639V641M743.5 637V639M745.5 634V636M775.5 630V632M776.5 632V635M777.5 635V639M778.5 639V642M779.5 642V644M791.5 646V648M792.5 648V650M793.5 650V652M794.5 652V654M795.5 654V656M807.5 654V656M808.5 652V654M809.5 650V652M810.5 648V650M811.5 646V648M828.5 648V650M830.5 651V653M851.5 653V655M852.5 655V657M853.5 657V659M854.5 659V661M883.5 659V661M884.5 661V663M885.5 663V665M886.5 665V667M887.5 666V668M888.5 663V666M889.5 661V663M890.5 658V661M891.5 656V658M895.5 655V657M896.5 651V655M897.5 648V651M898.5 644V648M899.5 642V644M904.5 641V643M906.5 638V640M925.5 643V645M929.5 648V650M932.5 652V654M934.5 655V657M959.5 655V657M960.5 652V655M961.5 649V652M962.5 646V649M963.5 644V646M968.5 646V648M970.5 649V651M983.5 658V660M984.5 660V662M985.5 662V664M986.5 664V666M999.5 667V669M1000.5 663V667M1001.5 660V663M1002.5 656V660M1003.5 654V656M1016.5 651V653M1018.5 648V650M1024.5 651V653M1026.5 654V656M1027.5 655V657M1028.5 652V655M1029.5 648V652M1030.5 645V648M1031.5 643V645M1039.5 645V647M1040.5 647V649M1041.5 649V651M1042.5 651V653M1043.5 652V654M1044.5 650V652M1045.5 648V650M1046.5 646V648M1047.5 644V646M1057.5 649V651M1072.5 653V655M1074.5 656V658M1093.5 659V661M1100.5 651V653M1101.5 649V651M1102.5 647V649M1116.5 647V649M1118.5 650V652M1121.5 649V651M1124.5 645V647M1125.5 643V645M1126.5 641V643M1144.5 637V639M1146.5 634V636M1148.5 631V633M1150.5 628V630M1211.5 631V634M1212.5 634V638M1213.5 638V642M1214.5 642V646M1215.5 646V649M1247.5 656V658M1248.5 653V656M1249.5 651V653M1250.5 648V651M1251.5 646V648M1257.5 642V644M1271.5 641V643M1272.5 643V645M1273.5 645V647M1274.5 647V649M1275.5 649V651M1296.5 652V654M1298.5 649V651M1303.5 649V651M1304.5 646V649M1305.5 644V646M1306.5 641V644M1307.5 639V641M1319.5 635V637M1320.5 637V639M1321.5 639V641M1322.5 641V643M1323.5 643V645M1333.5 638V640M701 622.5H703M699 623.5H701M698 624.5H699M1155 624.5H1160M696 625.5H698M1154 625.5H1155M1160 625.5H1162M695 626.5H696M755 626.5H758M1152 626.5H1154M1162 626.5H1163M753 627.5H755M758 627.5H764M1151 627.5H1152M1163 627.5H1165M1203 627.5H1205M710 628.5H714M751 628.5H753M764 628.5H765M1165 628.5H1167M1201 628.5H1203M1205 628.5H1207M707 629.5H710M714 629.5H715M750 629.5H751M765 629.5H766M1167 629.5H1168M1199 629.5H1201M1207 629.5H1209M749 630.5H750M766 630.5H767M770 630.5H775M1149 630.5H1150M1168 630.5H1169M1198 630.5H1199M1209 630.5H1211M190 631.5H192M748 631.5H749M767 631.5H770M1169 631.5H1170M1197 631.5H1198M187 632.5H190M747 632.5H748M1170 632.5H1171M1196 632.5H1197M690 633.5H692M746 633.5H747M1147 633.5H1148M1171 633.5H1172M1195 633.5H1196M158 634.5H159M263 634.5H265M687 634.5H690M1172 634.5H1173M1193 634.5H1195M157 635.5H158M265 635.5H267M1173 635.5H1174M1191 635.5H1193M1318 635.5H1319M147 636.5H154M156 636.5H157M179 636.5H180M267 636.5H270M744 636.5H745M1145 636.5H1146M1174 636.5H1175M1190 636.5H1191M1314 636.5H1318M1335 636.5H1340M11 637.5H12M79 637.5H80M115 637.5H118M146 637.5H147M154 637.5H156M180 637.5H182M270 637.5H272M358 637.5H364M429 637.5H431M685 637.5H686M907 637.5H908M1131 637.5H1136M1175 637.5H1176M1188 637.5H1190M1311 637.5H1314M1334 637.5H1335M10 638.5H11M78 638.5H79M118 638.5H124M182 638.5H183M195 638.5H198M355 638.5H358M426 638.5H429M507 638.5H510M514 638.5H516M908 638.5H909M1130 638.5H1131M1136 638.5H1138M1176 638.5H1177M1187 638.5H1188M1309 638.5H1311M77 639.5H78M131 639.5H133M183 639.5H184M198 639.5H204M251 639.5H252M354 639.5H355M422 639.5H426M510 639.5H514M516 639.5H518M909 639.5H910M1128 639.5H1130M1138 639.5H1139M1142 639.5H1144M1177 639.5H1178M1186 639.5H1187M1308 639.5H1309M76 640.5H77M113 640.5H114M130 640.5H131M133 640.5H135M138 640.5H142M144 640.5H145M204 640.5H205M250 640.5H251M252 640.5H253M273 640.5H274M353 640.5H354M419 640.5H422M518 640.5H519M522 640.5H523M603 640.5H605M683 640.5H684M905 640.5H906M910 640.5H911M914 640.5H917M1127 640.5H1128M1139 640.5H1142M1178 640.5H1179M1184 640.5H1186M1259 640.5H1262M1332 640.5H1333M8 641.5H9M74 641.5H76M125 641.5H126M135 641.5H138M142 641.5H144M205 641.5H206M248 641.5H250M253 641.5H254M259 641.5H260M352 641.5H353M418 641.5H419M519 641.5H522M601 641.5H603M605 641.5H607M655 641.5H656M911 641.5H914M917 641.5H919M922 641.5H924M1179 641.5H1184M1258 641.5H1259M1262 641.5H1264M1331 641.5H1332M7 642.5H8M71 642.5H74M171 642.5H174M206 642.5H207M247 642.5H248M254 642.5H255M257 642.5H259M351 642.5H352M411 642.5H413M417 642.5H418M495 642.5H497M599 642.5H601M607 642.5H612M654 642.5H655M656 642.5H657M900 642.5H902M919 642.5H922M924 642.5H925M1264 642.5H1266M1270 642.5H1271M1330 642.5H1331M6 643.5H7M70 643.5H71M111 643.5H112M128 643.5H129M169 643.5H171M174 643.5H176M207 643.5H208M246 643.5H247M255 643.5H257M275 643.5H276M350 643.5H351M410 643.5H411M413 643.5H415M416 643.5H417M494 643.5H495M497 643.5H499M598 643.5H599M612 643.5H613M652 643.5H654M681 643.5H682M780 643.5H782M902 643.5H904M1032 643.5H1037M1266 643.5H1267M1268 643.5H1270M1328 643.5H1330M4 644.5H6M15 644.5H17M83 644.5H84M91 644.5H92M110 644.5H111M127 644.5H128M167 644.5H169M208 644.5H209M244 644.5H246M276 644.5H278M348 644.5H350M367 644.5H368M409 644.5H410M415 644.5H416M443 644.5H444M492 644.5H494M499 644.5H502M597 644.5H598M651 644.5H652M731 644.5H732M782 644.5H784M823 644.5H824M964 644.5H966M1037 644.5H1039M1048 644.5H1050M1256 644.5H1257M1267 644.5H1268M1324 644.5H1328M3 645.5H4M17 645.5H19M21 645.5H23M92 645.5H94M109 645.5H110M166 645.5H167M243 645.5H244M278 645.5H279M331 645.5H337M347 645.5H348M403 645.5H406M408 645.5H409M442 645.5H443M491 645.5H492M502 645.5H504M596 645.5H597M658 645.5H659M730 645.5H731M784 645.5H785M822 645.5H823M824 645.5H826M926 645.5H927M966 645.5H968M1050 645.5H1053M1254 645.5H1256M19 646.5H21M59 646.5H66M68 646.5H69M94 646.5H95M108 646.5H109M279 646.5H280M329 646.5H331M337 646.5H339M345 646.5H347M406 646.5H408M595 646.5H596M614 646.5H615M659 646.5H660M679 646.5H680M785 646.5H786M812 646.5H818M820 646.5H822M826 646.5H827M927 646.5H928M1053 646.5H1055M1103 646.5H1105M1111 646.5H1116M1252 646.5H1254M58 647.5H59M66 647.5H68M85 647.5H86M89 647.5H90M95 647.5H96M107 647.5H108M210 647.5H211M280 647.5H281M327 647.5H329M339 647.5H345M538 647.5H539M615 647.5H620M649 647.5H650M660 647.5H662M733 647.5H734M786 647.5H787M789 647.5H791M818 647.5H820M827 647.5H828M928 647.5H929M1019 647.5H1020M1055 647.5H1056M1105 647.5H1107M1109 647.5H1111M1123 647.5H1124M96 648.5H97M106 648.5H107M164 648.5H165M211 648.5H213M235 648.5H236M281 648.5H282M401 648.5H402M440 648.5H441M536 648.5H538M586 648.5H588M620 648.5H621M662 648.5H663M724 648.5H726M728 648.5H729M738 648.5H739M787 648.5H789M969 648.5H970M1020 648.5H1022M1056 648.5H1057M1107 648.5H1109M1122 648.5H1123M1216 648.5H1220M1299 648.5H1301M105 649.5H106M213 649.5H215M234 649.5H235M236 649.5H237M282 649.5H283M439 649.5H440M535 649.5H536M582 649.5H586M588 649.5H589M593 649.5H594M663 649.5H664M677 649.5H678M726 649.5H728M736 649.5H738M1022 649.5H1023M1117 649.5H1118M1220 649.5H1221M1301 649.5H1303M51 650.5H54M56 650.5H57M87 650.5H88M104 650.5H105M215 650.5H218M237 650.5H238M283 650.5H284M325 650.5H326M437 650.5H439M528 650.5H529M534 650.5H535M578 650.5H582M589 650.5H590M647 650.5H648M735 650.5H736M829 650.5H830M835 650.5H842M930 650.5H931M1017 650.5H1018M1023 650.5H1024M1063 650.5H1064M1221 650.5H1222M1276 650.5H1278M54 651.5H56M98 651.5H99M102 651.5H104M218 651.5H226M238 651.5H239M284 651.5H286M371 651.5H372M436 651.5H437M447 651.5H448M476 651.5H477M529 651.5H531M532 651.5H534M576 651.5H578M590 651.5H591M622 651.5H623M646 651.5H647M834 651.5H835M842 651.5H846M931 651.5H932M971 651.5H973M1010 651.5H1013M1058 651.5H1059M1061 651.5H1063M1064 651.5H1066M1120 651.5H1121M1222 651.5H1223M1278 651.5H1280M1297 651.5H1298M27 652.5H29M35 652.5H36M99 652.5H102M226 652.5H230M232 652.5H233M239 652.5H240M286 652.5H287M372 652.5H374M378 652.5H379M448 652.5H450M477 652.5H478M531 652.5H532M591 652.5H592M623 652.5H625M635 652.5H636M675 652.5H676M832 652.5H834M846 652.5H850M973 652.5H975M1007 652.5H1010M1013 652.5H1015M1059 652.5H1061M1066 652.5H1067M1070 652.5H1072M1119 652.5H1120M1223 652.5H1224M1235 652.5H1236M1280 652.5H1282M29 653.5H31M33 653.5H35M230 653.5H232M287 653.5H288M323 653.5H324M374 653.5H375M376 653.5H378M450 653.5H451M478 653.5H479M486 653.5H487M625 653.5H627M634 653.5H635M636 653.5H638M674 653.5H675M831 653.5H832M850 653.5H851M975 653.5H977M1005 653.5H1007M1015 653.5H1016M1025 653.5H1026M1067 653.5H1070M1099 653.5H1100M1224 653.5H1225M1234 653.5H1235M1236 653.5H1237M1282 653.5H1283M31 654.5H33M288 654.5H289M321 654.5H323M375 654.5H376M451 654.5H453M479 654.5H486M543 654.5H545M627 654.5H630M632 654.5H634M638 654.5H639M644 654.5H645M672 654.5H674M798 654.5H801M933 654.5H934M977 654.5H979M1004 654.5H1005M1098 654.5H1099M1225 654.5H1226M1233 654.5H1234M1237 654.5H1238M1283 654.5H1289M1295 654.5H1296M37 655.5H38M289 655.5H290M319 655.5H321M453 655.5H455M545 655.5H547M630 655.5H632M639 655.5H644M670 655.5H672M796 655.5H798M801 655.5H803M806 655.5H807M954 655.5H958M979 655.5H980M1073 655.5H1074M1097 655.5H1098M1226 655.5H1227M1232 655.5H1233M1238 655.5H1239M1289 655.5H1291M1293 655.5H1295M290 656.5H291M455 656.5H458M547 656.5H548M667 656.5H670M803 656.5H806M892 656.5H895M942 656.5H954M958 656.5H959M980 656.5H982M1096 656.5H1097M1227 656.5H1232M1239 656.5H1246M1291 656.5H1293M291 657.5H294M458 657.5H461M878 657.5H881M935 657.5H942M982 657.5H983M1095 657.5H1096M1246 657.5H1247M39 658.5H42M294 658.5H296M303 658.5H306M461 658.5H463M561 658.5H563M875 658.5H878M881 658.5H883M1075 658.5H1078M1082 658.5H1088M1094 658.5H1095M42 659.5H43M296 659.5H297M302 659.5H303M306 659.5H309M463 659.5H466M558 659.5H561M863 659.5H864M874 659.5H875M1078 659.5H1082M1088 659.5H1089M309 660.5H311M466 660.5H469M555 660.5H558M862 660.5H863M864 660.5H865M873 660.5H874M1089 660.5H1090M311 661.5H314M390 661.5H393M469 661.5H471M554 661.5H555M855 661.5H857M861 661.5H862M865 661.5H866M872 661.5H873M1090 661.5H1091M1092 661.5H1093M298 662.5H299M300 662.5H301M314 662.5H316M386 662.5H390M393 662.5H395M552 662.5H554M857 662.5H859M860 662.5H861M866 662.5H867M870 662.5H872M1091 662.5H1092M299 663.5H300M384 663.5H386M551 663.5H552M859 663.5H860M867 663.5H870M987 666.5H990M990 667.5H994M994 668.5H999" fill="none" stroke="#1e90ff" stroke-width="1"/>
</g>
<g clip-path="url(#cd)" shape-rendering="crispEdges">
<rect x="3" y="746" width="1" height="44" fill="#c0c0c0"/>
<rect x="7" y="746" width="1" height="36" fill="#c0c0c0"/>
<rect x="11" y="746" width="1" height="26" fill="#c0c0c0"/>
<rect x="15" y="746" width="1" height="22" fill="#c0c0c0"/>
<rect x="19" y="746" width="1" height="19" fill="#c0c0c0"/>
<rect x="23" y="746" width="1" height="16" fill="#c0c0c0"/>
<rect x="27" y="746" width="1" height="19" fill="#c0c0c0"/>
<rect x="31" y="746" width="1" height="22" fill="#c0c0c0"/>
<rect x="35" y="746" width="1" height="23" fill="#c0c0c0"/>
<rect x="39" y="746" width="1" height="27" fill="#c0c0c0"/>
<rect x="43" y="746" width="1" height="32" fill="#c0c0c0"/>
<rect x="47" y="746" width="1" height="26" fill="#c0c0c0"/>
<rect x="51" y="746" width="1" height="27" fill="#c0c0c0"/>
<rect x="55" y="746" width="1" height="28" fill="#c0c0c0"/>
<rect x="59" y="746" width="1" height="25" fill="#c0c0c0"/>
<rect x="63" y="746" width="1" height="22" fill="#c0c0c0"/>
<rect x="67" y="746" width="1" height="21" fill="#c0c0c0"/>
<rect x="71" y="746" width="1" height="16" fill="#c0c0c0"/>
<rect x="75" y="746" width="1" height="11" fill="#c0c0c0"/>
<rect x="79" y="746" width="1" height="5" fill="#c0c0c0"/>
<rect x="83" y="746" width="1" height="4" fill="#c0c0c0"/>
<rect x="87" y="746" width="1" height="7" fill="#c0c0c0"/>
<rect x="91" y="746" width="1" height="6" fill="#c0c0c0"/>
<rect x="95" y="746" width="1" height="7" fill="#c0c0c0"/>
<rect x="99" y="746" width="1" height="12" fill="#c0c0c0"/>
<rect x="103" y="746" width="1" height="15" fill="#c0c0c0"/>
<rect x="107" y="746" width="1" height="14" fill="#c0c0c0"/>
<rect x="111" y="746" width="1" height="11" fill="#c0c0c0"/>
<rect x="115" y="746" width="1" height="4" fill="#c0c0c0"/>
<rect x="119" y="745" width="1" height="2" fill="#c0c0c0"/>
<rect x="123" y="741" width="1" height="6" fill="#c0c0c0"/>
<rect x="127" y="742" width="1" height="5" fill="#c0c0c0"/>
<rect x="131" y="739" width="1" height="8" fill="#c0c0c0"/>
<rect x="135" y="738" width="1" height="9" fill="#c0c0c0"/>
<rect x="139" y="737" width="1" height="10" fill="#c0c0c0"/>
<rect x="143" y="736" width="1" height="11" fill="#c0c0c0"/>
<rect x="147" y="733" width="1" height="14" fill="#c0c0c0"/>
<rect x="151" y="730" width="1" height="17" fill="#c0c0c0"/>
<rect x="155" y="729" width="1" height="18" fill="#c0c0c0"/>
<rect x="159" y="726" width="1" height="21" fill="#c0c0c0"/>
<rect x="163" y="732" width="1" height="15" fill="#c0c0c0"/>
<rect x="167" y="734" width="1" height="13" fill="#c0c0c0"/>
<rect x="171" y="735" width="1" height="12" fill="#c0c0c0"/>
<rect x="175" y="736" width="1" height="11" fill="#c0c0c0"/>
<rect x="179" y="732" width="1" height="15" fill="#c0c0c0"/>
<rect x="183" y="731" width="1" height="16" fill="#c0c0c0"/>
<rect x="187" y="724" width="1" height="23" fill="#c0c0c0"/>
<rect x="191" y="719" width="1" height="28" fill="#c0c0c0"/>
<rect x="195" y="718" width="1" height="29" fill="#c0c0c0"/>
<rect x="199" y="719" width="1" height="28" fill="#c0c0c0"/>
<rect x="203" y="720" width="1" height="27" fill="#c0c0c0"/>
<rect x="207" y="723" width="1" height="24" fill="#c0c0c0"/>
<rect x="211" y="730" width="1" height="17" fill="#c0c0c0"/>
<rect x="215" y="736" width="1" height="11" fill="#c0c0c0"/>
<rect x="219" y="743" width="1" height="4" fill="#c0c0c0"/>
<rect x="223" y="746" width="1" height="1" fill="#c0c0c0"/>
<rect x="227" y="746" width="1" height="5" fill="#c0c0c0"/>
<rect x="231" y="746" width="1" height="9" fill="#c0c0c0"/>
<rect x="235" y="746" width="1" height="10" fill="#c0c0c0"/>
<rect x="239" y="746" width="1" height="13" fill="#c0c0c0"/>
<rect x="243" y="746" width="1" height="11" fill="#c0c0c0"/>
<rect x="247" y="746" width="1" height="9" fill="#c0c0c0"/>
<rect x="251" y="746" width="1" height="5" fill="#c0c0c0"/>
<rect x="255" y="746" width="1" height="3" fill="#c0c0c0"/>
<rect x="259" y="746" width="1" height="1" fill="#c0c0c0"/>
<rect x="263" y="742" width="1" height="5" fill="#c0c0c0"/>
<rect x="267" y="738" width="1" height="9" fill="#c0c0c0"/>
<rect x="271" y="736" width="1" height="11" fill="#c0c0c0"/>
<rect x="275" y="737" width="1" height="10" fill="#c0c0c0"/>
<rect x="279" y="739" width="1" height="8" fill="#c0c0c0"/>
<rect x="283" y="744" width="1" height="3" fill="#c0c0c0"/>
<rect x="287" y="746" width="1" height="3" fill="#c0c0c0"/>
<rect x="291" y="746" width="1" height="10" fill="#c0c0c0"/>
<rect x="295" y="746" width="1" height="15" fill="#c0c0c0"/>
<rect x="299" y="746" width="1" height="23" fill="#c0c0c0"/>
<rect x="303" y="746" width="1" height="27" fill="#c0c0c0"/>
<rect x="307" y="746" width="1" height="31" fill="#c0c0c0"/>
<rect x="311" y="746" width="1" height="34" fill="#c0c0c0"/>
<rect x="315" y="746" width="1" height="38" fill="#c0c0c0"/>
<rect x="319" y="746" width="1" height="37" fill="#c0c0c0"/>
<rect x="323" y="746" width="1" height="36" fill="#c0c0c0"/>
<rect x="327" y="746" width="1" height="32" fill="#c0c0c0"/>
<rect x="331" y="746" width="1" height="27" fill="#c0c0c0"/>
<rect x="335" y="746" width="1" height="23" fill="#c0c0c0"/>
<rect x="339" y="746" width="1" height="21" fill="#c0c0c0"/>
<rect x="343" y="746" width="1" height="19" fill="#c0c0c0"/>
<rect x="347" y="746" width="1" height="16" fill="#c0c0c0"/>
<rect x="351" y="746" width="1" height="13" fill="#c0c0c0"/>
<rect x="355" y="746" width="1" height="8" fill="#c0c0c0"/>
<rect x="359" y="746" width="1" height="4" fill="#c0c0c0"/>
<rect x="363" y="746" width="1" height="1" fill="#c0c0c0"/>
<rect x="367" y="746" width="1" height="1" fill="#c0c0c0"/>
<rect x="371" y="746" width="1" height="4" fill="#c0c0c0"/>
<rect x="375" y="746" width="1" height="7" fill="#c0c0c0"/>
<rect x="379" y="746" width="1" height="9" fill="#c0c0c0"/>
<rect x="383" y="746" width="1" height="17" fill="#c0c0c0"/>
<rect x="387" y="746" width="1" height="23" fill="#c0c0c0"/>
<rect x="391" y="746" width="1" height="27" fill="#c0c0c0"/>
<rect x="395" y="746" width="1" height="31" fill="#c0c0c0"/>
<rect x="399" y="746" width="1" height="30" fill="#c0c0c0"/>
<rect x="403" y="746" width="1" height="26" fill="#c0c0c0"/>
<rect x="407" y="746" width="1" height="23" fill="#c0c0c0"/>
<rect x="411" y="746" width="1" height="18" fill="#c0c0c0"/>
<rect x="415" y="746" width="1" height="15" fill="#c0c0c0"/>
<rect x="419" y="746" width="1" height="11" fill="#c0c0c0"/>
<rect x="423" y="746" width="1" height="7" fill="#c0c0c0"/>
<rect x="427" y="746" width="1" height="3" fill="#c0c0c0"/>
<rect x="431" y="746" width="1" height="1" fill="#c0c0c0"/>
<rect x="435" y="746" width="1" height="3" fill="#c0c0c0"/>
<rect x="439" y="746" width="1" height="5" fill="#c0c0c0"/>
<rect x="443" y="746" width="1" height="4" fill="#c0c0c0"/>
<rect x="447" y="746" width="1" height="7" fill="#c0c0c0"/>
<rect x="451" y="746" width="1" height="11" fill="#c0c0c0"/>
<rect x="455" y="746" width="1" height="16" fill="#c0c0c0"/>
<rect x="459" y="746" width="1" height="20" fill="#c0c0c0"/>
<rect x="463" y="746" width="1" height="24" fill="#c0c0c0"/>
<rect x="467" y="746" width="1" height="27" fill="#c0c0c0"/>
<rect x="471" y="746" width="1" height="31" fill="#c0c0c0"/>
<rect x="475" y="746" width="1" height="30" fill="#c0c0c0"/>
<rect x="479" y="746" width="1" height="30" fill="#c0c0c0"/>
<rect x="483" y="746" width="1" height="30" fill="#c0c0c0"/>
<rect x="487" y="746" width="1" height="30" fill="#c0c0c0"/>
<rect x="491" y="746" width="1" height="25" fill="#c0c0c0"/>
<rect x="495" y="746" width="1" height="20" fill="#c0c0c0"/>
<rect x="499" y="746" width="1" height="17" fill="#c0c0c0"/>
<rect x="503" y="746" width="1" height="15" fill="#c0c0c0"/>
<rect x="507" y="746" width="1" height="10" fill="#c0c0c0"/>
<rect x="511" y="746" width="1" height="6" fill="#c0c0c0"/>
<rect x="515" y="746" width="1" height="3" fill="#c0c0c0"/>
<rect x="519" y="746" width="1" height="1" fill="#c0c0c0"/>
<rect x="523" y="745" width="1" height="2" fill="#c0c0c0"/>
<rect x="527" y="746" width="1" height="2" fill="#c0c0c0"/>
<rect x="531" y="746" width="1" height="5" fill="#c0c0c0"/>
<rect x="535" y="746" width="1" height="7" fill="#c0c0c0"/>
<rect x="539" y="746" width="1" height="7" fill="#c0c0c0"/>
<rect x="543" y="746" width="1" height="10" fill="#c0c0c0"/>
<rect x="547" y="746" width="1" height="14" fill="#c0c0c0"/>
<rect x="551" y="746" width="1" height="22" fill="#c0c0c0"/>
<rect x="555" y="746" width="1" height="26" fill="#c0c0c0"/>
<rect x="559" y="746" width="1" height="29" fill="#c0c0c0"/>
<rect x="563" y="746" width="1" height="31" fill="#c0c0c0"/>
<rect x="567" y="746" width="1" height="28" fill="#c0c0c0"/>
<rect x="571" y="746" width="1" height="23" fill="#c0c0c0"/>
<rect x="575" y="746" width="1" height="23" fill="#c0c0c0"/>
<rect x="579" y="746" width="1" height="23" fill="#c0c0c0"/>
<rect x="583" y="746" width="1" height="22" fill="#c0c0c0"/>
<rect x="587" y="746" width="1" height="20" fill="#c0c0c0"/>
<rect x="591" y="746" width="1" height="21" fill="#c0c0c0"/>
<rect x="595" y="746" width="1" height="19" fill="#c0c0c0"/>
<rect x="599" y="746" width="1" height="15" fill="#c0c0c0"/>
<rect x="603" y="746" width="1" height="11" fill="#c0c0c0"/>
<rect x="607" y="746" width="1" height="8" fill="#c0c0c0"/>
<rect x="611" y="746" width="1" height="6" fill="#c0c0c0"/>
<rect x="615" y="746" width="1" height="6" fill="#c0c0c0"/>
<rect x="619" y="746" width="1" height="6" fill="#c0c0c0"/>
<rect x="623" y="746" width="1" height="9" fill="#c0c0c0"/>
<rect x="627" y="746" width="1" height="12" fill="#c0c0c0"/>
<rect x="631" y="746" width="1" height="14" fill="#c0c0c0"/>
<rect x="635" y="746" width="1" height="15" fill="#c0c0c0"/>
<rect x="639" y="746" width="1" height="17" fill="#c0c0c0"/>
<rect x="643" y="746" width="1" height="18" fill="#c0c0c0"/>
<rect x="647" y="746" width="1" height="17" fill="#c0c0c0"/>
<rect x="651" y="746" width="1" height="15" fill="#c0c0c0"/>
<rect x="655" y="746" width="1" height="11" fill="#c0c0c0"/>
<rect x="659" y="746" width="1" height="10" fill="#c0c0c0"/>
<rect x="663" y="746" width="1" height="10" fill="#c0c0c0"/>
<rect x="667" y="746" width="1" height="14" fill="#c0c0c0"/>
<rect x="671" y="746" width="1" height="16" fill="#c0c0c0"/>
<rect x="675" y="746" width="1" height="17" fill="#c0c0c0"/>
<rect x="679" y="746" width="1" height="15" fill="#c0c0c0"/>
<rect x="683" y="746" width="1" height="11" fill="#c0c0c0"/>
<rect x="687" y="746" width="1" height="5" fill="#c0c0c0"/>
<rect x="691" y="746" width="1" height="1" fill="#c0c0c0"/>
<rect x="695" y="738" width="1" height="9" fill="#c0c0c0"/>
<rect x="699" y="729" width="1" height="18" fill="#c0c0c0"/>
<rect x="703" y="721" width="1" height="26" fill="#c0c0c0"/>
<rect x="707" y="718" width="1" height="29" fill="#c0c0c0"/>
<rect x="711" y="715" width="1" height="32" fill="#c0c0c0"/>
<rect x="715" y="713" width="1" height="34" fill="#c0c0c0"/>
<rect x="719" y="716" width="1" height="31" fill="#c0c0c0"/>
<rect x="723" y="722" width="1" height="25" fill="#c0c0c0"/>
<rect x="727" y="729" width="1" height="18" fill="#c0c0c0"/>
<rect x="731" y="732" width="1" height="15" fill="#c0c0c0"/>
<rect x="735" y="737" width="1" height="10" fill="#c0c0c0"/>
<rect x="739" y="740" width="1" height="7" fill="#c0c0c0"/>
<rect x="743" y="737" width="1" height="10" fill="#c0c0c0"/>
<rect x="747" y="731" width="1" height="16" fill="#c0c0c0"/>
<rect x="751" y="723" width="1" height="24" fill="#c0c0c0"/>
<rect x="755" y="715" width="1" height="32" fill="#c0c0c0"/>
<rect x="759" y="710" width="1" height="37" fill="#c0c0c0"/>
<rect x="763" y="706" width="1" height="41" fill="#c0c0c0"/>
<rect x="767" y="705" width="1" height="42" fill="#c0c0c0"/>
<rect x="771" y="704" width="1" height="43" fill="#c0c0c0"/>
<rect x="775" y="704" width="1" height="43" fill="#c0c0c0"/>
<rect x="779" y="710" width="1" height="37" fill="#c0c0c0"/>
<rect x="783" y="716" width="1" height="31" fill="#c0c0c0"/>
<rect x="787" y="723" width="1" height="24" fill="#c0c0c0"/>
<rect x="791" y="728" width="1" height="19" fill="#c0c0c0"/>
<rect x="795" y="737" width="1" height="10" fill="#c0c0c0"/>
<rect x="799" y="744" width="1" height="3" fill="#c0c0c0"/>
<rect x="803" y="746" width="1" height="5" fill="#c0c0c0"/>
<rect x="807" y="746" width="1" height="10" fill="#c0c0c0"/>
<rect x="811" y="746" width="1" height="10" fill="#c0c0c0"/>
<rect x="815" y="746" width="1" height="9" fill="#c0c0c0"/>
<rect x="819" y="746" width="1" height="9" fill="#c0c0c0"/>
<rect x="823" y="746" width="1" height="8" fill="#c0c0c0"/>
<rect x="827" y="746" width="1" height="8" fill="#c0c0c0"/>
<rect x="831" y="746" width="1" height="12" fill="#c0c0c0"/>
<rect x="835" y="746" width="1" height="13" fill="#c0c0c0"/>
<rect x="839" y="746" width="1" height="14" fill="#c0c0c0"/>
<rect x="843" y="746" width="1" height="15" fill="#c0c0c0"/>
<rect x="847" y="746" width="1" height="16" fill="#c0c0c0"/>
<rect x="851" y="746" width="1" height="17" fill="#c0c0c0"/>
<rect x="855" y="746" width="1" height="22" fill="#c0c0c0"/>
<rect x="859" y="746" width="1" height="27" fill="#c0c0c0"/>
<rect x="863" y="746" width="1" height="30" fill="#c0c0c0"/>
<rect x="867" y="746" width="1" height="34" fill="#c0c0c0"/>
<rect x="871" y="746" width="1" height="37" fill="#c0c0c0"/>
<rect x="875" y="746" width="1" height="37" fill="#c0c0c0"/>
<rect x="879" y="746" width="1" height="37" fill="#c0c0c0"/>
<rect x="883" y="746" width="1" height="37" fill="#c0c0c0"/>
<rect x="887" y="746" width="1" height="43" fill="#c0c0c0"/>
<rect x="891" y="746" width="1" height="43" fill="#c0c0c0"/>
<rect x="895" y="746" width="1" height="42" fill="#c0c0c0"/>
<rect x="899" y="746" width="1" height="34" fill="#c0c0c0"/>
<rect x="903" y="746" width="1" height="28" fill="#c0c0c0"/>
<rect x="907" y="746" width="1" height="20" fill="#c0c0c0"/>
<rect x="911" y="746" width="1" height="15" fill="#c0c0c0"/>
<rect x="915" y="746" width="1" height="10" fill="#c0c0c0"/>
<rect x="919" y="746" width="1" height="7" fill="#c0c0c0"/>
<rect x="923" y="746" width="1" height="4" fill="#c0c0c0"/>
<rect x="927" y="746" width="1" height="5" fill="#c0c0c0"/>
<rect x="931" y="746" width="1" height="8" fill="#c0c0c0"/>
<rect x="935" y="746" width="1" height="15" fill="#c0c0c0"/>
<rect x="939" y="746" width="1" height="20" fill="#c0c0c0"/>
<rect x="943" y="746" width="1" height="23" fill="#c0c0c0"/>
<rect x="947" y="746" width="1" height="25" fill="#c0c0c0"/>
<rect x="951" y="746" width="1" height="27" fill="#c0c0c0"/>
<rect x="955" y="746" width="1" height="28" fill="#c0c0c0"/>
<rect x="959" y="746" width="1" height="29" fill="#c0c0c0"/>
<rect x="963" y="746" width="1" height="25" fill="#c0c0c0"/>
<rect x="967" y="746" width="1" height="21" fill="#c0c0c0"/>
<rect x="971" y="746" width="1" height="21" fill="#c0c0c0"/>
<rect x="975" y="746" width="1" height="22" fill="#c0c0c0"/>
<rect x="979" y="746" width="1" height="24" fill="#c0c0c0"/>
<rect x="983" y="746" width="1" height="27" fill="#c0c0c0"/>
<rect x="987" y="746" width="1" height="34" fill="#c0c0c0"/>
<rect x="991" y="746" width="1" height="41" fill="#c0c0c0"/>
<rect x="995" y="746" width="1" height="46" fill="#c0c0c0"/>
<rect x="999" y="746" width="1" height="50" fill="#c0c0c0"/>
<rect x="1003" y="746" width="1" height="47" fill="#c0c0c0"/>
<rect x="1007" y="746" width="1" height="44" fill="#c0c0c0"/>
<rect x="1011" y="746" width="1" height="41" fill="#c0c0c0"/>
<rect x="1015" y="746" width="1" height="38" fill="#c0c0c0"/>
<rect x="1019" y="746" width="1" height="34" fill="#c0c0c0"/>
<rect x="1023" y="746" width="1" height="31" fill="#c0c0c0"/>
<rect x="1027" y="746" width="1" height="32" fill="#c0c0c0"/>
<rect x="1031" y="746" width="1" height="27" fill="#c0c0c0"/>
<rect x="1035" y="746" width="1" height="22" fill="#c0c0c0"/>
<rect x="1039" y="746" width="1" height="19" fill="#c0c0c0"/>
<rect x="1043" y="746" width="1" height="21" fill="#c0c0c0"/>
<rect x="1047" y="746" width="1" height="18" fill="#c0c0c0"/>
<rect x="1051" y="746" width="1" height="15" fill="#c0c0c0"/>
<rect x="1055" y="746" width="1" height="14" fill="#c0c0c0"/>
<rect x="1059" y="746" width="1" height="17" fill="#c0c0c0"/>
<rect x="1063" y="746" width="1" height="18" fill="#c0c0c0"/>
<rect x="1067" y="746" width="1" height="20" fill="#c0c0c0"/>
<rect x="1071" y="746" width="1" height="21" fill="#c0c0c0"/>
<rect x="1075" y="746" width="1" height="26" fill="#c0c0c0"/>
<rect x="1079" y="746" width="1" height="30" fill="#c0c0c0"/>
<rect x="1083" y="746" width="1" height="33" fill="#c0c0c0"/>
<rect x="1087" y="746" width="1" height="35" fill="#c0c0c0"/>
<rect x="1091" y="746" width="1" height="39" fill="#c0c0c0"/>
<rect x="1095" y="746" width="1" height="39" fill="#c0c0c0"/>
<rect x="1099" y="746" width="1" height="38" fill="#c0c0c0"/>
<rect x="1103" y="746" width="1" height="33" fill="#c0c0c0"/>
<rect x="1107" y="746" width="1" height="30" fill="#c0c0c0"/>
<rect x="1111" y="746" width="1" height="26" fill="#c0c0c0"/>
<rect x="1115" y="746" width="1" height="23" fill="#c0c0c0"/>
<rect x="1119" y="746" width="1" height="24" fill="#c0c0c0"/>
<rect x="1123" y="746" width="1" height="21" fill="#c0c0c0"/>
<rect x="1127" y="746" width="1" height="16" fill="#c0c0c0"/>
<rect x="1131" y="746" width="1" height="10" fill="#c0c0c0"/>
<rect x="1135" y="746" width="1" height="4" fill="#c0c0c0"/>
<rect x="1139" y="746" width="1" height="2" fill="#c0c0c0"/>
<rect x="1143" y="745" width="1" height="2" fill="#c0c0c0"/>
<rect x="1147" y="739" width="1" height="8" fill="#c0c0c0"/>
<rect x="1151" y="731" width="1" height="16" fill="#c0c0c0"/>
<rect x="1155" y="722" width="1" height="25" fill="#c0c0c0"/>
<rect x="1159" y="715" width="1" height="32" fill="#c0c0c0"/>
<rect x="1163" y="711" width="1" height="36" fill="#c0c0c0"/>
<rect x="1167" y="709" width="1" height="38" fill="#c0c0c0"/>
<rect x="1171" y="710" width="1" height="37" fill="#c0c0c0"/>
<rect x="1175" y="712" width="1" height="35" fill="#c0c0c0"/>
<rect x="1179" y="716" width="1" height="31" fill="#c0c0c0"/>
<rect x="1183" y="719" width="1" height="28" fill="#c0c0c0"/>
<rect x="1187" y="721" width="1" height="26" fill="#c0c0c0"/>
<rect x="1191" y="721" width="1" height="26" fill="#c0c0c0"/>
<rect x="1195" y="720" width="1" height="27" fill="#c0c0c0"/>
<rect x="1199" y="718" width="1" height="29" fill="#c0c0c0"/>
<rect x="1203" y="715" width="1" height="32" fill="#c0c0c0"/>
<rect x="1207" y="713" width="1" height="34" fill="#c0c0c0"/>
<rect x="1211" y="713" width="1" height="34" fill="#c0c0c0"/>
<rect x="1215" y="720" width="1" height="27" fill="#c0c0c0"/>
<rect x="1219" y="726" width="1" height="21" fill="#c0c0c0"/>
<rect x="1223" y="733" width="1" height="14" fill="#c0c0c0"/>
<rect x="1227" y="741" width="1" height="6" fill="#c0c0c0"/>
<rect x="1231" y="746" width="1" height="1" fill="#c0c0c0"/>
<rect x="1235" y="746" width="1" height="4" fill="#c0c0c0"/>
<rect x="1239" y="746" width="1" height="9" fill="#c0c0c0"/>
<rect x="1243" y="746" width="1" height="13" fill="#c0c0c0"/>
<rect x="1247" y="746" width="1" height="16" fill="#c0c0c0"/>
<rect x="1251" y="746" width="1" height="15" fill="#c0c0c0"/>
<rect x="1255" y="746" width="1" height="13" fill="#c0c0c0"/>
<rect x="1259" y="746" width="1" height="10" fill="#c0c0c0"/>
<rect x="1263" y="746" width="1" height="7" fill="#c0c0c0"/>
<rect x="1267" y="746" width="1" height="6" fill="#c0c0c0"/>
<rect x="1271" y="746" width="1" height="4" fill="#c0c0c0"/>
<rect x="1275" y="746" width="1" height="6" fill="#c0c0c0"/>
<rect x="1279" y="746" width="1" height="8" fill="#c0c0c0"/>
<rect x="1283" y="746" width="1" height="11" fill="#c0c0c0"/>
<rect x="1287" y="746" width="1" height="13" fill="#c0c0c0"/>
<rect x="1291" y="746" width="1" height="16" fill="#c0c0c0"/>
<rect x="1295" y="746" width="1" height="17" fill="#c0c0c0"/>
<rect x="1299" y="746" width="1" height="16" fill="#c0c0c0"/>
<rect x="1303" y="746" width="1" height="15" fill="#c0c0c0"/>
<rect x="1307" y="746" width="1" height="11" fill="#c0c0c0"/>
<rect x="1311" y="746" width="1" height="6" fill="#c0c0c0"/>
<rect x="1315" y="746" width="1" height="2" fill="#c0c0c0"/>
<rect x="1319" y="744" width="1" height="3" fill="#c0c0c0"/>
<rect x="1323" y="745" width="1" height="2" fill="#c0c0c0"/>
<rect x="1327" y="745" width="1" height="2" fill="#c0c0c0"/>
<rect x="1331" y="744" width="1" height="3" fill="#c0c0c0"/>
<rect x="1335" y="741" width="1" height="6" fill="#c0c0c0"/>
<rect x="1339" y="739" width="1" height="8" fill="#c0c0c0"/>
<path d="M237.5 742V744M313.5 763V765M701.5 749V751M804.5 725V727M812.5 736V738M925.5 766V768M1156.5 745V747M1160.5 739V741M1165.5 732V734M1169.5 727V729M1241.5 735V737M786 710.5H789M782 711.5H783M780 712.5H782M792 713.5H794M776 714.5H777M794 714.5H795M775 715.5H776M1186 715.5H1189M1192 715.5H1195M774 716.5H775M1198 716.5H1201M1181 717.5H1183M1204 717.5H1207M1210 717.5H1213M798 718.5H799M1180 718.5H1181M1216 718.5H1218M799 719.5H800M1218 719.5H1219M770 720.5H771M800 720.5H801M1222 720.5H1225M769 721.5H770M1176 721.5H1177M727 722.5H729M732 722.5H734M768 722.5H769M1175 722.5H1176M726 723.5H727M734 723.5H735M1174 723.5H1175M1228 723.5H1230M213 724.5H214M738 724.5H739M803 724.5H804M1230 724.5H1231M207 725.5H210M214 725.5H216M722 725.5H723M739 725.5H741M764 725.5H765M203 726.5H204M219 726.5H221M720 726.5H722M763 726.5H764M1170 726.5H1171M201 727.5H203M221 727.5H222M744 727.5H745M762 727.5H763M745 728.5H747M1234 728.5H1235M195 729.5H198M757 729.5H759M1235 729.5H1236M190 730.5H192M225 730.5H226M717 730.5H718M750 730.5H753M756 730.5H757M807 730.5H808M1236 730.5H1237M189 731.5H190M226 731.5H227M716 731.5H717M808 731.5H809M171 732.5H174M177 732.5H180M183 732.5H186M227 732.5H228M715 732.5H716M809 732.5H810M165 733.5H168M159 734.5H162M1164 734.5H1165M1240 734.5H1241M155 736.5H156M231 736.5H232M712 736.5H713M153 737.5H155M232 737.5H233M711 737.5H712M233 738.5H234M710 738.5H711M813 738.5H814M1161 738.5H1162M149 739.5H150M147 740.5H149M1244 740.5H1245M1245 741.5H1246M284 742.5H287M708 742.5H709M816 742.5H817M1246 742.5H1247M143 743.5H144M290 743.5H293M707 743.5H708M817 743.5H818M141 744.5H143M238 744.5H239M279 744.5H281M706 744.5H707M818 744.5H819M1157 744.5H1158M278 745.5H279M296 746.5H298M1249 746.5H1250M1339 746.5H1340M136 747.5H138M242 747.5H243M273 747.5H275M298 747.5H299M822 747.5H823M1250 747.5H1251M135 748.5H136M243 748.5H244M272 748.5H273M702 748.5H703M823 748.5H824M1251 748.5H1252M244 749.5H245M824 749.5H825M1335 749.5H1336M131 750.5H132M267 750.5H269M302 750.5H303M539 750.5H542M545 750.5H546M1153 750.5H1154M1333 750.5H1335M129 751.5H131M248 751.5H249M266 751.5H267M303 751.5H304M534 751.5H536M546 751.5H548M1152 751.5H1153M249 752.5H251M262 752.5H263M304 752.5H305M449 752.5H452M455 752.5H457M533 752.5H534M828 752.5H830M1151 752.5H1152M1255 752.5H1257M1329 752.5H1330M123 753.5H126M254 753.5H257M260 753.5H262M378 753.5H380M383 753.5H386M443 753.5H446M457 753.5H458M529 753.5H530M551 753.5H552M830 753.5H831M1257 753.5H1258M1327 753.5H1329M118 754.5H120M377 754.5H378M527 754.5H529M552 754.5H554M696 754.5H698M105 755.5H108M111 755.5H114M117 755.5H118M373 755.5H374M389 755.5H391M439 755.5H440M461 755.5H463M695 755.5H696M834 755.5H837M1261 755.5H1263M1279 755.5H1282M1285 755.5H1288M1291 755.5H1294M1322 755.5H1324M99 756.5H102M307 756.5H308M371 756.5H373M391 756.5H392M438 756.5H439M463 756.5H464M629 756.5H632M635 756.5H638M641 756.5H642M840 756.5H842M1147 756.5H1148M1263 756.5H1264M1267 756.5H1270M1273 756.5H1276M1297 756.5H1298M1321 756.5H1322M95 757.5H96M308 757.5H309M437 757.5H438M523 757.5H524M623 757.5H626M642 757.5H644M690 757.5H692M842 757.5H843M941 757.5H942M1146 757.5H1147M1298 757.5H1300M1317 757.5H1318M93 758.5H95M309 758.5H310M367 758.5H368M522 758.5H523M557 758.5H558M619 758.5H620M689 758.5H690M846 758.5H849M852 758.5H853M935 758.5H938M942 758.5H944M1145 758.5H1146M1303 758.5H1306M1309 758.5H1312M1315 758.5H1317M366 759.5H367M395 759.5H396M467 759.5H468M521 759.5H522M558 759.5H559M617 759.5H619M647 759.5H650M683 759.5H686M853 759.5H855M947 759.5H949M89 760.5H90M365 760.5H366M396 760.5H398M432 760.5H434M468 760.5H470M559 760.5H560M653 760.5H656M659 760.5H662M665 760.5H668M671 760.5H674M677 760.5H680M949 760.5H950M87 761.5H89M431 761.5H432M613 761.5H614M858 761.5H859M931 761.5H932M312 762.5H313M516 762.5H518M611 762.5H613M859 762.5H861M930 762.5H931M953 762.5H955M1140 762.5H1142M360 763.5H362M401 763.5H402M473 763.5H474M515 763.5H516M563 763.5H565M929 763.5H930M955 763.5H956M1139 763.5H1140M83 764.5H84M359 764.5H360M402 764.5H403M427 764.5H428M474 764.5H475M565 764.5H566M606 764.5H608M1067 764.5H1070M1073 764.5H1074M81 765.5H83M403 765.5H404M426 765.5H427M475 765.5H476M605 765.5H606M864 765.5H866M1063 765.5H1064M1074 765.5H1076M425 766.5H426M569 766.5H571M601 766.5H602M866 766.5H867M959 766.5H961M1061 766.5H1063M1079 766.5H1081M407 767.5H410M511 767.5H512M571 767.5H572M599 767.5H601M961 767.5H962M1081 767.5H1082M1135 767.5H1136M76 768.5H78M317 768.5H318M355 768.5H356M413 768.5H414M419 768.5H422M479 768.5H481M509 768.5H511M924 768.5H925M1055 768.5H1058M1134 768.5H1135M39 769.5H42M45 769.5H48M51 769.5H54M75 769.5H76M318 769.5H319M354 769.5H355M414 769.5H416M481 769.5H482M575 769.5H578M594 769.5H596M870 769.5H871M965 769.5H967M1085 769.5H1087M1133 769.5H1134M57 770.5H58M319 770.5H320M353 770.5H354M581 770.5H582M593 770.5H594M871 770.5H873M967 770.5H968M1051 770.5H1052M1087 770.5H1088M35 771.5H36M58 771.5H60M70 771.5H72M485 771.5H487M504 771.5H506M582 771.5H584M587 771.5H590M971 771.5H974M977 771.5H980M983 771.5H986M1050 771.5H1051M34 772.5H35M63 772.5H66M69 772.5H70M487 772.5H488M503 772.5H504M920 772.5H921M989 772.5H990M1049 772.5H1050M33 773.5H34M348 773.5H350M498 773.5H500M876 773.5H878M919 773.5H920M990 773.5H992M1091 773.5H1093M1128 773.5H1130M323 774.5H325M347 774.5H348M491 774.5H494M497 774.5H498M878 774.5H879M918 774.5H919M1045 774.5H1046M1093 774.5H1094M1127 774.5H1128M325 775.5H326M995 775.5H996M1043 775.5H1045M342 776.5H344M882 776.5H883M996 776.5H998M1097 776.5H1099M1123 776.5H1124M28 777.5H30M329 777.5H331M341 777.5H342M883 777.5H884M914 777.5H915M1099 777.5H1100M1121 777.5H1123M27 778.5H28M331 778.5H332M335 778.5H338M884 778.5H885M912 778.5H914M1039 778.5H1040M1001 779.5H1002M1038 779.5H1039M1103 779.5H1106M1115 779.5H1118M888 780.5H889M1002 780.5H1003M1037 780.5H1038M1109 780.5H1112M23 781.5H24M889 781.5H891M908 781.5H909M1003 781.5H1004M22 782.5H23M907 782.5H908M21 783.5H22M894 783.5H895M906 783.5H907M1007 783.5H1009M1032 783.5H1034M895 784.5H897M900 784.5H903M1009 784.5H1010M1031 784.5H1032M17 785.5H18M15 786.5H17M1013 786.5H1015M1026 786.5H1028M1015 787.5H1016M1025 787.5H1026M10 788.5H12M1019 788.5H1022M9 789.5H10M3 790.5H6" fill="none" stroke="#ff0000" stroke-width="1"/>
</g>
<rect x="2.5" y="22.5" width="1681" height="567" fill="none" stroke="#000" stroke-width="1" shape-rendering="crispEdges"/>
<rect x="2.5" y="591.5" width="1681" height="104" fill="none" stroke="#000" stroke-width="1" shape-rendering="crispEdges"/>
<rect x="2.5" y="697.5" width="1681" height="103" fill="none" stroke="#000" stroke-width="1" shape-rendering="crispEdges"/>
<path d="M6,29 L13,29 L9.5,33 Z" fill="#000"/>
<text x="18.4" y="34" font-size="9" fill="#000" stroke="#000" stroke-width="0.1" textLength="63" lengthAdjust="spacingAndGlyphs">EURUSD,Daily</text>
<text x="88.3" y="34" font-size="9" fill="#000" stroke="#000" stroke-width="0.1" textLength="32.3" lengthAdjust="spacingAndGlyphs">1.10891</text>
<text x="124.4" y="34" font-size="9" fill="#000" stroke="#000" stroke-width="0.1" textLength="32.3" lengthAdjust="spacingAndGlyphs">1.10969</text>
<text x="160.4" y="34" font-size="9" fill="#000" stroke="#000" stroke-width="0.1" textLength="32.3" lengthAdjust="spacingAndGlyphs">1.10838</text>
<text x="196.3" y="34" font-size="9" fill="#000" stroke="#000" stroke-width="0.1" textLength="32.3" lengthAdjust="spacingAndGlyphs">1.10917</text>
<text x="7.3" y="604" font-size="9" fill="#000" stroke="#000" stroke-width="0.1" textLength="67.7" lengthAdjust="spacingAndGlyphs">RSI(14) 57.8736</text>
<text x="7.4" y="710" font-size="9" fill="#000" stroke="#000" stroke-width="0.1" textLength="147.4" lengthAdjust="spacingAndGlyphs">MACD(12,26,9) 0.000691 0.000020</text>
<rect x="1684" y="593" width="2" height="1" fill="#000"/>
<text x="1687" y="602" font-size="9" fill="#000" stroke="#000" stroke-width="0.1" textLength="15.5" lengthAdjust="spacingAndGlyphs">100</text>
<text x="1686" y="626.7" font-size="9" fill="#000" stroke="#000" stroke-width="0.1" textLength="10.3" lengthAdjust="spacingAndGlyphs">70</text>
<text x="1686" y="667.7" font-size="9" fill="#000" stroke="#000" stroke-width="0.1" textLength="10.3" lengthAdjust="spacingAndGlyphs">30</text>
<text x="1687" y="691.7" font-size="9" fill="#000" stroke="#000" stroke-width="0.1" textLength="5.2" lengthAdjust="spacingAndGlyphs">0</text>
<rect x="1684" y="699" width="2" height="1" fill="#000"/>
<rect x="1684" y="746" width="2" height="1" fill="#000"/>
<rect x="1684" y="799" width="2" height="1" fill="#000"/>
<text x="1687.4" y="708" font-size="9" fill="#000" stroke="#000" stroke-width="0.1" textLength="32.1" lengthAdjust="spacingAndGlyphs">0.00463</text>
<text x="1687.4" y="750.3" font-size="9" fill="#000" stroke="#000" stroke-width="0.1" textLength="18" lengthAdjust="spacingAndGlyphs">0.00</text>
<text x="1687.4" y="798" font-size="9" fill="#000" stroke="#000" stroke-width="0.1" textLength="42" lengthAdjust="spacingAndGlyphs">-0.005295</text>
<rect x="1685" y="408" width="41" height="11" fill="#000000"/>
<text x="1689.5" y="417" font-size="9" fill="#fff" stroke="#fff" stroke-width="0.1" textLength="31.8" lengthAdjust="spacingAndGlyphs">1.10917</text>
<rect x="1685" y="332" width="41" height="11" fill="#ff0000"/>
<text x="1689.5" y="341" font-size="9" fill="#fff" stroke="#fff" stroke-width="0.1" textLength="31.8" lengthAdjust="spacingAndGlyphs">1.11903</text>
<rect x="1685" y="400" width="41" height="11" fill="#ff0000"/>
<text x="1689.5" y="409" font-size="9" fill="#fff" stroke="#fff" stroke-width="0.1" textLength="31.8" lengthAdjust="spacingAndGlyphs">1.11009</text>
<rect x="1685" y="476" width="41" height="11" fill="#00ff00"/>
<text x="1689.5" y="485" font-size="9" fill="#fff" stroke="#fff" stroke-width="0.1" textLength="31.8" lengthAdjust="spacingAndGlyphs">1.10008</text>
<rect x="1685" y="567" width="41" height="11" fill="#0000c8"/>
<text x="1689.5" y="576" font-size="9" fill="#fff" stroke="#fff" stroke-width="0.1" textLength="31.8" lengthAdjust="spacingAndGlyphs">1.08800</text>
<rect x="3" y="801" width="1" height="2" fill="#000"/>
<text x="2.3" y="813" font-size="9" fill="#000" stroke="#000" stroke-width="0.1" textLength="51.9" lengthAdjust="spacingAndGlyphs">16 Nov 2018</text>
<rect x="67" y="801" width="1" height="2" fill="#000"/>
<text x="66.3" y="813" font-size="9" fill="#000" stroke="#000" stroke-width="0.1" textLength="46.8" lengthAdjust="spacingAndGlyphs">5 Dec 2018</text>
<rect x="131" y="801" width="1" height="2" fill="#000"/>
<text x="130.3" y="813" font-size="9" fill="#000" stroke="#000" stroke-width="0.1" textLength="51.9" lengthAdjust="spacingAndGlyphs">24 Dec 2018</text>
<rect x="195" y="801" width="1" height="2" fill="#000"/>
<text x="194.3" y="813" font-size="9" fill="#000" stroke="#000" stroke-width="0.1" textLength="49.7" lengthAdjust="spacingAndGlyphs">11 Jan 2019</text>
<rect x="259" y="801" width="1" height="2" fill="#000"/>
<text x="258.3" y="813" font-size="9" fill="#000" stroke="#000" stroke-width="0.1" textLength="50.4" lengthAdjust="spacingAndGlyphs">30 Jan 2019</text>
<rect x="323" y="801" width="1" height="2" fill="#000"/>
<text x="322.3" y="813" font-size="9" fill="#000" stroke="#000" stroke-width="0.1" textLength="51.4" lengthAdjust="spacingAndGlyphs">18 Feb 2019</text>
<rect x="387" y="801" width="1" height="2" fill="#000"/>
<text x="386.3" y="813" font-size="9" fill="#000" stroke="#000" stroke-width="0.1" textLength="46.3" lengthAdjust="spacingAndGlyphs">8 Mar 2019</text>
<rect x="451" y="801" width="1" height="2" fill="#000"/>
<text x="450.3" y="813" font-size="9" fill="#000" stroke="#000" stroke-width="0.1" textLength="51.4" lengthAdjust="spacingAndGlyphs">27 Mar 2019</text>
<rect x="515" y="801" width="1" height="2" fill="#000"/>
<text x="514.3" y="813" font-size="9" fill="#000" stroke="#000" stroke-width="0.1" textLength="49.4" lengthAdjust="spacingAndGlyphs">15 Apr 2019</text>
<rect x="579" y="801" width="1" height="2" fill="#000"/>
<text x="578.3" y="813" font-size="9" fill="#000" stroke="#000" stroke-width="0.1" textLength="47.8" lengthAdjust="spacingAndGlyphs">3 May 2019</text>
<rect x="643" y="801" width="1" height="2" fill="#000"/>
<text x="642.3" y="813" font-size="9" fill="#000" stroke="#000" stroke-width="0.1" textLength="52.9" lengthAdjust="spacingAndGlyphs">22 May 2019</text>
<rect x="707" y="801" width="1" height="2" fill="#000"/>
<text x="706.3" y="813" font-size="9" fill="#000" stroke="#000" stroke-width="0.1" textLength="50.4" lengthAdjust="spacingAndGlyphs">10 Jun 2019</text>
<rect x="771" y="801" width="1" height="2" fill="#000"/>
<text x="770.3" y="813" font-size="9" fill="#000" stroke="#000" stroke-width="0.1" textLength="50.4" lengthAdjust="spacingAndGlyphs">28 Jun 2019</text>
<rect x="835" y="801" width="1" height="2" fill="#000"/>
<text x="834.3" y="813" font-size="9" fill="#000" stroke="#000" stroke-width="0.1" textLength="47.3" lengthAdjust="spacingAndGlyphs">17 Jul 2019</text>
<rect x="899" y="801" width="1" height="2" fill="#000"/>
<text x="898.3" y="813" font-size="9" fill="#000" stroke="#000" stroke-width="0.1" textLength="46.3" lengthAdjust="spacingAndGlyphs">5 Aug 2019</text>
<rect x="963" y="801" width="1" height="2" fill="#000"/>
<text x="962.3" y="813" font-size="9" fill="#000" stroke="#000" stroke-width="0.1" textLength="51.4" lengthAdjust="spacingAndGlyphs">23 Aug 2019</text>
<rect x="1027" y="801" width="1" height="2" fill="#000"/>
<text x="1026.3" y="813" font-size="9" fill="#000" stroke="#000" stroke-width="0.1" textLength="51.2" lengthAdjust="spacingAndGlyphs">11 Sep 2019</text>
<rect x="1091" y="801" width="1" height="2" fill="#000"/>
<text x="1090.3" y="813" font-size="9" fill="#000" stroke="#000" stroke-width="0.1" textLength="51.9" lengthAdjust="spacingAndGlyphs">30 Sep 2019</text>
<rect x="1155" y="801" width="1" height="2" fill="#000"/>
<text x="1154.3" y="813" font-size="9" fill="#000" stroke="#000" stroke-width="0.1" textLength="49.9" lengthAdjust="spacingAndGlyphs">18 Oct 2019</text>
<rect x="1219" y="801" width="1" height="2" fill="#000"/>
<text x="1218.3" y="813" font-size="9" fill="#000" stroke="#000" stroke-width="0.1" textLength="46.8" lengthAdjust="spacingAndGlyphs">6 Nov 2019</text>
<rect x="1283" y="801" width="1" height="2" fill="#000"/>
<text x="1282.3" y="813" font-size="9" fill="#000" stroke="#000" stroke-width="0.1" textLength="51.9" lengthAdjust="spacingAndGlyphs">25 Nov 2019</text>
<path d="M4.5,841 L4.5,823.5 L107.5,823.5 L107.5,841" fill="#fff" stroke="#000" stroke-width="1"/>
<rect x="4" y="841" width="104" height="1" fill="#000"/>
<text x="16.3" y="838" font-size="12" fill="#000" stroke="#000" stroke-width="0" textLength="79.4" lengthAdjust="spacingAndGlyphs">EURUSD,Daily</text>
<text x="118.3" y="838" font-size="12" fill="#7a7a7a" stroke="#7a7a7a" stroke-width="0" textLength="78.3" lengthAdjust="spacingAndGlyphs">USDCHF,Daily</text>
<text x="219.2" y="838" font-size="12" fill="#7a7a7a" stroke="#7a7a7a" stroke-width="0" textLength="81.5" lengthAdjust="spacingAndGlyphs">AUDUSD,Daily</text>
<text x="323" y="838" font-size="12" fill="#7a7a7a" stroke="#7a7a7a" stroke-width="0" textLength="80.7" lengthAdjust="spacingAndGlyphs">USDCAD,Daily</text>
<text x="426.3" y="838" font-size="12" fill="#7a7a7a" stroke="#7a7a7a" stroke-width="0" textLength="82.5" lengthAdjust="spacingAndGlyphs">USDCNH,Daily</text>
<rect x="208" y="826" width="1" height="13" fill="#7a7a7a"/>
<rect x="312" y="826" width="1" height="13" fill="#7a7a7a"/>
<rect x="416" y="826" width="1" height="13" fill="#7a7a7a"/>
<rect x="520" y="826" width="1" height="13" fill="#7a7a7a"/>
<path d="M1702,828 L1702,836 L1698,832 Z" fill="#a0a0a0"/>
<path d="M1718,828 L1718,836 L1722,832 Z" fill="#a0a0a0"/>
</svg></body></html>
